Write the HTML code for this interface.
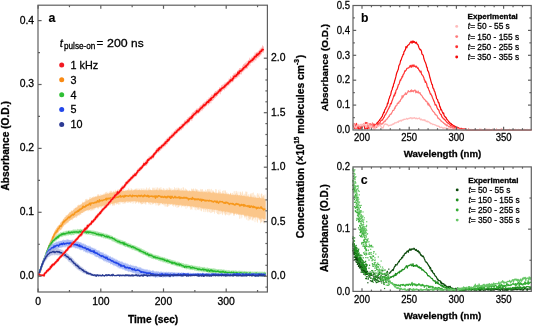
<!DOCTYPE html>
<html><head><meta charset="utf-8"><style>
html,body{margin:0;padding:0;background:#fff;}
svg{display:block;font-family:"Liberation Sans", sans-serif;will-change:transform;}
text{stroke:#000;stroke-width:0.28px;}
</style></head><body>
<svg width="533" height="326" viewBox="0 0 533 326">
<rect width="533" height="326" fill="#fff"/>
<path d="M38.5,273.64 L39,272.79 L39.5,271.47 L40,269.69 L40.5,267.95 L41,266.94 L41.5,265.46 L42,262.95 L42.5,261.96 L43,260.8 L43.5,259.39 L44,258.29 L44.5,256.72 L45,255.5 L45.5,254.14 L46,252.05 L46.5,251.23 L47,250.14 L47.5,248.72 L48,246.65 L48.5,245.26 L49,244.88 L49.5,243.49 L50,241.27 L50.5,241.26 L51,239.22 L51.5,238.67 L52,236.39 L52.5,236.01 L53,235.28 L53.5,234.01 L54,232.79 L54.5,231.45 L55,231.17 L55.5,229.35 L56,229.35 L56.5,228.23 L57,227.33 L57.5,226.46 L58,226.67 L58.5,225.73 L59,225.51 L59.5,224.68 L60,223.97 L60.5,222.79 L61,222.11 L61.5,222.31 L62,220.51 L62.5,220.95 L63,220.02 L63.5,218.44 L64,218.76 L64.5,218.23 L65,217.57 L65.5,217.11 L66,216.5 L66.5,215.35 L67,215.45 L67.5,215.25 L68,214.15 L68.5,214.21 L69,212.87 L69.5,213.53 L70,212.15 L70.5,212.52 L71,211.81 L71.5,211.22 L72,210.89 L72.5,210.94 L73,210.02 L73.5,209.43 L74,209.76 L74.5,209.47 L75,208.29 L75.5,207.86 L76,208.25 L76.5,207.8 L77,207.18 L77.5,207.13 L78,205.81 L78.5,206.11 L79,205.61 L79.5,205.54 L80,204.87 L80.5,204.95 L81,204.38 L81.5,204.21 L82,203.27 L82.5,202.8 L83,202.99 L83.5,202.74 L84,202.34 L84.5,202.43 L85,202.08 L85.5,201.42 L86,201.49 L86.5,199.88 L87,200.43 L87.5,200.48 L88,200.14 L88.5,199.64 L89,199.7 L89.5,199.44 L90,198.58 L90.5,198.94 L91,198.67 L91.5,197.94 L92,198.5 L92.5,197.36 L93,197.91 L93.5,197.82 L94,197.62 L94.5,196.98 L95,197.11 L95.5,196.56 L96,197.04 L96.5,196.99 L97,196.6 L97.5,196.32 L98,195.52 L98.5,196.19 L99,195.78 L99.5,195.76 L100,195.93 L100.5,195.82 L101,195.26 L101.5,195.31 L102,195.25 L102.5,194.75 L103,195.03 L103.5,194.7 L104,194.72 L104.5,194.5 L105,194.57 L105.5,193.92 L106,193.34 L106.5,194.26 L107,193.39 L107.5,192.91 L108,193.74 L108.5,193.42 L109,193.43 L109.5,193.29 L110,192.82 L110.5,192.64 L111,192.97 L111.5,193.01 L112,192.57 L112.5,192.78 L113,191.92 L113.5,192.74 L114,191.57 L114.5,192.44 L115,192.04 L115.5,191.7 L116,191.23 L116.5,191.24 L117,191.64 L117.5,191.28 L118,191.34 L118.5,191.29 L119,191.51 L119.5,190.58 L120,190.72 L120.5,191.27 L121,190.82 L121.5,191 L122,191.01 L122.5,190.66 L123,190.76 L123.5,190.7 L124,191.03 L124.5,191.05 L125,190.5 L125.5,190.46 L126,190.92 L126.5,190.4 L127,190.61 L127.5,190.13 L128,190.51 L128.5,190.61 L129,190.66 L129.5,190.7 L130,190.14 L130.5,190.79 L131,189.73 L131.5,190 L132,190.37 L132.5,190.63 L133,190.09 L133.5,190.6 L134,190.3 L134.5,190.09 L135,190.24 L135.5,189.49 L136,189.47 L136.5,189.55 L137,190.3 L137.5,190.11 L138,190.57 L138.5,189.64 L139,190.03 L139.5,189.77 L140,189.82 L140.5,190.4 L141,190.13 L141.5,190.41 L142,190.1 L142.5,190.31 L143,190.46 L143.5,189.88 L144,190.36 L144.5,190.19 L145,190.36 L145.5,190.25 L146,190.18 L146.5,190.17 L147,190.49 L147.5,190.39 L148,190.15 L148.5,190.4 L149,189.46 L149.5,190.36 L150,190.36 L150.5,189.86 L151,190.47 L151.5,190.07 L152,190.03 L152.5,190.45 L153,190.05 L153.5,190.4 L154,190.16 L154.5,189.89 L155,190.42 L155.5,190.24 L156,189.77 L156.5,189.79 L157,190.26 L157.5,190.16 L158,190.31 L158.5,190.4 L159,189.34 L159.5,189.72 L160,190.47 L160.5,190.05 L161,189.79 L161.5,189.72 L162,190.14 L162.5,190.43 L163,189.66 L163.5,190.41 L164,190.38 L164.5,190.41 L165,190.27 L165.5,190.5 L166,189.96 L166.5,190.27 L167,189.96 L167.5,190.55 L168,190.19 L168.5,189.83 L169,190.1 L169.5,189.54 L170,190.39 L170.5,189.75 L171,190.6 L171.5,190.33 L172,190.47 L172.5,190.36 L173,190.29 L173.5,190.68 L174,189.87 L174.5,190.42 L175,190.3 L175.5,190.39 L176,190.21 L176.5,190.44 L177,190.55 L177.5,189.43 L178,190.29 L178.5,190.5 L179,189.6 L179.5,189.84 L180,190.79 L180.5,190.49 L181,190.91 L181.5,190.71 L182,190.35 L182.5,190.23 L183,190.52 L183.5,190.79 L184,191.09 L184.5,190.37 L185,190.6 L185.5,190.94 L186,190.61 L186.5,190.15 L187,191.28 L187.5,190.3 L188,190.98 L188.5,191.17 L189,191.3 L189.5,190.48 L190,191.31 L190.5,190.94 L191,191.44 L191.5,191.52 L192,190.76 L192.5,190.88 L193,190.77 L193.5,191.31 L194,191.02 L194.5,190.96 L195,191.62 L195.5,191.32 L196,191.51 L196.5,190.2 L197,191.59 L197.5,191.53 L198,191.84 L198.5,191.68 L199,191.97 L199.5,191.59 L200,191.48 L200.5,191.86 L201,192.22 L201.5,191.31 L202,191.63 L202.5,191.91 L203,192.27 L203.5,192.29 L204,192.35 L204.5,192.12 L205,191.76 L205.5,192.42 L206,191.79 L206.5,192.46 L207,191.87 L207.5,192.72 L208,192.73 L208.5,191.79 L209,192.26 L209.5,192.09 L210,192.59 L210.5,192.35 L211,192.71 L211.5,192.85 L212,192.69 L212.5,192.19 L213,192.79 L213.5,191.69 L214,192.13 L214.5,193.24 L215,192.03 L215.5,193.39 L216,193.44 L216.5,192.15 L217,193.52 L217.5,193.49 L218,193.18 L218.5,193.32 L219,193.14 L219.5,193.49 L220,193.69 L220.5,193.48 L221,193.44 L221.5,193.91 L222,193.69 L222.5,193.71 L223,192.77 L223.5,193.8 L224,193.24 L224.5,194.17 L225,193.23 L225.5,194.33 L226,193.68 L226.5,193.57 L227,193.79 L227.5,194.54 L228,194.28 L228.5,194.1 L229,194.68 L229.5,194.58 L230,194.26 L230.5,193.03 L231,194.03 L231.5,194.96 L232,194.95 L232.5,194.87 L233,195.1 L233.5,195.14 L234,194.82 L234.5,194.82 L235,195.24 L235.5,194.5 L236,194.95 L236.5,195.57 L237,195.35 L237.5,194.78 L238,195.12 L238.5,195.79 L239,195.41 L239.5,195.08 L240,195.74 L240.5,195.98 L241,195.15 L241.5,195.37 L242,195.81 L242.5,195.88 L243,196.1 L243.5,195.82 L244,195.69 L244.5,196.04 L245,195.68 L245.5,196.58 L246,196.21 L246.5,196.55 L247,196.47 L247.5,196.61 L248,195.31 L248.5,196.63 L249,196.26 L249.5,196.97 L250,196.77 L250.5,196.61 L251,197.12 L251.5,196.52 L252,197.45 L252.5,197.12 L253,197.36 L253.5,197.22 L254,197.17 L254.5,197.71 L255,197.53 L255.5,197.62 L256,197.48 L256.5,197.69 L257,197.88 L257.5,197.97 L258,197.98 L258.5,198.03 L259,197.88 L259.5,197.1 L260,197.98 L260.5,198.22 L261,198.38 L261.5,198.19 L262,198.46 L262.5,198.15 L263,197.17 L263.5,198.56 L264,198.41 L264.5,199.01 L265,198.73 L265.5,198.78 L265.5,219.01 L265,219.73 L264.5,218.93 L264,219.01 L263.5,219.05 L263,218.98 L262.5,218.49 L262,218.75 L261.5,218.54 L261,218.33 L260.5,219.57 L260,218.67 L259.5,218.44 L259,218.47 L258.5,217.93 L258,217.6 L257.5,217.83 L257,217.78 L256.5,217.62 L256,217.35 L255.5,217.32 L255,217.97 L254.5,217.27 L254,217.45 L253.5,217.58 L253,216.96 L252.5,216.6 L252,216.6 L251.5,216.95 L251,216.48 L250.5,216.52 L250,216.13 L249.5,216.67 L249,216.03 L248.5,215.83 L248,216.1 L247.5,215.78 L247,215.78 L246.5,215.63 L246,215.16 L245.5,215.42 L245,216.18 L244.5,215.56 L244,215.63 L243.5,215.28 L243,214.69 L242.5,214.74 L242,214.6 L241.5,214.69 L241,215.45 L240.5,214.65 L240,214.11 L239.5,214.11 L239,214.97 L238.5,213.75 L238,213.89 L237.5,213.82 L237,214.34 L236.5,213.49 L236,213.57 L235.5,214.31 L235,213.47 L234.5,213.98 L234,214 L233.5,213.7 L233,212.67 L232.5,213.02 L232,212.87 L231.5,212.66 L231,212.62 L230.5,213.17 L230,212.12 L229.5,212.67 L229,212.52 L228.5,211.96 L228,212.15 L227.5,211.77 L227,211.59 L226.5,211.54 L226,211.82 L225.5,212.16 L225,211.79 L224.5,211.13 L224,211.56 L223.5,211.16 L223,211.11 L222.5,212.07 L222,211.16 L221.5,211.32 L221,210.66 L220.5,210.54 L220,210.87 L219.5,210.78 L219,210.68 L218.5,210.6 L218,210.21 L217.5,210.19 L217,210.19 L216.5,209.92 L216,209.83 L215.5,209.82 L215,209.74 L214.5,210.02 L214,209.7 L213.5,209.4 L213,209.43 L212.5,209.47 L212,210.04 L211.5,209.33 L211,209.03 L210.5,209.41 L210,209.07 L209.5,208.76 L209,209.05 L208.5,208.89 L208,208.71 L207.5,208.68 L207,208.54 L206.5,208.89 L206,208.22 L205.5,208.4 L205,208.36 L204.5,208.6 L204,207.9 L203.5,208.76 L203,208.18 L202.5,207.93 L202,208.3 L201.5,208.03 L201,207.48 L200.5,207.93 L200,207.44 L199.5,207.27 L199,207.29 L198.5,207.54 L198,207.89 L197.5,206.94 L197,206.92 L196.5,206.95 L196,206.83 L195.5,207.41 L195,207.12 L194.5,206.53 L194,207.39 L193.5,206.75 L193,206.81 L192.5,206.36 L192,206.3 L191.5,206.45 L191,206.36 L190.5,206.88 L190,206.17 L189.5,206.12 L189,205.89 L188.5,206.55 L188,206.2 L187.5,206.18 L187,205.62 L186.5,205.5 L186,206.61 L185.5,206.07 L185,205.43 L184.5,206.4 L184,205.33 L183.5,205.39 L183,206.31 L182.5,205.42 L182,205.37 L181.5,205.76 L181,204.88 L180.5,204.75 L180,205.07 L179.5,204.86 L179,204.88 L178.5,204.95 L178,205 L177.5,204.76 L177,204.73 L176.5,205.42 L176,204.95 L175.5,204.85 L175,204.11 L174.5,204.8 L174,204.2 L173.5,204.65 L173,204.38 L172.5,203.87 L172,204.91 L171.5,204.01 L171,204.78 L170.5,204.52 L170,203.71 L169.5,204.32 L169,203.76 L168.5,203.97 L168,203.77 L167.5,204.64 L167,204.03 L166.5,203.78 L166,203.57 L165.5,203.95 L165,203.24 L164.5,203.93 L164,203.22 L163.5,203.34 L163,203.56 L162.5,203.94 L162,203.57 L161.5,203.16 L161,202.94 L160.5,203.06 L160,202.95 L159.5,203.62 L159,202.81 L158.5,203.17 L158,202.64 L157.5,203.24 L157,203 L156.5,202.73 L156,202.81 L155.5,202.8 L155,203.03 L154.5,202.7 L154,202.31 L153.5,204.05 L153,202.59 L152.5,202.39 L152,202.74 L151.5,202.72 L151,202.48 L150.5,202.32 L150,202.04 L149.5,202.6 L149,201.98 L148.5,202.98 L148,201.97 L147.5,201.89 L147,202.01 L146.5,201.92 L146,202.42 L145.5,202.63 L145,202.12 L144.5,201.74 L144,201.86 L143.5,202.38 L143,201.74 L142.5,201.77 L142,202.5 L141.5,202.13 L141,202.16 L140.5,202.8 L140,202.6 L139.5,201.76 L139,201.79 L138.5,201.4 L138,202.29 L137.5,201.4 L137,201.62 L136.5,202.03 L136,201.23 L135.5,201.28 L135,201.54 L134.5,201.15 L134,201.33 L133.5,201.44 L133,201.35 L132.5,201.58 L132,201.65 L131.5,201.54 L131,201.13 L130.5,201.59 L130,201.08 L129.5,201.8 L129,201.31 L128.5,201.61 L128,201.35 L127.5,201.09 L127,201.75 L126.5,201.1 L126,201.22 L125.5,201.97 L125,201.94 L124.5,201.42 L124,201.68 L123.5,201.68 L123,201.66 L122.5,202.22 L122,201.92 L121.5,201.93 L121,201.61 L120.5,201.74 L120,202.08 L119.5,201.85 L119,202.12 L118.5,202.3 L118,202.57 L117.5,202.66 L117,202.31 L116.5,202.93 L116,202.48 L115.5,203.43 L115,202.71 L114.5,203.48 L114,203.4 L113.5,203.53 L113,203.2 L112.5,204.1 L112,204.26 L111.5,203.93 L111,203.37 L110.5,203.63 L110,204.72 L109.5,203.89 L109,204.15 L108.5,204.51 L108,204.47 L107.5,204.62 L107,204.5 L106.5,205.04 L106,204.54 L105.5,205 L105,205.76 L104.5,205.6 L104,205.36 L103.5,205.33 L103,206.04 L102.5,205.95 L102,206.68 L101.5,205.98 L101,205.88 L100.5,206.37 L100,206.17 L99.5,206.99 L99,206.76 L98.5,206.83 L98,207.09 L97.5,207.57 L97,206.98 L96.5,207.53 L96,207.43 L95.5,207.75 L95,208.09 L94.5,208.09 L94,208.35 L93.5,208.22 L93,209.57 L92.5,209.05 L92,208.45 L91.5,208.87 L91,209.26 L90.5,208.94 L90,209.59 L89.5,210.25 L89,209.6 L88.5,209.8 L88,210.3 L87.5,210.32 L87,210.05 L86.5,210.77 L86,210.94 L85.5,210.79 L85,211.19 L84.5,211.26 L84,211.51 L83.5,211.86 L83,213.03 L82.5,213.04 L82,213 L81.5,212.79 L81,213.28 L80.5,213.44 L80,214.16 L79.5,213.85 L79,214.94 L78.5,215.12 L78,214.82 L77.5,215.78 L77,215.89 L76.5,215.79 L76,216.27 L75.5,216.36 L75,216.74 L74.5,217.2 L74,218.02 L73.5,218.43 L73,218.07 L72.5,218.69 L72,219 L71.5,219.9 L71,220 L70.5,219.77 L70,220.56 L69.5,221.05 L69,221.25 L68.5,221.13 L68,222.31 L67.5,222.82 L67,222.86 L66.5,223.56 L66,223.42 L65.5,223.43 L65,224.58 L64.5,224.47 L64,225.62 L63.5,225.75 L63,226.65 L62.5,227.03 L62,227.81 L61.5,229.27 L61,229.63 L60.5,229.44 L60,230.58 L59.5,230.44 L59,231.56 L58.5,231.85 L58,232.84 L57.5,232.87 L57,233.8 L56.5,234.33 L56,234.96 L55.5,235.46 L55,236.39 L54.5,237.17 L54,238.35 L53.5,239.35 L53,240.23 L52.5,241.61 L52,242.21 L51.5,243.7 L51,244.91 L50.5,245.98 L50,246.77 L49.5,248.39 L49,249.58 L48.5,250.57 L48,252.03 L47.5,252.69 L47,254.21 L46.5,255.19 L46,256.74 L45.5,257.85 L45,259.06 L44.5,260.81 L44,261.67 L43.5,263.56 L43,264.67 L42.5,266.15 L42,267.76 L41.5,268.55 L41,269.75 L40.5,271.35 L40,272.79 L39.5,275.79 L39,276.75 L38.5,277.53 Z" fill="#fdb96b" fill-opacity="0.6"/>
<path d="M38.5,274.25V277.56M39,272.58V276.3M39.5,270.83V274.35M40,269.66V272.54M40.5,268.15V271.23M41,266.92V270.37M41.5,265.53V268.37M42,263.49V267.38M42.5,262.26V266.25M43,261.02V264.34M43.5,259.36V262.92M44,257.8V262.45M44.5,256.29V261.11M45,255.68V259.35M45.5,253.43V258.5M46,252.38V257.01M46.5,251.38V255.31M47,250.26V254.75M47.5,248.66V253.6M48,247.67V252.14M48.5,245.74V250.01M49,244.29V249.6M49.5,242.98V248.42M50,241.76V247.36M50.5,240.93V246.48M51,239.6V244.48M51.5,237.74V243.39M52,237.31V242.87M52.5,235.68V241.3M53,235.62V240.64M53.5,233.77V239.85M54,233.2V239.04M54.5,231.46V238.19M55,230.52V237.04M55.5,229.91V236.5M56,229.55V235.45M56.5,227.89V234.9M57,228.16V233.52M57.5,226.21V233.64M58,226.78V232.6M58.5,225.08V232.65M59,224.93V230.88M59.5,224.82V230.22M60,224.31V229.75M60.5,222.79V230.3M61,222.6V230.07M61.5,222.46V228.3M62,220.95V228.28M62.5,221.07V228.29M63,219.39V227.06M63.5,219.09V226.38M64,218.96V225.21M64.5,217.29V225.23M65,216.91V223.7M65.5,216.76V225.02M66,215.05V224.29M66.5,216.28V222.44M67,215.52V223.53M67.5,215.1V221.97M68,214.54V222.63M68.5,213.56V222.54M69,214.06V220.53M69.5,212.03V220.29M70,211.87V220.98M70.5,212.52V219.91M71,210.97V219.06M71.5,210.07V218.77M72,211.39V219.73M72.5,211.09V220.21M73,209.98V217.82M73.5,210.18V218.56M74,208.17V217.58M74.5,208.85V217.98M75,207.87V218.03M75.5,208.24V216.9M76,206.55V217.85M76.5,207.24V217.77M77,207.44V217.07M77.5,205.29V216.15M78,205.43V214.62M78.5,204.67V215.85M79,204.95V215.32M79.5,205.64V215.71M80,204.34V214.83M80.5,204.89V214.6M81,204.37V214.68M81.5,204.58V212.77M82,203.76V213.22M82.5,201.68V211.92M83,202.18V211.74M83.5,202.32V212.19M84,202.58V212.43M84.5,201.78V211.6M85,200.72V211.32M85.5,199.41V211.09M86,199.05V210.63M86.5,198.85V210.13M87,201.21V210.01M87.5,198.95V210.2M88,199.91V211.27M88.5,200.37V210.7M89,199.04V209.44M89.5,197.29V209.85M90,198.88V210.68M90.5,196.98V209.15M91,198.93V211.2M91.5,197.8V209.79M92,197.5V210.55M92.5,197.38V210.22M93,196.88V208M93.5,196.72V210.29M94,196.45V208.73M94.5,197.85V209.59M95,196.53V208.24M95.5,196.45V208.38M96,196.41V207.84M96.5,195.87V206.92M97,196.46V208M97.5,194.24V207.82M98,195.13V209.14M98.5,194.2V208.43M99,194.65V207.93M99.5,195.86V206.33M100,196.14V206.06M100.5,194.24V207.55M101,195.93V208.14M101.5,194.52V207.06M102,195.55V207.93M102.5,195.4V205.76M103,194.05V206.53M103.5,193.7V207.78M104,195.15V206.84M104.5,193.78V207.14M105,192.9V207.02M105.5,192.16V206.79M106,194.34V205.9M106.5,192.2V206.52M107,191.59V205.27M107.5,194.37V206.13M108,193.4V205.79M108.5,194V204.73M109,192.05V203.89M109.5,192.93V203.83M110,191V205.7M110.5,191.69V204.79M111,190.51V203.86M111.5,191.26V203.21M112,191.42V203.44M112.5,193.24V205.58M113,192.28V205.73M113.5,190.92V204.62M114,190.84V205.54M114.5,192.16V205.43M115,191.76V202.52M115.5,189.77V202.43M116,191.08V204.65M116.5,191.62V204.21M117,190.38V204.03M117.5,191.85V203.99M118,189.6V202.14M118.5,189.13V204.61M119,191.07V204.53M119.5,189.05V201.82M120,189.59V204.42M120.5,189.27V201.74M121,190.52V203.03M121.5,190.56V202.4M122,191.37V201.15M122.5,190.66V202.4M123,189.74V204.02M123.5,191.23V202.05M124,188.72V203.51M124.5,191.07V203M125,191.1V203.81M125.5,190.52V202.7M126,189.83V202.37M126.5,190.61V201.87M127,190.38V202.65M127.5,189.91V202.56M128,189.53V202.77M128.5,188.14V202.35M129,189.48V202.59M129.5,189.47V201.94M130,190.41V202.33M130.5,190.39V202.74M131,188.34V203.21M131.5,188.64V201.37M132,191.02V201.36M132.5,189.28V201.13M133,190.78V203.96M133.5,189.94V200.98M134,189.42V203.06M134.5,189.57V201.25M135,189.38V201.07M135.5,188.65V203.94M136,190.9V202.76M136.5,188.29V203.02M137,190.52V201.16M137.5,189.49V201.12M138,188.21V202.7M138.5,189.93V203.58M139,190.26V202.76M139.5,189.27V201.41M140,188.26V203.44M140.5,190.28V202.57M141,189.89V204.32M141.5,188.66V204.38M142,188.3V203.89M142.5,189.85V204.12M143,189.76V204.09M143.5,188.45V203.03M144,190.31V203.38M144.5,188.72V203.71M145,190.66V202.22M145.5,188.92V204.36M146,190.06V204.56M146.5,187.44V201.75M147,188.31V202.87M147.5,190.38V202.28M148,189.58V201.59M148.5,188.38V203.18M149,189.62V204.69M149.5,187.39V203.27M150,189.73V203.82M150.5,189.39V204.9M151,189.8V202.18M151.5,190.79V202.37M152,190.5V205.1M152.5,188.36V203.94M153,187.38V204.11M153.5,188.25V202.46M154,189.78V204.19M154.5,187.75V202.99M155,189.16V203.03M155.5,189.77V204.16M156,187.41V205.7M156.5,188.73V202.18M157,189.81V204.58M157.5,187.36V202.71M158,187.72V205.52M158.5,190.52V205.66M159,188.6V205.49M159.5,188.3V204.89M160,187.52V205.26M160.5,189.3V203.85M161,187.15V203.43M161.5,189.43V203.01M162,189.57V204.75M162.5,190.14V204.18M163,188.53V204.07M163.5,187.95V204.63M164,189.64V205.49M164.5,188.74V204.47M165,190.29V206.62M165.5,190.24V204.3M166,188.62V206.51M166.5,189.75V203.31M167,188.14V206.69M167.5,189.16V206.93M168,189.68V206.51M168.5,190.98V205.76M169,187.43V204.2M169.5,187.58V205.54M170,189.72V203.34M170.5,188.34V204.74M171,188.83V204.07M171.5,190.97V203.7M172,188.44V203.87M172.5,189.85V205.82M173,189.96V205.39M173.5,189.4V206.7M174,189.45V204.71M174.5,187.04V204.31M175,188.49V206.24M175.5,189.71V206.8M176,188.03V205.74M176.5,189.85V204.27M177,187.56V207.98M177.5,190.05V205.24M178,188.52V207.24M178.5,187.69V207.26M179,188.41V206.7M179.5,191.26V206.2M180,188.32V205.47M180.5,190.31V206M181,189.06V204.34M181.5,188.18V207.4M182,190.47V205.48M182.5,190.71V206.24M183,187.32V206.21M183.5,187.49V205.37M184,190.5V206.86M184.5,190.92V205.2M185,188.67V206.27M185.5,188.56V205.83M186,190.34V208.83M186.5,189.13V205.5M187,189.86V205.47M187.5,191.46V207.59M188,191.29V206.1M188.5,191.49V205.71M189,189.84V206.02M189.5,190.47V207.3M190,191.04V206.02M190.5,191.28V209.73M191,190.41V207.61M191.5,188.61V209.19M192,188.89V209.74M192.5,189.66V206.51M193,189.33V207.89M193.5,188.36V207M194,189.09V206.01M194.5,190.47V207.63M195,191.83V209.89M195.5,188.48V207.33M196,189.04V210.43M196.5,189.69V208.03M197,189.24V208.23M197.5,189.79V209.55M198,191.12V209.63M198.5,190.15V209.39M199,191.21V210.18M199.5,191.91V209.02M200,190.14V206.86M200.5,188.91V209.52M201,192.36V211M201.5,189.39V211.4M202,189.56V209.52M202.5,189.07V208.91M203,190.8V208.97M203.5,191.36V211.87M204,190.53V209.86M204.5,191.19V209.07M205,191.94V212.16M205.5,189.54V209.97M206,190.23V211.79M206.5,191.38V209.17M207,190.89V210.12M207.5,189.2V212.32M208,189.09V211.43M208.5,190.75V208.96M209,188.8V212.38M209.5,190.83V211.97M210,189.03V209.83M210.5,190.67V213.16M211,192.45V209.23M211.5,188.87V212.92M212,193.43V211.53M212.5,190.46V212.3M213,190.64V211.61M213.5,190.72V211.98M214,193.35V209.82M214.5,192.42V213.7M215,191.54V212.2M215.5,189.04V209.68M216,193.01V210.68M216.5,189.35V212.98M217,193.41V209.76M217.5,193.25V214.16M218,192.01V214.02M218.5,189.86V214.6M219,191.46V211.12M219.5,191.64V214.4M220,189.44V211.93M220.5,191.86V214.09M221,192.37V211.27M221.5,193.02V212.61M222,193.28V214.18M222.5,191.09V215.15M223,190.71V212.73M223.5,193.71V211.67M224,190.05V213.86M224.5,194.21V213.24M225,190.77V214.94M225.5,190.43V215.6M226,192.36V214.4M226.5,194.59V214.46M227,192.29V212.16M227.5,193.73V214.9M228,193.93V213.04M228.5,193.17V215.38M229,194.22V211.81M229.5,194.32V215.31M230,195.09V214.56M230.5,192.69V213.68M231,193.6V214.67M231.5,195.21V213.6M232,193.33V212.7M232.5,192.8V213.72M233,195.36V212.82M233.5,193.98V215.84M234,191.45V214.98M234.5,195.64V215.74M235,190.97V212.78M235.5,194.1V212.69M236,192.89V213.26M236.5,190.92V215.04M237,192.75V214.7M237.5,194.39V213.03M238,191.49V214.57M238.5,194.99V215.17M239,195.41V215M239.5,194.92V218.82M240,191.63V215.03M240.5,191.89V213.75M241,193.47V218.5M241.5,195.51V214.63M242,192.3V217.52M242.5,191.33V214.81M243,196.08V214.31M243.5,195.13V214.37M244,193.54V214.68M244.5,194.51V217.24M245,196.67V218.35M245.5,191.54V216.71M246,194.32V216.73M246.5,191.7V219.58M247,191.82V217M247.5,195.65V214.96M248,197.1V220.51M248.5,194.21V217.65M249,196.75V220.62M249.5,197.5V219.04M250,194.29V219.62M250.5,193.5V219.4M251,194.67V218.09M251.5,193.27V216.42M252,196.39V220.35M252.5,192.86V219.75M253,197.89V220.85M253.5,192.5V218.76M254,195.99V218.22M254.5,194.76V217.24M255,197.63V222.23M255.5,195.51V219.5M256,196.76V216.79M256.5,198.24V216.97M257,194.47V221.4M257.5,193.03V222.72M258,197.91V217M258.5,194.75V218.78M259,193.37V220.06M259.5,196.36V219.76M260,197.22V220.73M260.5,198.02V223.35M261,194.29V222.71M261.5,193.5V221.77M262,193.82V222.22M262.5,196.49V217.92M263,196.3V221.21M263.5,195V223.33M264,195.75V218.6M264.5,199.13V223.5M265,194.36V220.69M265.5,199.36V218.89" stroke="#fdb96b" stroke-width="0.6" stroke-opacity="0.45" fill="none"/>
<path d="M38.5,275.43 L39,273.16 L39.5,272.51 L40,271.62 L40.5,271.02 L41,268.85 L41.5,266.41 L42,265.37 L42.5,263.6 L43,262.6 L43.5,260.89 L44,259.18 L44.5,258.89 L45,257.43 L45.5,255.91 L46,254.84 L46.5,254.36 L47,252.09 L47.5,250.54 L48,249.88 L48.5,247.35 L49,247.3 L49.5,245.31 L50,244.09 L50.5,243.39 L51,243.02 L51.5,240.66 L52,240.39 L52.5,239.01 L53,237.06 L53.5,237.17 L54,235.31 L54.5,234.03 L55,233.45 L55.5,232.61 L56,232.46 L56.5,231.04 L57,231.45 L57.5,230.16 L58,229.06 L58.5,228.41 L59,228.36 L59.5,226.67 L60,226.03 L60.5,226.1 L61,226.27 L61.5,225.43 L62,224.7 L62.5,223.87 L63,222.15 L63.5,222.36 L64,220.99 L64.5,221.71 L65,220.75 L65.5,220.21 L66,219.99 L66.5,219.51 L67,219.04 L67.5,218.69 L68,217.81 L68.5,217.04 L69,217.49 L69.5,217.65 L70,217.05 L70.5,216.06 L71,216.09 L71.5,215.19 L72,215.23 L72.5,214.37 L73,214.38 L73.5,214.94 L74,213.96 L74.5,213.97 L75,212.48 L75.5,212.17 L76,212.14 L76.5,212.09 L77,211.37 L77.5,211.64 L78,210.52 L78.5,211.14 L79,210.62 L79.5,209.25 L80,209.78 L80.5,209.05 L81,209.36 L81.5,208.28 L82,208.4 L82.5,208.22 L83,206.28 L83.5,206.43 L84,207.14 L84.5,206.74 L85,207.03 L85.5,206.36 L86,205.36 L86.5,205.9 L87,205.11 L87.5,205.14 L88,204.76 L88.5,204.97 L89,203.88 L89.5,203.82 L90,203.07 L90.5,205.07 L91,203.31 L91.5,203.2 L92,202.89 L92.5,202.97 L93,202.91 L93.5,203.27 L94,202.9 L94.5,202.82 L95,202.2 L95.5,202.3 L96,202.8 L96.5,202.03 L97,202.05 L97.5,200.73 L98,201.86 L98.5,201.59 L99,201.97 L99.5,199.81 L100,201.06 L100.5,200.84 L101,200.81 L101.5,200.32 L102,200.6 L102.5,200.72 L103,200.26 L103.5,199.95 L104,199.87 L104.5,199.65 L105,199.74 L105.5,199.24 L106,198.48 L106.5,200.02 L107,198.35 L107.5,199.05 L108,198.34 L108.5,198.73 L109,198.27 L109.5,198.61 L110,198.1 L110.5,197.76 L111,198.46 L111.5,198.86 L112,198.26 L112.5,198.03 L113,197.34 L113.5,197.73 L114,197.89 L114.5,197.25 L115,197.93 L115.5,197.36 L116,197.46 L116.5,196.95 L117,196.87 L117.5,197.14 L118,197.14 L118.5,197.04 L119,196.27 L119.5,196.34 L120,196.63 L120.5,195.64 L121,197.02 L121.5,196.59 L122,196.4 L122.5,195.96 L123,196.68 L123.5,196.07 L124,197.11 L124.5,196.32 L125,195.34 L125.5,196.41 L126,195.75 L126.5,195.73 L127,195.84 L127.5,195.88 L128,196.05 L128.5,196.29 L129,196.13 L129.5,195.53 L130,195.21 L130.5,195.48 L131,196.07 L131.5,196.32 L132,196.79 L132.5,195.22 L133,195.94 L133.5,195.79 L134,195.71 L134.5,195.98 L135,195.8 L135.5,195.79 L136,195.61 L136.5,196.14 L137,196.47 L137.5,196.77 L138,195.7 L138.5,195.44 L139,195.84 L139.5,195.57 L140,196.51 L140.5,195.59 L141,196.05 L141.5,195.35 L142,195.85 L142.5,196.13 L143,196.81 L143.5,195.71 L144,196.25 L144.5,195.04 L145,195.49 L145.5,195.7 L146,195.86 L146.5,196.34 L147,196.45 L147.5,195.35 L148,196.43 L148.5,195.62 L149,197.11 L149.5,196.36 L150,196.3 L150.5,196.15 L151,196.23 L151.5,196.27 L152,195.93 L152.5,196.67 L153,196.45 L153.5,196.7 L154,196.32 L154.5,196.7 L155,196 L155.5,198.18 L156,196.06 L156.5,196.21 L157,196.93 L157.5,197.09 L158,196.09 L158.5,195.68 L159,195.83 L159.5,196.06 L160,196.18 L160.5,196.51 L161,197.13 L161.5,197.18 L162,196.35 L162.5,196.95 L163,197.14 L163.5,197.43 L164,196.67 L164.5,196.4 L165,197.17 L165.5,197.58 L166,196.58 L166.5,197.84 L167,197.75 L167.5,196.79 L168,196.16 L168.5,196.67 L169,196.83 L169.5,197.3 L170,196.22 L170.5,198.3 L171,198.29 L171.5,196.78 L172,196.24 L172.5,197.12 L173,197.44 L173.5,197.94 L174,197.65 L174.5,197.23 L175,196.38 L175.5,197.65 L176,197.85 L176.5,197.31 L177,197.63 L177.5,197.63 L178,197.44 L178.5,197.03 L179,197.82 L179.5,196.98 L180,198.43 L180.5,197.32 L181,198.05 L181.5,197.48 L182,198.08 L182.5,197.82 L183,198.23 L183.5,197.62 L184,197.24 L184.5,197.97 L185,197.98 L185.5,197.45 L186,197.9 L186.5,197.45 L187,198.39 L187.5,198.2 L188,198.44 L188.5,199.78 L189,198.61 L189.5,198.77 L190,198.94 L190.5,198.61 L191,198.44 L191.5,199.22 L192,199.35 L192.5,197.43 L193,198.85 L193.5,198.82 L194,198.76 L194.5,199.72 L195,198.88 L195.5,199.63 L196,198.99 L196.5,199.11 L197,199.73 L197.5,199.05 L198,199.39 L198.5,198.98 L199,199.14 L199.5,200 L200,199.99 L200.5,199.18 L201,199.22 L201.5,201.14 L202,199.6 L202.5,199.55 L203,200.3 L203.5,199.71 L204,199.97 L204.5,200.66 L205,200.77 L205.5,200.23 L206,201.06 L206.5,200.38 L207,200.39 L207.5,200.56 L208,200.47 L208.5,200.95 L209,200.88 L209.5,200.41 L210,200.95 L210.5,200.65 L211,200.69 L211.5,200.97 L212,201.61 L212.5,201.3 L213,201.85 L213.5,202.06 L214,201.32 L214.5,201.1 L215,201.07 L215.5,201.66 L216,202.01 L216.5,202.43 L217,201.05 L217.5,202.22 L218,202.36 L218.5,203.1 L219,202.04 L219.5,201.99 L220,201.31 L220.5,201.74 L221,201.64 L221.5,201.75 L222,201.87 L222.5,201.62 L223,202.4 L223.5,202.71 L224,202.96 L224.5,202.6 L225,203.25 L225.5,203.32 L226,202.1 L226.5,202.79 L227,202.37 L227.5,202.58 L228,203.23 L228.5,203.15 L229,204.02 L229.5,204.38 L230,203.64 L230.5,203.41 L231,203.51 L231.5,203.65 L232,204.02 L232.5,203.44 L233,204.18 L233.5,203.84 L234,204.57 L234.5,204.8 L235,205.07 L235.5,204.2 L236,203.68 L236.5,203.59 L237,204.36 L237.5,203.88 L238,203.84 L238.5,204.57 L239,204.33 L239.5,205.24 L240,205.94 L240.5,204.94 L241,205.28 L241.5,204.42 L242,205.37 L242.5,205.01 L243,204.89 L243.5,204.58 L244,206.39 L244.5,204.87 L245,205.15 L245.5,205.83 L246,206.05 L246.5,206.13 L247,206.12 L247.5,205.7 L248,206.61 L248.5,206.41 L249,205.66 L249.5,207.27 L250,206.38 L250.5,207.11 L251,205.99 L251.5,206.2 L252,206.59 L252.5,206.61 L253,207.54 L253.5,206.31 L254,207.28 L254.5,206.77 L255,207.62 L255.5,207.55 L256,207.25 L256.5,208.72 L257,207.67 L257.5,208.32 L258,207.19 L258.5,207.87 L259,208.06 L259.5,208.16 L260,208 L260.5,207.84 L261,206.79 L261.5,208.14 L262,208.04 L262.5,208.45 L263,209.09 L263.5,209.85 L264,209.09 L264.5,209.41 L265,209.3 L265.5,209.35" fill="none" stroke="#f7981c" stroke-width="1.5" stroke-opacity="1.0" stroke-linejoin="round"/>
<path d="M38.5,273.72 L39,272.18 L39.5,270.47 L40,268.86 L40.5,266.57 L41,265.6 L41.5,263.74 L42,262.47 L42.5,261.61 L43,260.17 L43.5,258.75 L44,256.97 L44.5,255.4 L45,253.94 L45.5,253.49 L46,251.23 L46.5,251 L47,249.21 L47.5,248.38 L48,247.14 L48.5,245.98 L49,244.52 L49.5,243.2 L50,242.89 L50.5,242.14 L51,241.7 L51.5,240.61 L52,240.07 L52.5,239.48 L53,239.39 L53.5,238.75 L54,237.66 L54.5,237.7 L55,237.11 L55.5,236.43 L56,235.97 L56.5,235.46 L57,234.8 L57.5,234.8 L58,234.5 L58.5,233.12 L59,234.02 L59.5,233.52 L60,233.07 L60.5,232.08 L61,232.53 L61.5,232.63 L62,232.19 L62.5,232.28 L63,231.75 L63.5,231.53 L64,231.43 L64.5,231.84 L65,231.71 L65.5,231.61 L66,231.2 L66.5,230.8 L67,230.84 L67.5,231.33 L68,231.11 L68.5,230.1 L69,230.67 L69.5,230.82 L70,230.76 L70.5,230.68 L71,230 L71.5,230.56 L72,230.55 L72.5,230.04 L73,230.24 L73.5,229.62 L74,229.81 L74.5,229.9 L75,229.86 L75.5,229.94 L76,229.82 L76.5,229.8 L77,229.88 L77.5,228.53 L78,229.85 L78.5,229.37 L79,229.72 L79.5,229.09 L80,229.54 L80.5,228.58 L81,229.01 L81.5,229.57 L82,229.54 L82.5,229.4 L83,229.36 L83.5,229.26 L84,229.36 L84.5,229.66 L85,229.66 L85.5,229.97 L86,229.62 L86.5,230.05 L87,229.19 L87.5,229.9 L88,230.12 L88.5,229.95 L89,230.42 L89.5,229.84 L90,230.52 L90.5,229.74 L91,230.7 L91.5,230.65 L92,230.87 L92.5,230.91 L93,230.46 L93.5,231.27 L94,230.88 L94.5,231.45 L95,230.95 L95.5,231.32 L96,231.75 L96.5,231.83 L97,231.73 L97.5,231.55 L98,231.87 L98.5,232.24 L99,232.19 L99.5,232.46 L100,231.91 L100.5,232.82 L101,232.72 L101.5,233.22 L102,232.56 L102.5,233.15 L103,233.59 L103.5,233.1 L104,233.06 L104.5,233.87 L105,234.12 L105.5,233.5 L106,233.78 L106.5,234.57 L107,233.63 L107.5,234.02 L108,235.01 L108.5,234.87 L109,235.15 L109.5,234.98 L110,234.85 L110.5,235.38 L111,235.93 L111.5,235.18 L112,235.66 L112.5,236.33 L113,236.73 L113.5,237.19 L114,236.66 L114.5,237.79 L115,236.96 L115.5,238.22 L116,238.09 L116.5,238.81 L117,238.22 L117.5,239.23 L118,239.39 L118.5,239.53 L119,239.57 L119.5,240.05 L120,239.63 L120.5,239.62 L121,240.44 L121.5,240.31 L122,240.73 L122.5,240.53 L123,241.08 L123.5,241.45 L124,241.32 L124.5,241.33 L125,240.93 L125.5,241.62 L126,242.19 L126.5,242.53 L127,242.75 L127.5,243.05 L128,243.06 L128.5,242.88 L129,243.38 L129.5,243.92 L130,243.42 L130.5,244.02 L131,244.53 L131.5,244.74 L132,244.65 L132.5,245.1 L133,245.11 L133.5,245.3 L134,245.24 L134.5,245.79 L135,245.58 L135.5,246.13 L136,246.5 L136.5,246.15 L137,246.58 L137.5,247 L138,247.4 L138.5,247.85 L139,247.53 L139.5,247.87 L140,248.49 L140.5,248.01 L141,248.85 L141.5,248.55 L142,249.35 L142.5,249.37 L143,249.73 L143.5,249.78 L144,250.61 L144.5,249.77 L145,250.68 L145.5,251.17 L146,251.27 L146.5,251.25 L147,251.91 L147.5,251.79 L148,251.96 L148.5,252.39 L149,252.81 L149.5,252.83 L150,252.45 L150.5,253.33 L151,253.05 L151.5,253.28 L152,254.05 L152.5,253.74 L153,254.05 L153.5,254.66 L154,254.94 L154.5,255 L155,255.16 L155.5,254.53 L156,255.2 L156.5,255.22 L157,255.47 L157.5,256.03 L158,255.34 L158.5,255.93 L159,256.17 L159.5,256.43 L160,256.66 L160.5,256.48 L161,257.12 L161.5,257.21 L162,257.15 L162.5,257.09 L163,257.09 L163.5,257.86 L164,257.77 L164.5,257.18 L165,257.91 L165.5,258.16 L166,257.91 L166.5,258.76 L167,258.38 L167.5,258.93 L168,259.23 L168.5,259.26 L169,259.25 L169.5,259.02 L170,259.32 L170.5,259.96 L171,260.15 L171.5,260.09 L172,259.95 L172.5,260.21 L173,260.69 L173.5,260.57 L174,260.32 L174.5,261.14 L175,261.12 L175.5,261.43 L176,261.75 L176.5,261.7 L177,262.03 L177.5,261.51 L178,261.58 L178.5,262.42 L179,262.16 L179.5,261.78 L180,262.96 L180.5,262.77 L181,262.74 L181.5,262.83 L182,263.43 L182.5,263.35 L183,263.12 L183.5,263.86 L184,263.61 L184.5,263.97 L185,264.32 L185.5,264.37 L186,264.47 L186.5,263.91 L187,264.31 L187.5,264.2 L188,264.44 L188.5,264.84 L189,264.88 L189.5,265.33 L190,265.22 L190.5,265.24 L191,265.57 L191.5,264.57 L192,265.57 L192.5,265.82 L193,265.76 L193.5,265.74 L194,266.13 L194.5,265.76 L195,266 L195.5,266.32 L196,266.08 L196.5,266.34 L197,266.71 L197.5,266.47 L198,266.68 L198.5,266.79 L199,266.29 L199.5,266.52 L200,266.48 L200.5,267.15 L201,267.22 L201.5,266.98 L202,267.02 L202.5,267.43 L203,267.06 L203.5,267.54 L204,267.65 L204.5,266.83 L205,267.3 L205.5,267.51 L206,268.02 L206.5,268.17 L207,267.5 L207.5,267.5 L208,267.85 L208.5,268.08 L209,268.03 L209.5,268.28 L210,268.07 L210.5,268.63 L211,268.74 L211.5,268.69 L212,268.61 L212.5,268.94 L213,268.97 L213.5,268.46 L214,268.42 L214.5,268.77 L215,268.51 L215.5,268.93 L216,268.71 L216.5,269.3 L217,269.57 L217.5,269.42 L218,269.67 L218.5,268.89 L219,269.2 L219.5,269.64 L220,269.81 L220.5,269.69 L221,269.6 L221.5,269.16 L222,269.57 L222.5,269.74 L223,270.09 L223.5,269.61 L224,269.19 L224.5,270.32 L225,270.1 L225.5,270.32 L226,270.31 L226.5,270.45 L227,270.39 L227.5,270.4 L228,270.58 L228.5,270.32 L229,270.43 L229.5,270.74 L230,270.72 L230.5,270.9 L231,270.99 L231.5,270.43 L232,271.01 L232.5,270.94 L233,270.21 L233.5,270.81 L234,270.51 L234.5,271.07 L235,270.38 L235.5,270.31 L236,271.13 L236.5,270.72 L237,271.07 L237.5,271.2 L238,271.15 L238.5,270.77 L239,270.8 L239.5,270.61 L240,270.79 L240.5,271.15 L241,271.21 L241.5,271.11 L242,270.63 L242.5,271.43 L243,271.54 L243.5,271.29 L244,271.25 L244.5,270.76 L245,271.07 L245.5,271.38 L246,271.34 L246.5,271.65 L247,271.43 L247.5,271.52 L248,271.65 L248.5,271.58 L249,271.78 L249.5,271.67 L250,270.51 L250.5,271.44 L251,271.75 L251.5,271.95 L252,271.91 L252.5,271.18 L253,271.57 L253.5,271.64 L254,271.88 L254.5,271.7 L255,271.87 L255.5,272.01 L256,271.89 L256.5,271.73 L257,271.6 L257.5,271.85 L258,271.71 L258.5,272.16 L259,271.8 L259.5,271.85 L260,271.8 L260.5,271.95 L261,271.5 L261.5,271.8 L262,271.98 L262.5,271.45 L263,272.06 L263.5,272.07 L264,271.49 L264.5,272.1 L265,271.68 L265.5,272.21 L265.5,276.35 L265,276.47 L264.5,276.43 L264,276.16 L263.5,276.03 L263,276.01 L262.5,276.59 L262,276.43 L261.5,276.27 L261,277.11 L260.5,276.58 L260,276.52 L259.5,276.22 L259,276.65 L258.5,276.15 L258,275.94 L257.5,275.91 L257,276.17 L256.5,275.87 L256,276.28 L255.5,276.36 L255,275.96 L254.5,275.76 L254,276.26 L253.5,275.87 L253,276.26 L252.5,275.86 L252,276.4 L251.5,275.76 L251,276.84 L250.5,275.91 L250,275.71 L249.5,276.54 L249,275.91 L248.5,275.78 L248,275.76 L247.5,275.62 L247,276.14 L246.5,275.78 L246,275.81 L245.5,275.77 L245,276.41 L244.5,275.38 L244,275.64 L243.5,275.96 L243,275.7 L242.5,275.55 L242,275.61 L241.5,275.47 L241,275.42 L240.5,275.29 L240,275.51 L239.5,276.13 L239,275.93 L238.5,275.48 L238,275.83 L237.5,275.09 L237,275.41 L236.5,275.44 L236,274.99 L235.5,275.4 L235,275.02 L234.5,275.36 L234,275.15 L233.5,275.93 L233,276.13 L232.5,275.2 L232,274.79 L231.5,275.54 L231,275.02 L230.5,274.83 L230,274.8 L229.5,274.71 L229,274.61 L228.5,274.91 L228,274.53 L227.5,274.6 L227,274.61 L226.5,275.17 L226,274.88 L225.5,274.35 L225,274.36 L224.5,275.02 L224,274.46 L223.5,274.83 L223,274.42 L222.5,273.94 L222,273.9 L221.5,274.18 L221,274.34 L220.5,273.74 L220,273.92 L219.5,274.17 L219,273.81 L218.5,274.9 L218,273.55 L217.5,273.7 L217,273.64 L216.5,274.27 L216,273.32 L215.5,273.17 L215,273.25 L214.5,273.22 L214,272.93 L213.5,274.11 L213,272.86 L212.5,273.24 L212,273.7 L211.5,273.2 L211,272.93 L210.5,272.91 L210,273.01 L209.5,272.3 L209,272.55 L208.5,272.88 L208,272.19 L207.5,272.08 L207,272.15 L206.5,272.05 L206,272.44 L205.5,271.85 L205,271.79 L204.5,272.11 L204,271.81 L203.5,271.89 L203,271.35 L202.5,271.41 L202,271.36 L201.5,271.69 L201,271.17 L200.5,270.99 L200,271.82 L199.5,270.83 L199,271.15 L198.5,271.17 L198,271.31 L197.5,270.53 L197,270.7 L196.5,270.93 L196,270.25 L195.5,270.42 L195,270.29 L194.5,270.5 L194,269.91 L193.5,269.8 L193,269.95 L192.5,270.26 L192,269.68 L191.5,269.42 L191,269.44 L190.5,269.42 L190,269.8 L189.5,269.33 L189,269.12 L188.5,269.35 L188,268.88 L187.5,268.69 L187,269.39 L186.5,269.68 L186,268.33 L185.5,268.48 L185,268.35 L184.5,268.55 L184,267.98 L183.5,267.66 L183,267.88 L182.5,268.34 L182,267.34 L181.5,267.6 L181,267.08 L180.5,267.1 L180,267.07 L179.5,266.91 L179,266.54 L178.5,266.37 L178,266.07 L177.5,266.55 L177,266.63 L176.5,266.03 L176,265.83 L175.5,265.61 L175,265.28 L174.5,265.59 L174,265.02 L173.5,264.85 L173,264.82 L172.5,265.16 L172,264.19 L171.5,264.87 L171,264.54 L170.5,263.84 L170,263.76 L169.5,263.46 L169,263.73 L168.5,263.57 L168,264.33 L167.5,263.42 L167,263.08 L166.5,262.62 L166,262.85 L165.5,262.45 L165,262.31 L164.5,262.08 L164,262.39 L163.5,261.97 L163,261.82 L162.5,261.73 L162,261.28 L161.5,261.32 L161,261.42 L160.5,261.08 L160,261.15 L159.5,261.05 L159,260.28 L158.5,260.66 L158,259.96 L157.5,259.88 L157,260.29 L156.5,259.68 L156,259.33 L155.5,259.8 L155,259.05 L154.5,258.91 L154,259.07 L153.5,258.71 L153,258.94 L152.5,258.47 L152,258.18 L151.5,258.86 L151,257.78 L150.5,257.82 L150,257.75 L149.5,257.22 L149,257.24 L148.5,256.93 L148,256.55 L147.5,256.2 L147,256 L146.5,255.93 L146,255.49 L145.5,255.46 L145,254.81 L144.5,255.04 L144,254.68 L143.5,255 L143,253.94 L142.5,254.65 L142,253.78 L141.5,253.34 L141,253.45 L140.5,252.89 L140,252.43 L139.5,252.38 L139,252.36 L138.5,252.49 L138,251.62 L137.5,251.19 L137,250.92 L136.5,251.02 L136,250.79 L135.5,250.54 L135,250.46 L134.5,250.43 L134,249.54 L133.5,249.63 L133,249.2 L132.5,249.58 L132,250.39 L131.5,248.62 L131,248.6 L130.5,248.35 L130,248.48 L129.5,247.92 L129,248.13 L128.5,247.56 L128,247.35 L127.5,247.2 L127,246.8 L126.5,246.95 L126,246.84 L125.5,247.15 L125,246.83 L124.5,246.12 L124,246.05 L123.5,246.27 L123,245.72 L122.5,245.08 L122,245.11 L121.5,244.81 L121,244.55 L120.5,244.83 L120,244.43 L119.5,244.04 L119,244.06 L118.5,244.09 L118,243.32 L117.5,243.53 L117,242.88 L116.5,243.16 L116,242.41 L115.5,242.25 L115,242.42 L114.5,241.67 L114,241.69 L113.5,241.14 L113,242.08 L112.5,240.82 L112,241.81 L111.5,240.2 L111,239.96 L110.5,239.71 L110,239.7 L109.5,239.42 L109,239.09 L108.5,239.35 L108,239.06 L107.5,238.86 L107,238.5 L106.5,238.32 L106,238.4 L105.5,238.7 L105,238.68 L104.5,237.71 L104,237.89 L103.5,238.45 L103,237.4 L102.5,237.23 L102,237.06 L101.5,237.97 L101,236.91 L100.5,236.95 L100,236.98 L99.5,236.6 L99,236.75 L98.5,236.48 L98,236.42 L97.5,236.02 L97,236.03 L96.5,235.96 L96,236.4 L95.5,235.54 L95,235.96 L94.5,235.67 L94,235.35 L93.5,235.87 L93,235.88 L92.5,235.22 L92,235.19 L91.5,234.65 L91,234.87 L90.5,234.77 L90,235.12 L89.5,234.3 L89,234.26 L88.5,234.22 L88,234.68 L87.5,234.32 L87,234.19 L86.5,234.07 L86,234.38 L85.5,234.25 L85,233.66 L84.5,233.79 L84,233.78 L83.5,233.78 L83,233.48 L82.5,233.53 L82,233.57 L81.5,233.67 L81,234.03 L80.5,233.74 L80,233.94 L79.5,234 L79,234.41 L78.5,234.13 L78,233.84 L77.5,233.87 L77,234.06 L76.5,233.78 L76,234.19 L75.5,234.02 L75,234.22 L74.5,234.19 L74,235.01 L73.5,235.27 L73,234.3 L72.5,234.73 L72,234.41 L71.5,235.42 L71,234.76 L70.5,235.07 L70,234.73 L69.5,235.01 L69,234.77 L68.5,235.43 L68,235.37 L67.5,235.52 L67,235.76 L66.5,235.39 L66,235.49 L65.5,235.46 L65,235.66 L64.5,235.98 L64,235.85 L63.5,235.87 L63,236.02 L62.5,236.24 L62,236.47 L61.5,236.86 L61,236.91 L60.5,236.85 L60,237.59 L59.5,238.04 L59,238.92 L58.5,238.56 L58,238.55 L57.5,238.78 L57,240.48 L56.5,239.6 L56,240.83 L55.5,240.92 L55,241.72 L54.5,241.6 L54,242.14 L53.5,242.55 L53,243.49 L52.5,244.38 L52,244.84 L51.5,245.44 L51,245.53 L50.5,246.27 L50,247.29 L49.5,247.64 L49,248.86 L48.5,249.83 L48,251.16 L47.5,252.54 L47,253.5 L46.5,254.96 L46,256.34 L45.5,257.93 L45,259.37 L44.5,260.25 L44,261.81 L43.5,263.02 L43,264.34 L42.5,265.61 L42,267.44 L41.5,269.04 L41,270.57 L40.5,271.6 L40,273.32 L39.5,274.88 L39,276.36 L38.5,278.33 Z" fill="#86dc86" fill-opacity="0.55"/>
<path d="M38.5,273.37V278.36M39,272.04V276.72M39.5,270.11V275.14M40,268.25V273.52M40.5,267.27V271.12M41,266.09V269.93M41.5,264.18V268.41M42,263.06V267.18M42.5,261.5V265.34M43,259.51V264.52M43.5,258.92V262.95M44,257.11V261.34M44.5,255.85V260.74M45,254.94V259.16M45.5,252.78V258.07M46,252V255.99M46.5,250.15V255.79M47,249.03V253.65M47.5,247.99V253.04M48,246.8V251.98M48.5,245.49V249.63M49,244.52V249.46M49.5,242.84V248.48M50,243.04V247.02M50.5,241.91V246.1M51,240.94V245.98M51.5,240.5V245.49M52,240.31V245.21M52.5,239.84V244.16M53,239.05V243.81M53.5,238.15V242.93M54,238.02V242.09M54.5,237.82V241.83M55,237.35V241.21M55.5,235.76V241.07M56,235.94V240.96M56.5,234.84V240.33M57,235.22V240.04M57.5,234.28V239.38M58,234.28V238.58M58.5,234.12V238.51M59,233.56V238.11M59.5,232.92V237.57M60,233.4V237.19M60.5,232.56V236.76M61,232.66V236.67M61.5,232.76V237.33M62,232.17V237.07M62.5,231.87V236.99M63,232.12V236.16M63.5,231.87V236.47M64,231.78V236.15M64.5,231.75V235.5M65,230.87V236.23M65.5,230.9V236.41M66,230.75V235.26M66.5,231.32V235.57M67,230.46V235.03M67.5,230.61V234.98M68,231.16V235.09M68.5,230.76V235.76M69,230.19V234.99M69.5,229.96V234.61M70,230.94V235.01M70.5,230.55V235.39M71,230.84V235.33M71.5,230.47V235.16M72,230.72V235.24M72.5,229.72V234.8M73,229.66V234.99M73.5,229.57V234.79M74,229.38V234.61M74.5,229.63V234.43M75,229.24V233.85M75.5,229.47V234.05M76,229.49V233.91M76.5,229.81V234.45M77,229.68V234.37M77.5,229.36V233.69M78,229.26V233.83M78.5,229.53V234.06M79,229.54V233.73M79.5,229.76V234.12M80,229.05V233.59M80.5,229.2V233.5M81,229.14V233.68M81.5,229.46V234.1M82,229.35V233.85M82.5,229.54V234.28M83,229.56V234.11M83.5,229.87V234.43M84,228.86V233.63M84.5,229.5V233.58M85,229.58V234.51M85.5,229.43V233.72M86,229.06V234.27M86.5,230.15V234.11M87,230.14V234.77M87.5,229.93V234.4M88,229.49V234.56M88.5,230.48V234.07M89,230.41V234.84M89.5,229.98V234.55M90,230.42V234.32M90.5,230.78V235.04M91,230.04V234.98M91.5,230.25V235M92,231.07V234.59M92.5,230.31V235.68M93,230.21V235.14M93.5,230.6V235.74M94,230.78V235.94M94.5,230.56V235.34M95,230.93V235.69M95.5,230.93V236.38M96,230.91V236.32M96.5,231.06V235.7M97,232.13V236.16M97.5,231.53V236.73M98,231.51V236.08M98.5,231.81V236.69M99,232.53V236.72M99.5,231.96V236.49M100,231.94V236.61M100.5,233.01V236.97M101,232.33V237.57M101.5,232.36V237.01M102,233.23V237.17M102.5,233.37V237.55M103,232.59V237.97M103.5,233.48V238.42M104,233.36V237.5M104.5,234.05V238.22M105,234.05V238.03M105.5,233.98V238.55M106,233.48V238.1M106.5,233.63V238.64M107,234.48V238.62M107.5,234.57V238.91M108,234.68V239.55M108.5,234.89V239.01M109,234.37V239.79M109.5,235.58V239.7M110,235.05V239.4M110.5,235.58V239.62M111,236.06V240.2M111.5,236.3V240.36M112,236.09V240.78M112.5,235.95V240.41M113,237.03V241.45M113.5,237.04V241.18M114,237.59V241.47M114.5,236.99V241.94M115,237.64V242.4M115.5,237.65V242.52M116,238.3V243.01M116.5,238.58V242.52M117,238.02V243.69M117.5,238.84V243.65M118,238.64V243.46M118.5,239.57V243.41M119,238.96V244.56M119.5,239.66V244.75M120,239.83V244.34M120.5,240.26V244.67M121,240.32V245.21M121.5,239.87V245.23M122,240.65V245.03M122.5,240.24V245.58M123,240.83V245M123.5,240.61V245.58M124,241.36V245.58M124.5,241.02V246.6M125,241.87V246.69M125.5,241.38V246.97M126,242.6V246.26M126.5,242.52V246.93M127,242.84V246.74M127.5,243.04V247.86M128,242.57V247.13M128.5,243.21V248.12M129,243.59V247.95M129.5,243.77V248.62M130,243.71V248.1M130.5,243.65V248.22M131,244.41V249.22M131.5,243.88V248.56M132,245V249.58M132.5,244.82V249.65M133,245.12V249.05M133.5,245.6V249.72M134,245.09V250.45M134.5,245.81V250.1M135,245.56V250.62M135.5,245.7V250.91M136,246.22V251.15M136.5,246.54V251.4M137,246.75V250.86M137.5,246.58V251.15M138,247.13V252.05M138.5,247.27V252.09M139,247.11V251.98M139.5,247.9V252.78M140,247.59V252.44M140.5,248.93V253.35M141,248.48V253.18M141.5,248.42V254.04M142,249.29V253.66M142.5,249.33V253.87M143,249.71V253.95M143.5,249.52V254.44M144,249.69V255.12M144.5,250.41V254.66M145,251.22V255M145.5,250.55V255.57M146,250.84V255.29M146.5,251.11V256.56M147,252.18V255.82M147.5,251.47V256.34M148,252.32V257.11M148.5,251.9V257.51M149,252.85V257.25M149.5,253.24V257.39M150,252.61V257.41M150.5,253.19V257.99M151,253.9V257.76M151.5,253.76V258.68M152,253.57V258.53M152.5,254.28V258.99M153,254.48V259.08M153.5,254.6V259.46M154,255.03V258.67M154.5,254.24V258.9M155,254.75V259.29M155.5,254.92V259.74M156,255.2V259.77M156.5,255.05V259.56M157,255.25V259.54M157.5,255.3V260.13M158,255.58V259.98M158.5,255.41V261.02M159,255.66V261.05M159.5,255.95V260.29M160,256.43V260.66M160.5,257.04V261.38M161,256.14V261.85M161.5,256.99V261.15M162,256.9V261.2M162.5,256.81V262.23M163,257.21V262.38M163.5,257.83V262.53M164,257.85V262.26M164.5,257.31V262.4M165,257.6V262.22M165.5,258.62V263.21M166,257.77V263.18M166.5,258.41V262.7M167,259.08V263.57M167.5,258.25V263.01M168,258.67V263.46M168.5,259.01V263.58M169,259.14V263.25M169.5,259.62V263.6M170,259.56V263.92M170.5,259.05V264.69M171,259.52V264.2M171.5,259.83V264.48M172,260.2V265.06M172.5,259.89V265.05M173,260.5V264.84M173.5,260.67V265.32M174,260.39V265.62M174.5,260.74V265.18M175,260.63V265.72M175.5,260.6V265.59M176,261.68V266.28M176.5,262.02V265.66M177,261.48V266.43M177.5,262.05V265.83M178,261.86V266.84M178.5,261.51V266.46M179,262.45V267.07M179.5,262.06V266.74M180,262.98V266.85M180.5,262.97V267.3M181,263.19V266.94M181.5,262.44V267.7M182,263.67V267.96M182.5,263.62V267.74M183,263.33V268.26M183.5,262.99V267.83M184,264.18V267.9M184.5,263.97V268.05M185,263.98V268.41M185.5,263.5V269.13M186,264.2V268.57M186.5,263.8V269.07M187,263.9V268.86M187.5,265.01V268.83M188,264.91V269.3M188.5,264.56V268.82M189,264.42V269.58M189.5,264.97V269.4M190,265V269.78M190.5,265.08V270.13M191,265.01V269.6M191.5,264.94V269.95M192,265.71V270.14M192.5,264.99V270M193,265.44V269.64M193.5,266.14V269.95M194,265.2V269.86M194.5,266.02V270.59M195,265.45V271.03M195.5,265.83V270.07M196,266.15V271.14M196.5,266.39V270.2M197,265.76V271.3M197.5,266.08V270.55M198,266.17V270.59M198.5,266.79V270.56M199,266.91V271.63M199.5,266.38V271.47M200,266.63V271.02M200.5,267.3V271.14M201,266.49V271.52M201.5,267.48V271.33M202,267.12V271.29M202.5,267.59V271.72M203,266.78V271.5M203.5,267.36V272.23M204,267.29V272.11M204.5,267.19V272.4M205,268.02V272.19M205.5,268.06V271.79M206,268.17V271.88M206.5,267.3V271.95M207,268.35V272.12M207.5,267.56V272.51M208,267.89V272.73M208.5,268.23V272.95M209,268.09V272.46M209.5,268.43V273.31M210,267.89V272.89M210.5,268.28V273.02M211,268.91V272.48M211.5,268.26V273.23M212,268.05V273.23M212.5,268.28V273.23M213,268.74V273.17M213.5,268.17V273.79M214,268.31V273.44M214.5,269.15V272.93M215,268.41V273.02M215.5,269.11V273.9M216,269.34V273.95M216.5,269.37V273.99M217,268.88V273.48M217.5,269.37V273.63M218,269.16V274.32M218.5,269.25V273.81M219,269.49V273.59M219.5,269.23V274.02M220,269.03V274.11M220.5,269.02V274.08M221,269.59V273.84M221.5,269.33V273.72M222,270.09V274.11M222.5,269.39V274.5M223,270.05V274.91M223.5,269.51V273.95M224,270.24V274.77M224.5,269.57V274.87M225,269.61V274.22M225.5,270.66V274.63M226,270.65V274.94M226.5,269.72V274.7M227,270.15V274.71M227.5,270.68V274.45M228,270.08V275.4M228.5,270.53V274.56M229,270.04V274.74M229.5,270.14V275.23M230,270.71V275.1M230.5,270.67V274.69M231,270.87V275.24M231.5,270.27V274.72M232,270.96V274.66M232.5,270.09V274.79M233,270.81V274.76M233.5,270.7V275.45M234,270.7V275.53M234.5,271.08V275.83M235,270.46V275.01M235.5,270.85V274.84M236,270.44V275.87M236.5,270.81V275.28M237,270.52V275.3M237.5,271.41V275.67M238,271.01V276.08M238.5,270.91V275.09M239,270.63V276.08M239.5,271.41V275.37M240,271.02V275.84M240.5,270.79V275.77M241,270.63V275.92M241.5,271.62V276.21M242,270.72V275.9M242.5,270.8V276.1M243,271.66V275.9M243.5,271.58V275.49M244,270.82V275.85M244.5,271.45V275.46M245,271.26V275.39M245.5,271.4V276.27M246,271.43V275.9M246.5,270.79V275.75M247,271.58V275.83M247.5,271.48V276.48M248,271.93V275.57M248.5,271.07V275.42M249,271.48V276.24M249.5,271.94V275.82M250,271.71V276.07M250.5,271.33V276.37M251,271.95V275.79M251.5,271.21V276.54M252,271.73V275.62M252.5,271.96V276.48M253,271.98V275.83M253.5,271.93V276.07M254,271.43V275.77M254.5,271.64V276.7M255,271.63V276.21M255.5,271.37V276.3M256,271.72V276.64M256.5,272.08V275.93M257,271.12V276.01M257.5,272.18V275.91M258,271.2V275.94M258.5,271.68V276.59M259,272.28V276.08M259.5,271.48V276.09M260,271.93V276.43M260.5,271.43V276.16M261,272.18V275.84M261.5,272.06V276.59M262,271.34V276.42M262.5,272.24V276.57M263,272.31V276.02M263.5,272.27V276.95M264,271.73V275.91M264.5,271.39V276.36M265,272.28V276.7M265.5,271.89V276.65" stroke="#86dc86" stroke-width="0.6" stroke-opacity="0.4" fill="none"/>
<path d="M38.5,275.32 L39,273.58 L39.5,272.36 L40,269.78 L40.5,269.04 L41,267.81 L41.5,267.34 L42,265.05 L42.5,263.73 L43,262.51 L43.5,260.94 L44,259.27 L44.5,258.71 L45,257.06 L45.5,256.16 L46,254.65 L46.5,252.58 L47,251.49 L47.5,250.24 L48,249 L48.5,248.09 L49,246.53 L49.5,245.39 L50,245.59 L50.5,244.89 L51,243.72 L51.5,242.66 L52,242.22 L52.5,241.56 L53,240.92 L53.5,240.32 L54,240.24 L54.5,239.73 L55,239.27 L55.5,238.25 L56,238.28 L56.5,238.51 L57,237.41 L57.5,236.78 L58,237.63 L58.5,236.33 L59,235.64 L59.5,235.92 L60,235.01 L60.5,234.87 L61,235.16 L61.5,234.3 L62,233.75 L62.5,234.45 L63,234.36 L63.5,233.37 L64,233.67 L64.5,234.14 L65,233.73 L65.5,233.88 L66,233.43 L66.5,233.15 L67,233.08 L67.5,233.09 L68,233.18 L68.5,231.96 L69,232.18 L69.5,232.84 L70,233.03 L70.5,232.43 L71,232.62 L71.5,232.13 L72,231.95 L72.5,232.49 L73,232.34 L73.5,232.11 L74,231.74 L74.5,232.22 L75,232.1 L75.5,231.97 L76,231.97 L76.5,231.82 L77,232.11 L77.5,232.01 L78,232.5 L78.5,232.32 L79,231.71 L79.5,231.21 L80,231.91 L80.5,231.41 L81,232.22 L81.5,231.04 L82,231.46 L82.5,232.23 L83,231.66 L83.5,231.96 L84,231.97 L84.5,231.56 L85,232.13 L85.5,231.52 L86,231.79 L86.5,232.8 L87,231.98 L87.5,232.26 L88,231.78 L88.5,232.79 L89,231.99 L89.5,232.14 L90,232.28 L90.5,232.23 L91,232.13 L91.5,232.66 L92,232.68 L92.5,232.93 L93,232.69 L93.5,232.82 L94,233.16 L94.5,233.39 L95,233.14 L95.5,233.6 L96,233.64 L96.5,234.26 L97,234.21 L97.5,234.28 L98,234.6 L98.5,234.08 L99,234.98 L99.5,234.65 L100,234.51 L100.5,234.99 L101,234.54 L101.5,235.77 L102,235.31 L102.5,234.76 L103,235.03 L103.5,235.4 L104,235.52 L104.5,236.04 L105,236.35 L105.5,236.53 L106,236.49 L106.5,236.06 L107,237 L107.5,237.18 L108,236.11 L108.5,236.79 L109,237.03 L109.5,237.04 L110,237.91 L110.5,237.87 L111,237.91 L111.5,237.64 L112,237.57 L112.5,238.3 L113,238.64 L113.5,238.9 L114,238.71 L114.5,239.18 L115,239.85 L115.5,240.37 L116,240.26 L116.5,240.59 L117,240.86 L117.5,241.06 L118,241.76 L118.5,241.19 L119,241.77 L119.5,241.38 L120,242.55 L120.5,242.57 L121,242.87 L121.5,242.73 L122,242.83 L122.5,242.58 L123,243.39 L123.5,243.99 L124,242.58 L124.5,244.54 L125,243.73 L125.5,244.43 L126,244.12 L126.5,244.58 L127,245.15 L127.5,244.96 L128,245.93 L128.5,245.44 L129,245.88 L129.5,245.59 L130,245.83 L130.5,246.07 L131,246.63 L131.5,247.28 L132,246.85 L132.5,246.54 L133,247.01 L133.5,246.93 L134,247.86 L134.5,247.9 L135,247.68 L135.5,248.19 L136,248.92 L136.5,248.96 L137,248.78 L137.5,249.53 L138,249.63 L138.5,249.5 L139,250.03 L139.5,250.93 L140,250.02 L140.5,251.09 L141,250.89 L141.5,251.44 L142,251.6 L142.5,251.81 L143,251.89 L143.5,252.2 L144,252.72 L144.5,252.89 L145,252.39 L145.5,253.38 L146,253.96 L146.5,254.05 L147,254.02 L147.5,253.46 L148,254.64 L148.5,254.9 L149,255.43 L149.5,254.71 L150,255.21 L150.5,255.29 L151,255.6 L151.5,255.23 L152,255.91 L152.5,256.11 L153,256.32 L153.5,257.26 L154,256.57 L154.5,256.81 L155,257.58 L155.5,257.09 L156,257.94 L156.5,257.8 L157,257.53 L157.5,257.65 L158,258.14 L158.5,258.16 L159,258.42 L159.5,258.31 L160,258.92 L160.5,258.58 L161,258.82 L161.5,259.09 L162,258.82 L162.5,259.35 L163,259.55 L163.5,259.22 L164,259.24 L164.5,260.58 L165,260.14 L165.5,260.34 L166,260.3 L166.5,261.31 L167,260.77 L167.5,260.3 L168,261.34 L168.5,260.91 L169,261.61 L169.5,261.54 L170,262.24 L170.5,262.08 L171,261.89 L171.5,262.75 L172,263.41 L172.5,262.29 L173,263.08 L173.5,262.95 L174,263.13 L174.5,262.63 L175,262.89 L175.5,263.99 L176,263.65 L176.5,263.54 L177,264.61 L177.5,264.54 L178,264.51 L178.5,263.99 L179,264.53 L179.5,265.26 L180,264.04 L180.5,264.36 L181,264.82 L181.5,265.66 L182,265.51 L182.5,265.74 L183,265.77 L183.5,265.86 L184,266.43 L184.5,267.49 L185,266.38 L185.5,266.83 L186,266.26 L186.5,267.17 L187,266.69 L187.5,266.83 L188,266.69 L188.5,266.67 L189,266.86 L189.5,266.79 L190,266.76 L190.5,268.1 L191,267.64 L191.5,267.95 L192,267.85 L192.5,267.18 L193,267.85 L193.5,267.58 L194,267.7 L194.5,268.07 L195,268.27 L195.5,268.33 L196,268.43 L196.5,268.36 L197,268.57 L197.5,269.14 L198,269.6 L198.5,269.25 L199,268.8 L199.5,269.13 L200,269.43 L200.5,269.53 L201,269.7 L201.5,269.78 L202,269.53 L202.5,269.33 L203,268.9 L203.5,270.02 L204,269.91 L204.5,269.4 L205,269.82 L205.5,269.73 L206,269.78 L206.5,270.73 L207,269.96 L207.5,271.14 L208,270.19 L208.5,270.03 L209,270.44 L209.5,271.42 L210,270.46 L210.5,270.8 L211,269.76 L211.5,270.96 L212,270.25 L212.5,270.81 L213,271.47 L213.5,270.89 L214,271.34 L214.5,271.03 L215,271.05 L215.5,271.35 L216,271.74 L216.5,271.41 L217,271.42 L217.5,271.11 L218,270.87 L218.5,271.66 L219,271.59 L219.5,271.83 L220,272.2 L220.5,272.17 L221,271.55 L221.5,272.06 L222,272.13 L222.5,271.98 L223,271.23 L223.5,271.87 L224,272.2 L224.5,272.59 L225,272.22 L225.5,271.84 L226,272.99 L226.5,272.48 L227,272.36 L227.5,272.8 L228,272.9 L228.5,272.64 L229,272.47 L229.5,272.52 L230,273.1 L230.5,272.76 L231,273.05 L231.5,272.12 L232,272.71 L232.5,272.78 L233,272.78 L233.5,272.21 L234,272.84 L234.5,273.67 L235,273.18 L235.5,272.87 L236,272.82 L236.5,272.59 L237,273.24 L237.5,272.86 L238,273.04 L238.5,273.57 L239,273.62 L239.5,273.51 L240,272.62 L240.5,273.09 L241,273.81 L241.5,272.89 L242,273.88 L242.5,273.4 L243,273.81 L243.5,273.29 L244,273.01 L244.5,273.1 L245,274.11 L245.5,273.42 L246,273.08 L246.5,273.92 L247,273 L247.5,273.57 L248,273.79 L248.5,273.79 L249,273.86 L249.5,273.68 L250,272.75 L250.5,273.85 L251,273.75 L251.5,273.71 L252,274 L252.5,274.13 L253,273.93 L253.5,274.46 L254,274.75 L254.5,274 L255,273.76 L255.5,273.4 L256,274.16 L256.5,273.24 L257,274.63 L257.5,274.37 L258,273.78 L258.5,274.27 L259,273.67 L259.5,273.59 L260,274.35 L260.5,273.65 L261,274.17 L261.5,274.03 L262,274.72 L262.5,274.24 L263,274.76 L263.5,274.49 L264,273.85 L264.5,273.7 L265,273.34 L265.5,274.19" fill="none" stroke="#25b82d" stroke-width="1.4" stroke-opacity="1.0" stroke-linejoin="round"/>
<path d="M38.5,273.15 L39,272.35 L39.5,269.77 L40,268.97 L40.5,267.41 L41,265.82 L41.5,264.61 L42,263.33 L42.5,262.17 L43,260.22 L43.5,259.69 L44,258.38 L44.5,256.65 L45,255.41 L45.5,254.13 L46,253.22 L46.5,252.3 L47,251.04 L47.5,250.31 L48,248.89 L48.5,247.8 L49,247.66 L49.5,246.9 L50,245.96 L50.5,245.51 L51,245.58 L51.5,245.08 L52,244.17 L52.5,243.68 L53,243.46 L53.5,244.01 L54,243.28 L54.5,243.26 L55,243.32 L55.5,242.63 L56,242.82 L56.5,242.29 L57,241.84 L57.5,242.3 L58,242.06 L58.5,241.94 L59,241.51 L59.5,241.64 L60,240.84 L60.5,240.81 L61,241.28 L61.5,240.99 L62,240.82 L62.5,240.69 L63,240.23 L63.5,240.75 L64,239.8 L64.5,240.4 L65,240.1 L65.5,240.42 L66,240.18 L66.5,240.25 L67,240.32 L67.5,239.77 L68,239.69 L68.5,239.44 L69,240.35 L69.5,240.33 L70,239.54 L70.5,240.14 L71,240.44 L71.5,240.66 L72,239.82 L72.5,240.22 L73,240.81 L73.5,241.08 L74,240.98 L74.5,241.35 L75,241.18 L75.5,241.22 L76,241.5 L76.5,241.37 L77,241.49 L77.5,241.14 L78,242.1 L78.5,242.18 L79,241.63 L79.5,242.58 L80,242.56 L80.5,242.74 L81,243.1 L81.5,243.57 L82,243.24 L82.5,243.8 L83,243.88 L83.5,243.75 L84,243.89 L84.5,244.8 L85,243.98 L85.5,244.98 L86,245.29 L86.5,245.09 L87,245.74 L87.5,246.05 L88,246.05 L88.5,245.85 L89,246.77 L89.5,246.93 L90,247.22 L90.5,246.6 L91,247.47 L91.5,247.41 L92,248.01 L92.5,247.87 L93,247.68 L93.5,248.8 L94,248.07 L94.5,248.96 L95,249.39 L95.5,249.16 L96,249.86 L96.5,250.19 L97,250.09 L97.5,250.63 L98,250.73 L98.5,251.19 L99,251.17 L99.5,251.72 L100,251.54 L100.5,252.2 L101,252.35 L101.5,252.28 L102,252.95 L102.5,253.05 L103,253.54 L103.5,253.39 L104,253.75 L104.5,254.21 L105,254.24 L105.5,254.7 L106,254.83 L106.5,254.96 L107,255.05 L107.5,255.72 L108,255.99 L108.5,255.46 L109,255.84 L109.5,256.85 L110,256.54 L110.5,256.56 L111,257.32 L111.5,257.64 L112,257.97 L112.5,257.64 L113,258.58 L113.5,258.27 L114,259.1 L114.5,258.72 L115,258.59 L115.5,259.8 L116,259.94 L116.5,259.43 L117,260.15 L117.5,260.04 L118,260.44 L118.5,260.82 L119,261.22 L119.5,260.84 L120,261.64 L120.5,261.88 L121,260.88 L121.5,261.95 L122,262.45 L122.5,262.59 L123,262.32 L123.5,263.03 L124,263.18 L124.5,263.38 L125,263.41 L125.5,263.4 L126,263.33 L126.5,264.18 L127,264.23 L127.5,264.4 L128,264.56 L128.5,264.58 L129,264.99 L129.5,265.07 L130,264.92 L130.5,265.51 L131,264.71 L131.5,265.74 L132,265.91 L132.5,266 L133,266.02 L133.5,266.19 L134,266.02 L134.5,266.48 L135,266.17 L135.5,266.37 L136,265.9 L136.5,266.75 L137,266.06 L137.5,267.43 L138,267.66 L138.5,267.83 L139,267.82 L139.5,268.15 L140,268.38 L140.5,267.58 L141,268.18 L141.5,268.81 L142,268.76 L142.5,268.96 L143,268.8 L143.5,269 L144,269.31 L144.5,269.44 L145,269.89 L145.5,269.64 L146,269.5 L146.5,270.03 L147,270.13 L147.5,270.32 L148,270.37 L148.5,270.48 L149,270.6 L149.5,270.82 L150,270.8 L150.5,270.87 L151,270.92 L151.5,271.25 L152,270.94 L152.5,270.52 L153,271.12 L153.5,271.1 L154,271.36 L154.5,271.38 L155,272 L155.5,271.55 L156,271.63 L156.5,271.19 L157,272.18 L157.5,271.94 L158,271.71 L158.5,271.54 L159,272.01 L159.5,271.76 L160,272.26 L160.5,272.09 L161,272.37 L161.5,271.28 L162,272.29 L162.5,272 L163,272.17 L163.5,272.45 L164,272.41 L164.5,272.38 L165,272.11 L165.5,272.17 L166,272.37 L166.5,272.57 L167,272.33 L167.5,272.18 L168,272.69 L168.5,271.7 L169,272.4 L169.5,272.68 L170,272.07 L170.5,272.23 L171,272.36 L171.5,272.59 L172,272.32 L172.5,272.29 L173,272.58 L173.5,272.52 L174,272.78 L174.5,272.31 L175,272.22 L175.5,272.91 L176,272.48 L176.5,272.6 L177,273 L177.5,272.91 L178,272.65 L178.5,273.03 L179,272.57 L179.5,272.54 L180,272.97 L180.5,273.07 L181,272.39 L181.5,271.94 L182,272.99 L182.5,272.4 L183,272.13 L183.5,273.03 L184,273.01 L184.5,273.21 L185,273.29 L185.5,273.35 L186,272.9 L186.5,272.83 L187,272.91 L187.5,273.23 L188,272.3 L188.5,272.61 L189,273.46 L189.5,273.22 L190,272.54 L190.5,272.86 L191,273.51 L191.5,273.01 L192,273.27 L192.5,273.31 L193,273.54 L193.5,272.76 L194,272.87 L194.5,273.56 L195,272.96 L195.5,273.2 L196,273.07 L196.5,273.6 L197,272.77 L197.5,273.52 L198,272.19 L198.5,273.44 L199,273.58 L199.5,273.54 L200,272.78 L200.5,273.49 L201,273.54 L201.5,273.42 L202,273.53 L202.5,272.33 L203,272.39 L203.5,273.36 L204,273.05 L204.5,273.23 L205,273.15 L205.5,273.45 L206,273.6 L206.5,272.9 L207,273.63 L207.5,273.57 L208,273.17 L208.5,273.49 L209,273.34 L209.5,273.62 L210,273.32 L210.5,273.16 L211,273.57 L211.5,273.47 L212,273.52 L212.5,273.06 L213,273.35 L213.5,273.37 L214,273.21 L214.5,273.67 L215,273.31 L215.5,273.48 L216,273.11 L216.5,273.28 L217,273.58 L217.5,273.52 L218,273.26 L218.5,272.52 L219,273.65 L219.5,273.55 L220,273.32 L220.5,273.41 L221,273.4 L221.5,273.01 L222,272.73 L222.5,273.14 L223,273.05 L223.5,272.94 L224,273.26 L224.5,273.1 L225,273.22 L225.5,272.98 L226,273.36 L226.5,273.49 L227,273.63 L227.5,272.76 L228,273.36 L228.5,273.21 L229,273.34 L229.5,273.05 L230,273.36 L230.5,272.95 L231,272.73 L231.5,273.26 L232,273.59 L232.5,272.41 L233,273.01 L233.5,273.03 L234,273.21 L234.5,273.01 L235,272.99 L235.5,273.22 L236,273.29 L236.5,272.97 L237,273.39 L237.5,273.13 L238,273.48 L238.5,273.02 L239,273.1 L239.5,273.26 L240,273.07 L240.5,273.55 L241,273.24 L241.5,273.65 L242,273.41 L242.5,273.14 L243,273.5 L243.5,273.64 L244,272.81 L244.5,273.38 L245,273.39 L245.5,273.55 L246,273.64 L246.5,273.59 L247,273.17 L247.5,273.46 L248,273.04 L248.5,273.2 L249,273.46 L249.5,273.5 L250,273.43 L250.5,273.52 L251,273.61 L251.5,273.08 L252,272.99 L252.5,272.97 L253,272.99 L253.5,273.01 L254,273.28 L254.5,273.43 L255,273.21 L255.5,273.55 L256,273.41 L256.5,273.01 L257,273.15 L257.5,273.63 L258,273.44 L258.5,273.54 L259,273.39 L259.5,273.31 L260,273.5 L260.5,273.07 L261,273.55 L261.5,272.93 L262,273.26 L262.5,273.62 L263,273.52 L263.5,272.08 L264,273.2 L264.5,273.56 L265,273.32 L265.5,273.52 L265.5,275.62 L265,275.7 L264.5,275.82 L264,275.75 L263.5,276.32 L263,276.5 L262.5,275.83 L262,275.74 L261.5,275.83 L261,275.7 L260.5,276.12 L260,275.62 L259.5,276.32 L259,276.12 L258.5,275.84 L258,276.14 L257.5,275.82 L257,275.69 L256.5,275.65 L256,276.49 L255.5,275.68 L255,276.67 L254.5,275.65 L254,275.8 L253.5,276.58 L253,276.05 L252.5,275.66 L252,276.31 L251.5,276.17 L251,275.89 L250.5,275.58 L250,276.61 L249.5,275.86 L249,275.57 L248.5,275.81 L248,275.83 L247.5,275.58 L247,275.57 L246.5,275.98 L246,276.01 L245.5,275.79 L245,276.32 L244.5,275.6 L244,275.79 L243.5,275.64 L243,276.01 L242.5,276.07 L242,275.7 L241.5,275.82 L241,276.51 L240.5,275.61 L240,275.71 L239.5,276.13 L239,275.97 L238.5,276.11 L238,275.73 L237.5,276.06 L237,275.86 L236.5,275.58 L236,275.6 L235.5,275.6 L235,275.75 L234.5,276.28 L234,275.76 L233.5,276.57 L233,275.99 L232.5,275.62 L232,275.77 L231.5,275.78 L231,275.8 L230.5,275.71 L230,275.91 L229.5,275.72 L229,275.95 L228.5,275.69 L228,276.19 L227.5,275.92 L227,276.04 L226.5,276.16 L226,275.85 L225.5,275.8 L225,276.46 L224.5,276.44 L224,275.74 L223.5,275.61 L223,275.71 L222.5,276.17 L222,275.75 L221.5,275.87 L221,275.87 L220.5,276.52 L220,276.52 L219.5,275.92 L219,275.61 L218.5,275.9 L218,276.01 L217.5,276.33 L217,276.35 L216.5,275.73 L216,275.91 L215.5,276 L215,276.12 L214.5,275.6 L214,276.17 L213.5,276.19 L213,276.98 L212.5,275.64 L212,276.09 L211.5,275.87 L211,275.73 L210.5,275.74 L210,276.25 L209.5,275.92 L209,275.89 L208.5,276.28 L208,275.91 L207.5,276.09 L207,275.84 L206.5,275.67 L206,276.29 L205.5,276.15 L205,275.67 L204.5,276.16 L204,275.67 L203.5,275.62 L203,275.74 L202.5,276.26 L202,276.34 L201.5,275.78 L201,275.74 L200.5,276.71 L200,276.19 L199.5,275.98 L199,276.04 L198.5,276.66 L198,276.39 L197.5,276.39 L197,275.78 L196.5,276.94 L196,276.2 L195.5,275.96 L195,275.62 L194.5,276.06 L194,276.8 L193.5,276.14 L193,275.73 L192.5,276.58 L192,276.27 L191.5,276.18 L191,275.96 L190.5,275.84 L190,275.82 L189.5,276.02 L189,275.9 L188.5,276.71 L188,276.66 L187.5,276.06 L187,276.38 L186.5,276.48 L186,276.1 L185.5,275.94 L185,275.96 L184.5,276.29 L184,276.37 L183.5,276.02 L183,276.42 L182.5,276.23 L182,277.03 L181.5,277.13 L181,276.48 L180.5,276.13 L180,276.32 L179.5,276.39 L179,276.65 L178.5,276.55 L178,276.35 L177.5,276.56 L177,277.55 L176.5,276.68 L176,276.63 L175.5,276.8 L175,276.72 L174.5,276.42 L174,276.9 L173.5,276.53 L173,276.44 L172.5,276.52 L172,276.86 L171.5,277.09 L171,276.87 L170.5,276.7 L170,276.56 L169.5,276.53 L169,276.82 L168.5,276.9 L168,277 L167.5,276.59 L167,276.58 L166.5,276.62 L166,276.7 L165.5,276.91 L165,277.16 L164.5,276.65 L164,276.79 L163.5,277.12 L163,277.34 L162.5,277.05 L162,277.09 L161.5,277.01 L161,277.24 L160.5,277.07 L160,277.08 L159.5,277.06 L159,277.06 L158.5,276.84 L158,276.98 L157.5,277 L157,277.51 L156.5,277.01 L156,277.08 L155.5,277.81 L155,277.38 L154.5,276.52 L154,276.5 L153.5,276.63 L153,276.67 L152.5,276.42 L152,276.37 L151.5,276.41 L151,277.15 L150.5,276.77 L150,276.09 L149.5,276.58 L149,276.32 L148.5,276.66 L148,277 L147.5,275.81 L147,276.95 L146.5,275.69 L146,275.88 L145.5,276.63 L145,275.43 L144.5,275.53 L144,275.36 L143.5,275.06 L143,275.08 L142.5,275.07 L142,275.27 L141.5,274.71 L141,275.39 L140.5,274.48 L140,274.51 L139.5,275.48 L139,275.02 L138.5,273.78 L138,273.57 L137.5,273.89 L137,274.05 L136.5,273.78 L136,273.28 L135.5,273.13 L135,273.08 L134.5,272.62 L134,272.81 L133.5,273.32 L133,272.84 L132.5,272.06 L132,272.25 L131.5,271.94 L131,272.37 L130.5,271.32 L130,272.46 L129.5,271.06 L129,271.53 L128.5,271.13 L128,271.33 L127.5,270.63 L127,270.69 L126.5,270.16 L126,270.61 L125.5,270.36 L125,269.96 L124.5,269.45 L124,269.77 L123.5,268.99 L123,269.44 L122.5,268.67 L122,268.6 L121.5,268.57 L121,268.43 L120.5,268.73 L120,267.58 L119.5,268.71 L119,267.21 L118.5,267.07 L118,267.21 L117.5,266.95 L117,266.58 L116.5,266.33 L116,265.96 L115.5,265.67 L115,265.74 L114.5,265.23 L114,265.6 L113.5,264.76 L113,265.14 L112.5,264.34 L112,264.12 L111.5,263.71 L111,264.6 L110.5,263.79 L110,263.08 L109.5,263.07 L109,263.02 L108.5,262.23 L108,262.08 L107.5,261.86 L107,261.5 L106.5,261.34 L106,261.35 L105.5,261.46 L105,260.87 L104.5,260.36 L104,260.86 L103.5,260.54 L103,259.65 L102.5,260.09 L102,259.03 L101.5,258.88 L101,258.52 L100.5,258.6 L100,257.95 L99.5,258.03 L99,257.46 L98.5,257.98 L98,257.04 L97.5,256.85 L97,256.89 L96.5,256.65 L96,256.96 L95.5,255.68 L95,255.58 L94.5,255.72 L94,254.88 L93.5,254.74 L93,254.49 L92.5,254.35 L92,254.26 L91.5,253.82 L91,253.77 L90.5,253.5 L90,253.51 L89.5,253.14 L89,252.78 L88.5,252.56 L88,252.16 L87.5,252.15 L87,251.89 L86.5,252.01 L86,252.39 L85.5,252.24 L85,251.87 L84.5,250.89 L84,250.63 L83.5,250.26 L83,250.29 L82.5,250.19 L82,249.82 L81.5,249.98 L81,250.39 L80.5,250.34 L80,249.79 L79.5,248.71 L79,248.74 L78.5,248.47 L78,248.22 L77.5,248.45 L77,248.14 L76.5,248.12 L76,247.73 L75.5,247.98 L75,247.65 L74.5,247.4 L74,247.44 L73.5,247.05 L73,246.97 L72.5,246.83 L72,246.93 L71.5,247.25 L71,246.94 L70.5,247.57 L70,246.41 L69.5,246.51 L69,246.83 L68.5,246.55 L68,246.69 L67.5,246.51 L67,246.28 L66.5,246.37 L66,246.48 L65.5,246.34 L65,246.74 L64.5,246.58 L64,246.56 L63.5,246.64 L63,246.75 L62.5,247.49 L62,247.47 L61.5,247.09 L61,247.53 L60.5,247.45 L60,247.75 L59.5,247.6 L59,248.06 L58.5,248.27 L58,248.49 L57.5,248.36 L57,248.43 L56.5,249.06 L56,249.09 L55.5,250.02 L55,249.46 L54.5,249.5 L54,249.83 L53.5,250.59 L53,250.54 L52.5,250.48 L52,251.34 L51.5,251.24 L51,251.91 L50.5,251.95 L50,253.04 L49.5,253.61 L49,253.84 L48.5,254.82 L48,255.45 L47.5,255.89 L47,257.26 L46.5,257.66 L46,258.37 L45.5,259.42 L45,260.61 L44.5,261.43 L44,262.64 L43.5,264.57 L43,264.93 L42.5,266.33 L42,267.72 L41.5,269.25 L41,269.66 L40.5,271.02 L40,272.48 L39.5,274.3 L39,275.48 L38.5,277.4 Z" fill="#8ea4f4" fill-opacity="0.55"/>
<path d="M38.5,274.5V277.05M39,272.68V275.94M39.5,270.77V273.75M40,269.09V272.49M40.5,267.58V271.46M41,266.25V269.98M41.5,264.99V268.68M42,262.84V267.36M42.5,262.27V266.46M43,259.95V265.53M43.5,259.27V264.26M44,258.14V262.92M44.5,256.24V262.44M45,255.34V261.18M45.5,253.68V259.92M46,252.36V258.9M46.5,251.83V258.21M47,250.69V257.63M47.5,249.42V256.26M48,248.6V256.06M48.5,248.17V254.44M49,246.66V253.39M49.5,246.49V252.76M50,245.52V253.86M50.5,244.6V252.4M51,244.37V252.48M51.5,245.12V251.03M52,244.1V251.2M52.5,243.27V251.93M53,243.52V251.04M53.5,244.03V250.27M54,242.54V250.29M54.5,243.18V250.1M55,242.6V249.74M55.5,242.44V249.68M56,241.37V250.05M56.5,241.91V248.36M57,241.14V249.26M57.5,242.32V249.52M58,241.44V248.2M58.5,240.79V248.12M59,240.6V248.6M59.5,241.37V247.92M60,241.34V247.5M60.5,241.26V247.73M61,241.07V247.73M61.5,240.86V248.35M62,240.36V247.05M62.5,240.23V247.08M63,239.81V247.33M63.5,239.32V246.57M64,240.63V247.62M64.5,240.44V246.34M65,239.79V247.81M65.5,239.89V247.03M66,240.66V247.49M66.5,238.84V246.1M67,240.27V246.33M67.5,239.1V247.75M68,238.9V246.38M68.5,240V247.24M69,240.18V247.67M69.5,239.96V246.51M70,240.4V247.86M70.5,240.53V247.94M71,240.67V247.71M71.5,240.36V247.99M72,239.34V248.08M72.5,240.61V246.61M73,239.44V247.67M73.5,240.91V247.57M74,239.78V246.97M74.5,240.46V246.97M75,240.96V248.27M75.5,241.06V248.53M76,241.17V248.33M76.5,241.39V248.35M77,241.48V248.07M77.5,242.12V249.01M78,242.19V247.99M78.5,240.96V248.39M79,242.69V249.33M79.5,242.31V249.76M80,242.22V249.66M80.5,242.22V249.11M81,242.24V249.74M81.5,242.52V250.18M82,243.84V249.85M82.5,243.52V249.64M83,243.48V250M83.5,243.73V251.84M84,243.24V251.44M84.5,244.97V251.25M85,244.71V251.06M85.5,243.97V251.55M86,245.24V252.5M86.5,245.6V252.56M87,245.58V252.6M87.5,245.61V253.34M88,246.17V253.57M88.5,246.62V252.25M89,245.19V253.09M89.5,246.24V252.82M90,245.72V253.68M90.5,246.21V254.18M91,247.49V254.39M91.5,247.63V254.65M92,247.36V253.82M92.5,247.95V254.19M93,248.22V255.61M93.5,249V254.8M94,247.74V254.9M94.5,249V255.54M95,248.56V256.93M95.5,249.14V256.44M96,248.56V256.96M96.5,249.93V257.38M97,250.17V256.45M97.5,250.54V257.13M98,250.4V257.23M98.5,250.14V257.69M99,250.1V258.88M99.5,250.58V259.25M100,251.88V257.95M100.5,251.92V259.04M101,252.4V259.56M101.5,251.99V258.78M102,253.07V259.69M102.5,252.01V259.15M103,252.45V260.21M103.5,252.38V260.85M104,254.18V261.53M104.5,253.6V261.66M105,254.1V260.33M105.5,253.39V260.96M106,254.84V262.4M106.5,253.88V262.39M107,254.33V262.44M107.5,255.15V261.89M108,255.87V263.37M108.5,255.28V262.71M109,256.59V262.52M109.5,256.61V262.7M110,256.76V262.84M110.5,255.9V264.72M111,257.15V263.98M111.5,257.59V263.72M112,256.9V264.18M112.5,256.91V264.84M113,258.2V265.17M113.5,257.7V265.55M114,258.94V266.37M114.5,258.55V265.25M115,258.46V265.25M115.5,259.4V266.17M116,260.24V266.22M116.5,258.85V266.97M117,260.28V266.28M117.5,259.63V267.06M118,260.9V268.26M118.5,261.07V268.25M119,260.4V267.05M119.5,261.18V268.64M120,260.88V267.61M120.5,261.82V268.45M121,262.3V268.35M121.5,261.49V268.08M122,261.46V269.17M122.5,261.54V269.72M123,262.35V268.65M123.5,263V269.21M124,262.45V269.97M124.5,263.4V269.27M125,262.67V270.93M125.5,262.62V270.83M126,263.98V269.92M126.5,263.15V270.93M127,264.19V270.95M127.5,263.12V270.41M128,263.89V272.02M128.5,264.51V272.3M129,264.83V271.13M129.5,265.34V271.28M130,264.68V271.8M130.5,264.06V271.62M131,265.64V272.09M131.5,265.07V271.43M132,264.89V273.18M132.5,265.65V272.69M133,264.79V273.21M133.5,265.53V272.16M134,266.33V272.78M134.5,265.75V272.64M135,266.86V274.15M135.5,265.69V273.74M136,266V274.24M136.5,265.87V273.13M137,267.18V274.77M137.5,267.01V273.43M138,266.71V274.19M138.5,267.61V274.13M139,266.98V274.17M139.5,266.8V274.12M140,267.14V274.4M140.5,267.02V274.15M141,268.58V274.31M141.5,267.63V274.97M142,268.5V274.95M142.5,268.83V276.24M143,268.32V275.39M143.5,269.65V275.04M144,269.2V275.45M144.5,268.86V276.1M145,269.82V276.01M145.5,268.91V275.35M146,269.76V275.8M146.5,269.09V276.22M147,269.35V276.71M147.5,269.31V276.03M148,269.55V276.88M148.5,270.85V276.5M149,269.92V276.78M149.5,269.63V276.24M150,270.1V276.9M150.5,270.46V277.12M151,270.81V277.07M151.5,270.69V276.61M152,271.14V276.98M152.5,270.21V276.45M153,270.31V276.32M153.5,270.22V276.93M154,271.17V277.55M154.5,271.72V276.44M155,271.04V277.01M155.5,271.77V277.91M156,271.42V277.77M156.5,270.94V277M157,271.72V276.7M157.5,271.14V277.93M158,271.37V276.95M158.5,271.49V277.36M159,271.82V277.24M159.5,272.48V276.85M160,272.45V277.6M160.5,271.31V276.79M161,271.47V276.85M161.5,272.42V276.98M162,271.54V276.67M162.5,272.39V277.63M163,272.53V277.64M163.5,271.51V277.3M164,272.28V277.3M164.5,271.79V276.67M165,272.62V276.99M165.5,272.03V277.65M166,271.71V277.29M166.5,271.73V276.89M167,271.7V277.36M167.5,272.42V277.14M168,272.36V276.8M168.5,271.73V277.26M169,272.21V277.43M169.5,271.82V276.47M170,272.78V277.44M170.5,272.71V276.7M171,272.33V276.6M171.5,271.86V276.83M172,272.29V277.25M172.5,272.54V277.13M173,271.94V277.08M173.5,272.41V277.05M174,273.01V277.21M174.5,272.38V276.27M175,272.62V276.8M175.5,272.84V276.31M176,272.42V277.13M176.5,272.65V276.85M177,272.9V276.95M177.5,272.19V276.75M178,272.74V276.22M178.5,272.32V276.41M179,272.4V276.09M179.5,272.86V276.79M180,273.11V276.09M180.5,272.99V276.67M181,272.91V276.55M181.5,272.67V276.05M182,273.17V276.31M182.5,273.15V276.56M183,273.09V276.48M183.5,272.76V276.57M184,272.69V276.46M184.5,273.11V275.91M185,273.16V276.45M185.5,272.64V275.88M186,273.29V275.94M186.5,273.36V275.97M187,273.1V276.1M187.5,272.76V275.8M188,272.88V276.2M188.5,273.35V276.35M189,272.85V275.74M189.5,272.87V275.77M190,273.49V275.98M190.5,273.51V275.88M191,273.19V276.26M191.5,273.47V276.24M192,273.02V275.86M192.5,273.2V275.73M193,273.5V276.13M193.5,273.66V276.08M194,273.1V276.04M194.5,273.24V275.58M195,273.69V275.83M195.5,273.41V275.99M196,273.58V275.56M196.5,273.49V276.06M197,273.47V275.6M197.5,273.36V275.91M198,273.45V276.1M198.5,273.18V275.56M199,273.24V275.92M199.5,273.32V275.7M200,273.25V276.13M200.5,273.36V275.6M201,273.35V276.08M201.5,273.24V275.86M202,273.63V275.63M202.5,273.39V275.6M203,273.47V276.1M203.5,273.41V275.72M204,273.62V275.98M204.5,273.69V275.62M205,273.38V275.55M205.5,273.66V276.08M206,273.35V275.6M206.5,273.25V276.08M207,273.66V275.86M207.5,273.45V275.8M208,273.35V275.94M208.5,273.65V275.77M209,273.37V275.98M209.5,273.36V275.89M210,273.38V276.12M210.5,273.39V275.58M211,273.3V275.71M211.5,273.2V275.58M212,273.27V275.81M212.5,273.21V275.67M213,273.27V275.69M213.5,273.29V275.74M214,273.55V275.87M214.5,273.4V275.65M215,273.32V275.83M215.5,273.49V275.59M216,273.13V276M216.5,273.64V276.08M217,273.14V275.84M217.5,273.44V275.98M218,273.37V275.77M218.5,273.59V275.88M219,273.14V276.07M219.5,273.54V275.59M220,273.18V275.87M220.5,273.68V275.71M221,273.23V275.57M221.5,273.47V275.59M222,273.19V275.58M222.5,273.15V275.88M223,273.46V275.75M223.5,273.29V275.87M224,273.49V275.85M224.5,273.39V275.72M225,273.18V276M225.5,273.47V275.9M226,273.4V276.03M226.5,273.52V275.8M227,273.33V275.75M227.5,273.17V275.85M228,273.49V276.09M228.5,273.33V276.05M229,273.67V275.68M229.5,273.32V275.58M230,273.2V275.79M230.5,273.13V275.93M231,273.65V275.74M231.5,273.38V275.71M232,273.62V276.05M232.5,273.42V275.89M233,273.39V275.75M233.5,273.24V275.65M234,273.19V275.93M234.5,273.68V275.94M235,273.47V276.03M235.5,273.51V275.99M236,273.67V275.87M236.5,273.64V276.05M237,273.54V275.99M237.5,273.26V275.68M238,273.48V276.1M238.5,273.43V275.58M239,273.19V275.95M239.5,273.27V275.61M240,273.41V275.69M240.5,273.28V275.64M241,273.14V275.65M241.5,273.33V275.8M242,273.15V275.94M242.5,273.44V275.76M243,273.53V275.98M243.5,273.52V275.98M244,273.6V275.95M244.5,273.19V275.95M245,273.55V275.97M245.5,273.34V275.64M246,273.15V275.89M246.5,273.31V275.65M247,273.63V275.77M247.5,273.2V275.7M248,273.23V275.52M248.5,273.21V276.03M249,273.69V275.86M249.5,273.4V276.02M250,273.48V275.73M250.5,273.56V275.58M251,273.45V275.82M251.5,273.25V275.91M252,273.22V275.73M252.5,273.2V275.56M253,273.18V275.6M253.5,273.48V275.51M254,273.47V275.55M254.5,273.26V275.76M255,273.29V275.92M255.5,273.38V275.59M256,273.54V276.07M256.5,273.37V275.59M257,273.24V275.87M257.5,273.15V275.65M258,273.63V275.77M258.5,273.56V276.08M259,273.33V276.09M259.5,273.37V275.94M260,273.14V276.04M260.5,273.12V275.58M261,273.68V275.58M261.5,273.33V275.93M262,273.48V275.63M262.5,273.23V275.94M263,273.4V276.07M263.5,273.55V275.93M264,273.61V275.76M264.5,273.66V275.6M265,273.32V276.01M265.5,273.49V276.04" stroke="#8ea4f4" stroke-width="0.6" stroke-opacity="0.45" fill="none"/>
<path d="M38.5,274.83 L39,273.81 L39.5,272.48 L40,270.81 L40.5,269.66 L41,268.35 L41.5,266.38 L42,265.65 L42.5,263.42 L43,263.16 L43.5,260.85 L44,260.7 L44.5,258.4 L45,258.31 L45.5,257.6 L46,255.8 L46.5,255.16 L47,254.39 L47.5,251.96 L48,251.4 L48.5,251.39 L49,250.23 L49.5,249.88 L50,250.59 L50.5,249.78 L51,248.87 L51.5,247.96 L52,248.1 L52.5,247.7 L53,247.18 L53.5,247.63 L54,245.93 L54.5,247.09 L55,246.04 L55.5,246.52 L56,245.73 L56.5,245.36 L57,245.15 L57.5,245.36 L58,245.24 L58.5,246.17 L59,245.45 L59.5,244.65 L60,244.04 L60.5,244.45 L61,244.52 L61.5,243.48 L62,244.05 L62.5,244.46 L63,243.64 L63.5,243.08 L64,243.95 L64.5,244.22 L65,243.4 L65.5,243.5 L66,243.86 L66.5,243.56 L67,243.04 L67.5,243.17 L68,243.28 L68.5,243.32 L69,243.83 L69.5,242.97 L70,243.6 L70.5,243.44 L71,242.72 L71.5,243.94 L72,243.79 L72.5,243.29 L73,243.19 L73.5,244.41 L74,244.82 L74.5,244.29 L75,244.29 L75.5,244.81 L76,244.39 L76.5,244.58 L77,245.33 L77.5,244.63 L78,245.73 L78.5,245.54 L79,246.12 L79.5,245 L80,246.48 L80.5,246.1 L81,246.6 L81.5,246.21 L82,246.33 L82.5,247.43 L83,247.37 L83.5,247.61 L84,247.88 L84.5,248.06 L85,247.37 L85.5,248.1 L86,248.3 L86.5,249.47 L87,249.4 L87.5,248.7 L88,248.66 L88.5,249.78 L89,249.93 L89.5,250.48 L90,249.66 L90.5,251.03 L91,250.65 L91.5,251.33 L92,251.14 L92.5,251.09 L93,251.17 L93.5,252.3 L94,250.67 L94.5,252.69 L95,252.78 L95.5,252.46 L96,253.32 L96.5,253.21 L97,252.98 L97.5,253.65 L98,254.26 L98.5,254.29 L99,254.21 L99.5,255.06 L100,255.34 L100.5,255.79 L101,255.63 L101.5,256.41 L102,255.75 L102.5,256.12 L103,255.96 L103.5,256.77 L104,257.08 L104.5,257.3 L105,257.03 L105.5,258.23 L106,257.36 L106.5,257.92 L107,257.34 L107.5,259.23 L108,259.38 L108.5,259.22 L109,259.69 L109.5,259.3 L110,259.61 L110.5,259.91 L111,260.69 L111.5,260.65 L112,261.13 L112.5,260.86 L113,260.99 L113.5,261.97 L114,262.15 L114.5,262.45 L115,262.24 L115.5,262.85 L116,262.32 L116.5,262.74 L117,263.54 L117.5,263.24 L118,263.34 L118.5,263.68 L119,264.96 L119.5,264.31 L120,264.83 L120.5,264.84 L121,266.12 L121.5,265.27 L122,265.95 L122.5,266.11 L123,266.09 L123.5,266.11 L124,265.66 L124.5,266.71 L125,267.56 L125.5,267.07 L126,267.86 L126.5,267.49 L127,267.74 L127.5,267.33 L128,267.63 L128.5,268.03 L129,268.45 L129.5,267.71 L130,267.69 L130.5,268.38 L131,268.52 L131.5,268.91 L132,269.56 L132.5,268.76 L133,269.91 L133.5,269.52 L134,269.44 L134.5,268.88 L135,270.34 L135.5,270.61 L136,270.23 L136.5,270.4 L137,270.17 L137.5,269.7 L138,270.33 L138.5,270.22 L139,270.41 L139.5,270.79 L140,271.05 L140.5,271.65 L141,272.13 L141.5,271.65 L142,272.22 L142.5,271.88 L143,272.03 L143.5,272.43 L144,272.15 L144.5,272.63 L145,272.44 L145.5,272.39 L146,272.57 L146.5,273.57 L147,273.15 L147.5,272.95 L148,273.3 L148.5,272.99 L149,273.2 L149.5,273.32 L150,272.85 L150.5,273.54 L151,273.85 L151.5,273.85 L152,273.74 L152.5,274.29 L153,273.57 L153.5,274.42 L154,274.43 L154.5,274.2 L155,275.1 L155.5,274.17 L156,274.61 L156.5,274.46 L157,274.21 L157.5,274.4 L158,274.7 L158.5,274.71 L159,274.81 L159.5,274.29 L160,274.52 L160.5,274.52 L161,274.3 L161.5,274.57 L162,273.71 L162.5,274.11 L163,274.38 L163.5,274.43 L164,274.85 L164.5,274.37 L165,275.27 L165.5,274 L166,275.34 L166.5,274.22 L167,274.14 L167.5,274.3 L168,274.35 L168.5,274.49 L169,274.42 L169.5,274.79 L170,274.92 L170.5,274.18 L171,275.11 L171.5,274.71 L172,274.62 L172.5,274.96 L173,274.58 L173.5,275.2 L174,274.13 L174.5,275.11 L175,274.43 L175.5,274.92 L176,274.44 L176.5,275.29 L177,274.78 L177.5,274.93 L178,274.2 L178.5,274.03 L179,274.73 L179.5,275.24 L180,274.7 L180.5,274.04 L181,275.32 L181.5,274.43 L182,274.94 L182.5,274.31 L183,274.35 L183.5,274.75 L184,273.58 L184.5,274.24 L185,274.46 L185.5,274.47 L186,273.98 L186.5,275.07 L187,274.54 L187.5,274.56 L188,273.87 L188.5,274.59 L189,274.88 L189.5,274.96 L190,274.86 L190.5,274.59 L191,274.52 L191.5,274.68 L192,274.88 L192.5,274.52 L193,274.52 L193.5,274.77 L194,274.51 L194.5,274.71 L195,274.66 L195.5,274.24 L196,275.21 L196.5,274.88 L197,274.25 L197.5,274.23 L198,274.41 L198.5,274.37 L199,274.21 L199.5,274.69 L200,274.47 L200.5,274.23 L201,275.21 L201.5,274.46 L202,274.73 L202.5,274.07 L203,274.16 L203.5,274.2 L204,274.97 L204.5,274.88 L205,274.5 L205.5,274.48 L206,274.72 L206.5,274.25 L207,274.5 L207.5,274.97 L208,274.24 L208.5,274.85 L209,274.55 L209.5,274.66 L210,274.53 L210.5,274.92 L211,274.93 L211.5,274.8 L212,273.94 L212.5,274.64 L213,275.05 L213.5,274.19 L214,273.98 L214.5,274.5 L215,274.9 L215.5,274.08 L216,274.72 L216.5,274.47 L217,274.57 L217.5,274.74 L218,274.51 L218.5,274.36 L219,274.65 L219.5,275.19 L220,274.82 L220.5,274.85 L221,274.21 L221.5,274.38 L222,274.06 L222.5,274.95 L223,274.98 L223.5,274.75 L224,274.89 L224.5,274.42 L225,274.44 L225.5,275.06 L226,274.42 L226.5,274.99 L227,275.24 L227.5,274.13 L228,274.24 L228.5,275.25 L229,274.97 L229.5,275.2 L230,275.25 L230.5,274.47 L231,275.38 L231.5,275.13 L232,274.99 L232.5,274.72 L233,274.45 L233.5,274.29 L234,274.02 L234.5,274.26 L235,274.28 L235.5,274.66 L236,274.31 L236.5,273.89 L237,274.65 L237.5,273.78 L238,274.45 L238.5,274.85 L239,273.98 L239.5,274.1 L240,274.56 L240.5,275.11 L241,274.53 L241.5,274.4 L242,274.68 L242.5,273.89 L243,273.98 L243.5,274.85 L244,274.89 L244.5,274.81 L245,274.63 L245.5,274.76 L246,273.88 L246.5,274.14 L247,274.42 L247.5,274.96 L248,274.65 L248.5,274.59 L249,274.13 L249.5,274.63 L250,274.73 L250.5,274.81 L251,274.53 L251.5,275.39 L252,274.12 L252.5,274.94 L253,274.07 L253.5,274.07 L254,274.87 L254.5,274.42 L255,274.28 L255.5,274.6 L256,275.6 L256.5,274.34 L257,274.45 L257.5,275.08 L258,274.36 L258.5,275.55 L259,274.08 L259.5,274.5 L260,274.98 L260.5,274.5 L261,274.39 L261.5,274.03 L262,274.54 L262.5,274.93 L263,274.48 L263.5,274.19 L264,275.12 L264.5,274.93 L265,274.82 L265.5,274.5" fill="none" stroke="#2346e8" stroke-width="1.5" stroke-opacity="1.0" stroke-linejoin="round"/>
<path d="M38.5,274.48 L39,272.55 L39.5,271.27 L40,269.34 L40.5,267.83 L41,266.24 L41.5,264.52 L42,263.44 L42.5,261.87 L43,260.17 L43.5,259.36 L44,258.25 L44.5,257.18 L45,256.26 L45.5,255.04 L46,254.33 L46.5,253.36 L47,252.88 L47.5,252.21 L48,251.61 L48.5,251.08 L49,250.73 L49.5,250.28 L50,250.15 L50.5,250 L51,249.78 L51.5,249.46 L52,249.02 L52.5,248.87 L53,249.01 L53.5,249.02 L54,248.9 L54.5,248.69 L55,248.22 L55.5,248.85 L56,248.66 L56.5,247.94 L57,249.16 L57.5,248.09 L58,248.87 L58.5,248.75 L59,248.69 L59.5,249.54 L60,249.18 L60.5,249.35 L61,249.75 L61.5,250.12 L62,250.42 L62.5,250.67 L63,250.71 L63.5,250.61 L64,251.53 L64.5,251.99 L65,252.15 L65.5,252.41 L66,252.57 L66.5,253.26 L67,252.81 L67.5,254.11 L68,254.36 L68.5,254.41 L69,255.49 L69.5,256.05 L70,256.27 L70.5,256.85 L71,257.09 L71.5,257.85 L72,257.86 L72.5,257.71 L73,259.03 L73.5,259.37 L74,260.43 L74.5,260.63 L75,261.19 L75.5,261.63 L76,262.17 L76.5,262.24 L77,263.25 L77.5,263.43 L78,263.74 L78.5,264.01 L79,265.24 L79.5,265.01 L80,265.5 L80.5,266.6 L81,266.94 L81.5,267.46 L82,266.51 L82.5,267.58 L83,267.81 L83.5,268.92 L84,269.26 L84.5,269.49 L85,269.43 L85.5,268.65 L86,270.39 L86.5,270.68 L87,270.9 L87.5,271.55 L88,271.42 L88.5,271.82 L89,272.09 L89.5,272.51 L90,272.62 L90.5,272.1 L91,272.88 L91.5,273.02 L92,273.18 L92.5,273.37 L93,273.93 L93.5,273.54 L94,274.01 L94.5,274.22 L95,274.63 L95.5,274.76 L96,274.31 L96.5,274.1 L97,274.11 L97.5,274.89 L98,274.65 L98.5,275 L99,274.92 L99.5,274.2 L100,275.39 L100.5,275.27 L101,275.27 L101.5,274.73 L102,275.27 L102.5,274.98 L103,274.72 L103.5,275.07 L104,275.33 L104.5,275.31 L105,275.29 L105.5,274.57 L106,274.69 L106.5,275.23 L107,275.24 L107.5,275.18 L108,274.48 L108.5,275.38 L109,275.26 L109.5,275.32 L110,274.95 L110.5,274.83 L111,275.04 L111.5,275.34 L112,274.64 L112.5,275.29 L113,274.51 L113.5,275.33 L114,275.34 L114.5,275.12 L115,274.97 L115.5,275.18 L116,275.22 L116.5,275.35 L117,275.05 L117.5,274.32 L118,274.87 L118.5,275.31 L119,275 L119.5,275.25 L120,275.21 L120.5,274.51 L121,275 L121.5,275.11 L122,275.16 L122.5,275.08 L123,275.04 L123.5,275.29 L124,275.31 L124.5,275.35 L125,274.69 L125.5,275.35 L126,274.8 L126.5,274.65 L127,275.31 L127.5,275.05 L128,274.91 L128.5,275.04 L129,274.93 L129.5,274.75 L130,274.43 L130.5,274.48 L131,275.39 L131.5,274.02 L132,275.03 L132.5,274.59 L133,275 L133.5,275.11 L134,275.06 L134.5,275.11 L135,274.63 L135.5,275.04 L136,275.4 L136.5,274.94 L137,274.98 L137.5,275.31 L138,275.38 L138.5,275.02 L139,274.7 L139.5,275.27 L140,274.85 L140.5,274.83 L141,274.85 L141.5,275.32 L142,275.31 L142.5,274.88 L143,275.37 L143.5,275.28 L144,274.6 L144.5,275.27 L145,275.28 L145.5,275.19 L146,275.13 L146.5,274.72 L147,275.43 L147.5,275.34 L148,275.37 L148.5,274.76 L149,275.42 L149.5,275.21 L150,274.58 L150.5,275.09 L151,274.89 L151.5,274.79 L152,275.17 L152.5,274.94 L153,274.61 L153.5,274.48 L154,275.16 L154.5,274.64 L155,275.1 L155.5,275.06 L156,275.03 L156.5,274.25 L157,275.39 L157.5,275.02 L158,274.77 L158.5,275.06 L159,275.08 L159.5,275.2 L160,275.09 L160.5,275.32 L161,275.23 L161.5,275.18 L162,275.2 L162.5,274.82 L163,275.21 L163.5,275.33 L164,275.08 L164.5,274.61 L165,275.41 L165.5,275.36 L166,275.07 L166.5,274.96 L167,275.35 L167.5,275.02 L168,275.31 L168.5,275.13 L169,275.37 L169.5,274.84 L170,274.91 L170.5,274.33 L171,275.11 L171.5,275.41 L172,275.31 L172.5,275.31 L173,275.38 L173.5,275.26 L174,274.97 L174.5,274.82 L175,275.39 L175.5,275.1 L176,274.92 L176.5,275.42 L177,275.26 L177.5,275.39 L178,275.17 L178.5,275.35 L179,275.06 L179.5,274.74 L180,274.38 L180.5,275.27 L181,274.99 L181.5,275.27 L182,275.2 L182.5,275.22 L183,275.35 L183.5,275.13 L184,275.39 L184.5,275.24 L185,274.8 L185.5,275.34 L186,275.32 L186.5,275.39 L187,275.33 L187.5,275.07 L188,275.15 L188.5,275.32 L189,274.82 L189.5,274.91 L190,275.26 L190.5,274.72 L191,275.39 L191.5,275.08 L192,275.32 L192.5,274.84 L193,275.22 L193.5,274.61 L194,274.74 L194.5,275.37 L195,275.13 L195.5,274.67 L196,275.05 L196.5,275.34 L197,274.78 L197.5,274.69 L198,275.4 L198.5,274.66 L199,275.31 L199.5,275.17 L200,274.36 L200.5,274.88 L201,275.03 L201.5,275.07 L202,275.18 L202.5,275.24 L203,275.25 L203.5,275.29 L204,274.93 L204.5,275.27 L205,275.17 L205.5,275.37 L206,275.24 L206.5,275.06 L207,274.46 L207.5,275.27 L208,275.08 L208.5,274.08 L209,275.39 L209.5,275.07 L210,274.57 L210.5,274.71 L211,275.1 L211.5,274.73 L212,274.4 L212.5,275.39 L213,275.37 L213.5,274.58 L214,274.7 L214.5,274.91 L215,274.26 L215.5,274.78 L216,275.27 L216.5,274.94 L217,274.8 L217.5,275.33 L218,275.11 L218.5,275.39 L219,274.84 L219.5,275.08 L220,274.94 L220.5,274.98 L221,275 L221.5,275.02 L222,275.1 L222.5,275.27 L223,275.3 L223.5,275.13 L224,275.23 L224.5,274.99 L225,275.02 L225.5,274.6 L226,274.55 L226.5,275.23 L227,274.15 L227.5,274.66 L228,275.25 L228.5,275.22 L229,275.13 L229.5,275.16 L230,275.08 L230.5,275.37 L231,275.23 L231.5,274.01 L232,275.09 L232.5,274.47 L233,275.23 L233.5,275.24 L234,275.1 L234.5,275.02 L235,275.01 L235.5,274.93 L236,275.25 L236.5,275.29 L237,275.06 L237.5,275.03 L238,275.05 L238.5,275.24 L239,275.18 L239.5,275 L240,275.35 L240.5,274.96 L241,275.05 L241.5,274.1 L242,274.6 L242.5,274.9 L243,275.02 L243.5,275.35 L244,275.36 L244.5,275.28 L245,275 L245.5,274.66 L246,275.18 L246.5,274.91 L247,275.14 L247.5,275.22 L248,275.35 L248.5,275.19 L249,275.33 L249.5,275.2 L250,275.27 L250.5,275.22 L251,274.67 L251.5,275.12 L252,275.13 L252.5,275.11 L253,274.94 L253.5,275.13 L254,275.14 L254.5,274.3 L255,274.65 L255.5,275.32 L256,274.72 L256.5,274.66 L257,274.25 L257.5,275.24 L258,275 L258.5,275.31 L259,275.03 L259.5,274.98 L260,275.25 L260.5,275.33 L261,275.15 L261.5,275.19 L262,275.22 L262.5,274.77 L263,275.37 L263.5,275.27 L264,275.14 L264.5,275.33 L265,275.13 L265.5,274.44 L265.5,275.74 L265,275.74 L264.5,275.52 L264,275.86 L263.5,275.74 L263,275.75 L262.5,275.44 L262,275.96 L261.5,275.61 L261,275.49 L260.5,275.62 L260,275.41 L259.5,276.03 L259,275.83 L258.5,275.42 L258,276.52 L257.5,275.46 L257,275.54 L256.5,275.42 L256,275.83 L255.5,275.4 L255,275.51 L254.5,275.8 L254,275.82 L253.5,276.37 L253,275.65 L252.5,276.48 L252,275.79 L251.5,275.43 L251,275.57 L250.5,275.48 L250,275.6 L249.5,275.55 L249,275.55 L248.5,275.57 L248,275.7 L247.5,276.22 L247,275.82 L246.5,275.94 L246,276.17 L245.5,275.95 L245,275.98 L244.5,276 L244,276.24 L243.5,275.63 L243,275.71 L242.5,275.93 L242,275.94 L241.5,275.42 L241,275.58 L240.5,275.62 L240,275.46 L239.5,275.54 L239,275.69 L238.5,275.78 L238,275.79 L237.5,275.89 L237,276.44 L236.5,275.7 L236,276.35 L235.5,275.54 L235,275.67 L234.5,275.83 L234,275.98 L233.5,276.11 L233,275.72 L232.5,276.16 L232,275.6 L231.5,275.87 L231,276.28 L230.5,275.52 L230,275.83 L229.5,275.68 L229,276.13 L228.5,276.36 L228,275.5 L227.5,276.05 L227,275.61 L226.5,275.71 L226,275.8 L225.5,275.77 L225,276.28 L224.5,275.63 L224,276.25 L223.5,276.22 L223,275.96 L222.5,276.05 L222,276.15 L221.5,275.45 L221,275.91 L220.5,276.05 L220,275.74 L219.5,275.71 L219,276.26 L218.5,275.63 L218,275.53 L217.5,276.22 L217,275.53 L216.5,275.69 L216,276.18 L215.5,275.83 L215,275.43 L214.5,275.51 L214,276.13 L213.5,276.11 L213,276.3 L212.5,275.64 L212,275.73 L211.5,275.86 L211,275.84 L210.5,276.06 L210,275.54 L209.5,276.2 L209,275.63 L208.5,275.5 L208,275.93 L207.5,275.81 L207,275.92 L206.5,275.88 L206,275.77 L205.5,275.71 L205,276.09 L204.5,275.69 L204,275.63 L203.5,275.54 L203,275.71 L202.5,276.04 L202,276.47 L201.5,275.84 L201,275.45 L200.5,275.82 L200,276.5 L199.5,275.77 L199,275.59 L198.5,276.2 L198,275.64 L197.5,275.83 L197,275.9 L196.5,275.6 L196,275.95 L195.5,275.52 L195,275.44 L194.5,275.6 L194,276.51 L193.5,275.64 L193,275.94 L192.5,276.09 L192,275.89 L191.5,275.74 L191,275.61 L190.5,275.82 L190,275.55 L189.5,276.33 L189,275.47 L188.5,275.51 L188,275.62 L187.5,275.81 L187,275.64 L186.5,276.32 L186,276.22 L185.5,275.48 L185,275.6 L184.5,275.54 L184,275.78 L183.5,276.05 L183,275.63 L182.5,275.53 L182,275.73 L181.5,275.98 L181,275.43 L180.5,275.5 L180,275.61 L179.5,276.04 L179,275.45 L178.5,275.52 L178,276.26 L177.5,275.44 L177,275.78 L176.5,275.65 L176,275.54 L175.5,275.63 L175,276.19 L174.5,276.01 L174,275.46 L173.5,275.74 L173,275.89 L172.5,275.98 L172,275.88 L171.5,275.86 L171,275.92 L170.5,275.43 L170,275.75 L169.5,275.64 L169,276.19 L168.5,276.01 L168,275.73 L167.5,275.44 L167,275.67 L166.5,275.7 L166,275.76 L165.5,275.73 L165,275.7 L164.5,275.62 L164,275.64 L163.5,276 L163,275.7 L162.5,275.65 L162,277.12 L161.5,275.72 L161,275.82 L160.5,276.06 L160,275.61 L159.5,275.57 L159,275.51 L158.5,276.24 L158,275.55 L157.5,275.58 L157,275.44 L156.5,275.65 L156,275.84 L155.5,276.08 L155,275.62 L154.5,275.55 L154,275.9 L153.5,276.43 L153,275.51 L152.5,276.18 L152,275.67 L151.5,275.62 L151,275.92 L150.5,275.82 L150,276.07 L149.5,275.76 L149,275.61 L148.5,275.55 L148,276.25 L147.5,275.82 L147,276.06 L146.5,275.55 L146,275.63 L145.5,275.72 L145,275.58 L144.5,275.48 L144,275.44 L143.5,275.53 L143,275.57 L142.5,275.51 L142,275.62 L141.5,275.69 L141,275.87 L140.5,275.77 L140,276.04 L139.5,276.2 L139,275.47 L138.5,275.82 L138,275.65 L137.5,275.72 L137,275.77 L136.5,275.55 L136,275.9 L135.5,275.92 L135,275.59 L134.5,276.02 L134,275.44 L133.5,275.64 L133,275.89 L132.5,275.89 L132,275.65 L131.5,275.81 L131,276.07 L130.5,275.79 L130,276.82 L129.5,275.76 L129,276.36 L128.5,275.84 L128,275.7 L127.5,275.49 L127,275.61 L126.5,276.22 L126,276.79 L125.5,275.64 L125,275.64 L124.5,276.1 L124,275.5 L123.5,275.73 L123,275.82 L122.5,276.06 L122,275.79 L121.5,276.26 L121,275.85 L120.5,275.95 L120,276.09 L119.5,275.64 L119,275.64 L118.5,275.58 L118,275.92 L117.5,275.51 L117,275.93 L116.5,275.91 L116,275.93 L115.5,275.87 L115,275.43 L114.5,275.51 L114,275.45 L113.5,275.69 L113,275.7 L112.5,276.04 L112,275.77 L111.5,275.88 L111,275.71 L110.5,276.03 L110,276 L109.5,275.68 L109,275.42 L108.5,275.66 L108,275.9 L107.5,275.81 L107,275.88 L106.5,275.76 L106,275.74 L105.5,276.02 L105,276.09 L104.5,276.03 L104,275.41 L103.5,275.68 L103,275.9 L102.5,275.43 L102,275.72 L101.5,275.47 L101,275.55 L100.5,275.7 L100,275.67 L99.5,275.69 L99,275.58 L98.5,275.79 L98,276.18 L97.5,275.92 L97,275.94 L96.5,276.28 L96,276.21 L95.5,276.11 L95,276.44 L94.5,276.51 L94,276.74 L93.5,276.15 L93,275.72 L92.5,275.9 L92,275.81 L91.5,276.03 L91,275.68 L90.5,275.74 L90,275.55 L89.5,275.36 L89,275.05 L88.5,274.83 L88,274.81 L87.5,274.55 L87,274.19 L86.5,274.31 L86,273.94 L85.5,273.77 L85,273.24 L84.5,273.54 L84,273.57 L83.5,272.65 L83,273.21 L82.5,272.79 L82,271.86 L81.5,271.55 L81,271.32 L80.5,270.92 L80,270.75 L79.5,270.56 L79,270.31 L78.5,269.56 L78,269.77 L77.5,268.86 L77,269.05 L76.5,267.96 L76,267.55 L75.5,267.24 L75,266.97 L74.5,266.08 L74,265.8 L73.5,265.37 L73,264.86 L72.5,264.23 L72,263.57 L71.5,263.35 L71,263 L70.5,262.46 L70,261.81 L69.5,261.55 L69,261.66 L68.5,261.58 L68,260.04 L67.5,259.62 L67,259.05 L66.5,258.88 L66,258.28 L65.5,258.53 L65,258.06 L64.5,257.24 L64,257.11 L63.5,257.15 L63,256.37 L62.5,256.44 L62,256.21 L61.5,255.76 L61,255.57 L60.5,256.09 L60,254.88 L59.5,255.47 L59,255.26 L58.5,254.6 L58,254.45 L57.5,254.94 L57,254.9 L56.5,254.91 L56,254.45 L55.5,254.73 L55,254.3 L54.5,255.16 L54,254.71 L53.5,254.51 L53,254.79 L52.5,255.19 L52,254.96 L51.5,255.15 L51,255.72 L50.5,255.69 L50,255.68 L49.5,256.64 L49,256.91 L48.5,257.17 L48,256.98 L47.5,257.87 L47,259.39 L46.5,259.2 L46,259.64 L45.5,260.78 L45,261.1 L44.5,262.06 L44,262.96 L43.5,264.63 L43,264.79 L42.5,265.76 L42,267.29 L41.5,268.56 L41,270.66 L40.5,271.79 L40,272.44 L39.5,274.61 L39,275.82 L38.5,277.3 Z" fill="#aab4de" fill-opacity="0.6"/>
<path d="M38.5,274.61V276.88M39,273V275.64M39.5,271.27V273.91M40,269.46V272.35M40.5,267.24V270.77M41,265.7V269.53M41.5,264.47V268.04M42,262.73V267.58M42.5,261.33V266.1M43,259.75V264.73M43.5,258.7V264.42M44,257.79V262.57M44.5,256.52V262.27M45,255.16V262.22M45.5,255.29V261.12M46,253.36V260.48M46.5,253.76V259.8M47,252.9V259.32M47.5,251.46V257.37M48,251.11V257.7M48.5,250.55V257.04M49,250.82V256.64M49.5,249.83V255.69M50,250.11V256.47M50.5,249.4V255.61M51,250V255.42M51.5,248.78V255.26M52,248.33V255.03M52.5,249.43V255.24M53,248.05V255.9M53.5,248.89V254.5M54,248.7V254.52M54.5,247.73V255.67M55,248.17V255.27M55.5,248.12V255.24M56,247.78V255.19M56.5,248.38V254.6M57,248.28V255.61M57.5,249.08V255.75M58,249.2V255.13M58.5,248.13V255.84M59,249.19V255.07M59.5,249.28V254.67M60,248.64V255.24M60.5,249.07V255.09M61,250.06V256.51M61.5,249.35V256.75M62,249.52V256.27M62.5,249.57V256.51M63,250.89V256.57M63.5,250.61V257.26M64,251.42V257.26M64.5,251.79V257.28M65,251.17V258.23M65.5,251.43V258.33M66,253.23V258.93M66.5,252.36V258.77M67,252.75V259.74M67.5,254.05V260.78M68,254.39V260.07M68.5,254.05V261.51M69,255.12V261.75M69.5,255.5V262.57M70,256.01V262.11M70.5,256.95V263.26M71,256.35V262.96M71.5,256.63V263.28M72,258.08V264.75M72.5,258.74V264.99M73,258.49V264.86M73.5,259.9V266.37M74,259.56V266.6M74.5,260.58V266.08M75,261.2V266.84M75.5,262.09V267.91M76,262.19V268.29M76.5,262.95V268.32M77,263.66V269.56M77.5,263.34V269.19M78,263.9V270.05M78.5,264.03V270.43M79,265V270.37M79.5,265.31V270.5M80,265.75V270.91M80.5,266.01V271.78M81,266.13V271.82M81.5,266.76V271.76M82,267.06V272.65M82.5,268.22V272.25M83,267.63V272.09M83.5,268.51V273.13M84,268.53V273.22M84.5,269.63V272.94M85,269.61V273.76M85.5,270.36V273.55M86,270.59V274.08M86.5,270.4V274.28M87,271.19V274.87M87.5,271.52V274.49M88,271.26V275.26M88.5,271.99V274.96M89,272.32V274.87M89.5,272.8V275.1M90,272.73V275.3M90.5,273.29V275.74M91,273.28V275.74M91.5,273.16V275.85M92,273.66V276M92.5,273.79V276.06M93,273.92V275.83M93.5,274V275.79M94,274.27V276.48M94.5,274.61V276.27M95,274.56V276.14M95.5,274.63V276.09M96,274.84V276.05M96.5,274.76V276.01M97,274.92V275.82M97.5,275.08V275.87M98,275.1V275.73M98.5,275.2V275.59M99,275.21V275.59M99.5,275.32V275.48" stroke="#aab4de" stroke-width="0.6" stroke-opacity="0.35" fill="none"/>
<path d="M38.5,275.72 L39,273.98 L39.5,271.92 L40,270.66 L40.5,269.32 L41,267.86 L41.5,266.34 L42,264.82 L42.5,264.3 L43,262.52 L43.5,261.27 L44,260.57 L44.5,259.59 L45,258.63 L45.5,258.18 L46,256.61 L46.5,256.29 L47,255.86 L47.5,254.72 L48,254.36 L48.5,254.05 L49,253.62 L49.5,253.13 L50,252.45 L50.5,252.37 L51,252.52 L51.5,252.26 L52,252.13 L52.5,251.92 L53,251.37 L53.5,252.05 L54,251.38 L54.5,252.23 L55,252.63 L55.5,251.95 L56,251.86 L56.5,251.5 L57,251.4 L57.5,251.62 L58,252.16 L58.5,251.9 L59,251.43 L59.5,252.4 L60,252.13 L60.5,252.79 L61,252.73 L61.5,252.69 L62,253.05 L62.5,253.73 L63,253.56 L63.5,254.5 L64,254.08 L64.5,255.16 L65,254.53 L65.5,254.96 L66,255.9 L66.5,256.59 L67,256.36 L67.5,257.15 L68,256.99 L68.5,257.4 L69,258.2 L69.5,259.38 L70,259.01 L70.5,259.01 L71,259.17 L71.5,260.46 L72,261.17 L72.5,261.33 L73,262.02 L73.5,262.21 L74,263.42 L74.5,263.67 L75,263.53 L75.5,264.3 L76,265.42 L76.5,265.47 L77,265.14 L77.5,266.26 L78,266.66 L78.5,266.3 L79,267.79 L79.5,268.48 L80,268.18 L80.5,268.41 L81,268.99 L81.5,269.23 L82,269.7 L82.5,270.23 L83,269.82 L83.5,270.56 L84,271.63 L84.5,271.23 L85,271.61 L85.5,271.98 L86,271.86 L86.5,271.94 L87,273.48 L87.5,272.97 L88,272.87 L88.5,273.76 L89,273.55 L89.5,273.58 L90,273.92 L90.5,273.8 L91,274.06 L91.5,274.85 L92,274.69 L92.5,274.65 L93,275.28 L93.5,275.16 L94,275.21 L94.5,274.84 L95,275.17 L95.5,275.8 L96,275.03 L96.5,276.1 L97,275.28 L97.5,274.89 L98,275.2 L98.5,275.86 L99,275.15 L99.5,275.52 L100,275.62 L100.5,275.17 L101,275.73 L101.5,275.86 L102,275.65 L102.5,274.76 L103,275.48 L103.5,275.63 L104,275.68 L104.5,276.01 L105,275.48 L105.5,275.4 L106,274.67 L106.5,274.98 L107,275.77 L107.5,274.98 L108,275.3 L108.5,274.8 L109,275.28 L109.5,274.96 L110,275.55 L110.5,275.36 L111,275.51 L111.5,274.85 L112,275.32 L112.5,275.68 L113,274.29 L113.5,275.17 L114,275.35 L114.5,275.67 L115,275.59 L115.5,275.6 L116,275.5 L116.5,275.66 L117,275.33 L117.5,275.35 L118,274.98 L118.5,275.32 L119,275.3 L119.5,275.93 L120,275 L120.5,275.48 L121,275.29 L121.5,275.41 L122,275.77 L122.5,275.37 L123,275.08 L123.5,275.43 L124,275.74 L124.5,275.51 L125,275.65 L125.5,274.93 L126,275.73 L126.5,275.24 L127,274.99 L127.5,275.52 L128,274.91 L128.5,275.5 L129,275.96 L129.5,275.22 L130,275.1 L130.5,275.8 L131,275.64 L131.5,275.71 L132,274.75 L132.5,275.12 L133,276.06 L133.5,275.12 L134,275.25 L134.5,275.45 L135,275.49 L135.5,275.35 L136,274.5 L136.5,275.6 L137,275.01 L137.5,275.74 L138,275.85 L138.5,275.03 L139,275.46 L139.5,275.98 L140,276.01 L140.5,275.75 L141,275.24 L141.5,275.56 L142,275.09 L142.5,275.94 L143,275.54 L143.5,275.91 L144,274.54 L144.5,275.22 L145,275.23 L145.5,275.28 L146,274.98 L146.5,275.58 L147,275.11 L147.5,276.07 L148,275.29 L148.5,275.25 L149,275.17 L149.5,275.62 L150,275.53 L150.5,275.08 L151,274.36 L151.5,275.29 L152,275.12 L152.5,275.42 L153,275.11 L153.5,275.52 L154,275.01 L154.5,275.51 L155,275.33 L155.5,275.75 L156,275.37 L156.5,275.64 L157,275.31 L157.5,275.34 L158,275.17 L158.5,274.96 L159,275.48 L159.5,275.41 L160,275.96 L160.5,275.58 L161,276.06 L161.5,276.09 L162,275.51 L162.5,275.06 L163,275.34 L163.5,275.78 L164,275.4 L164.5,275.8 L165,275.29 L165.5,275.46 L166,275.75 L166.5,275.65 L167,275.54 L167.5,275.51 L168,275.63 L168.5,275.4 L169,275.77 L169.5,275.22 L170,276.48 L170.5,275.51 L171,275.13 L171.5,274.86 L172,275.11 L172.5,275.56 L173,275.25 L173.5,275.83 L174,275.3 L174.5,275.06 L175,275.31 L175.5,275.23 L176,275.35 L176.5,275.02 L177,275.37 L177.5,274.76 L178,275.47 L178.5,275.37 L179,275.36 L179.5,275.13 L180,275.4 L180.5,275.49 L181,274.81 L181.5,275.76 L182,275.37 L182.5,275.59 L183,275.95 L183.5,274.99 L184,275.07 L184.5,275.08 L185,275.43 L185.5,275.07 L186,275.12 L186.5,276.03 L187,275.33 L187.5,275.56 L188,275.77 L188.5,275.93 L189,274.92 L189.5,275.56 L190,275.69 L190.5,275.81 L191,275.19 L191.5,275.27 L192,275.49 L192.5,275.44 L193,275.31 L193.5,275.21 L194,275.38 L194.5,275.32 L195,275.51 L195.5,275.2 L196,275.06 L196.5,275.26 L197,275.35 L197.5,275.79 L198,275.28 L198.5,274.68 L199,276.19 L199.5,275.84 L200,275.63 L200.5,275.59 L201,275.43 L201.5,276.04 L202,274.99 L202.5,275.68 L203,275.69 L203.5,276.26 L204,275.39 L204.5,275.96 L205,275.58 L205.5,275.07 L206,275.03 L206.5,275.85 L207,275.01 L207.5,275.32 L208,276.01 L208.5,275.09 L209,275.62 L209.5,276.11 L210,275.97 L210.5,275.7 L211,275.17 L211.5,276.07 L212,275.6 L212.5,275.44 L213,275.04 L213.5,274.66 L214,275.56 L214.5,275.26 L215,274.82 L215.5,275.74 L216,275.51 L216.5,275.21 L217,275.28 L217.5,275.62 L218,275.61 L218.5,275.1 L219,275.75 L219.5,275.35 L220,275.07 L220.5,275.38 L221,275.43 L221.5,275.83 L222,275.66 L222.5,274.63 L223,274.99 L223.5,275.7 L224,275.52 L224.5,275.08 L225,275.24 L225.5,275.99 L226,274.59 L226.5,275.86 L227,275.8 L227.5,275.21 L228,275.32 L228.5,275.55 L229,275.45 L229.5,275.57 L230,275.84 L230.5,275.2 L231,275.42 L231.5,275.58 L232,275.27 L232.5,275.41 L233,275.93 L233.5,274.7 L234,275.52 L234.5,275.23 L235,275.02 L235.5,275.34 L236,275.55 L236.5,275.71 L237,275.15 L237.5,275.65 L238,275.93 L238.5,275.48 L239,275.67 L239.5,275.58 L240,275.65 L240.5,275.09 L241,275.85 L241.5,275.58 L242,276.06 L242.5,275.71 L243,275.11 L243.5,275.83 L244,275.9 L244.5,275.79 L245,275.32 L245.5,275.28 L246,275.9 L246.5,275.15 L247,275.73 L247.5,275.47 L248,275.19 L248.5,275.29 L249,275.23 L249.5,275.6 L250,275.19 L250.5,275.39 L251,275.34 L251.5,275.56 L252,275.78 L252.5,274.9 L253,275.57 L253.5,275.18 L254,275.35 L254.5,275.37 L255,275.97 L255.5,275.95 L256,275.34 L256.5,275.34 L257,275.93 L257.5,275.6 L258,276.08 L258.5,275.18 L259,275.82 L259.5,275.25 L260,274.4 L260.5,275.69 L261,275.09 L261.5,275.67 L262,275.31 L262.5,275.86 L263,274.94 L263.5,274.87 L264,275.94 L264.5,275.8 L265,275.46 L265.5,274.85" fill="none" stroke="#283a92" stroke-width="1.4" stroke-opacity="1.0" stroke-linejoin="round"/>
<path d="M38.3,273.03V274.47M40.1,273.99V275.7M42.3,274.22V276.32M43.5,274.21V276.08M44,274.79V276.79M44.5,273.11V274.82M45,272.54V273.88M45.5,271.69V273.43M46,271.35V273.54M46.5,271V272.86M47,269.98V271.4M47.5,269.19V271.72M48,269.38V271.39M48.5,267.92V270.56M49,268.26V270.78M49.5,267.78V270.56M50,267.87V269.65M50.5,265.43V267.8M51,266.1V268.59M51.5,264.92V267.28M52,264.34V265.9M52.5,264.78V267.09M53,263.5V265.04M53.5,263.34V265.68M54,263.54V265.87M54.5,262.22V264.75M55,261.35V263.88M55.5,261.59V264.37M56,260.38V263.32M56.5,259.93V262.78M57,260.38V262.62M57.5,258.58V261.36M58,258.67V261.67M58.5,257.29V260.28M59,256.98V260.22M59.5,256.5V259.46M60,255.54V258.82M60.5,255.7V257.73M61,255.38V257.92M61.5,253.99V257.24M62,254.29V256.99M62.5,253.97V256.1M63,252.53V255.44M63.5,252.03V254.39M64,251.54V254.97M64.5,250.76V254.42M65,251.27V253.79M65.5,250.41V252.95M66,248.95V252.23M66.5,249.28V251.85M67,248.11V251.71M67.5,247.94V250.77M68,246.14V249.24M68.5,246.84V249.24M69,246.45V248.62M69.5,245.21V247.6M70,245.22V247.36M70.5,244.84V248.22M71,244.38V247.69M71.5,243.54V246.43M72,241.87V244.69M72.5,242.62V245.16M73,242.15V245.2M73.5,240.95V243.34M74,241.03V243.73M74.5,240.17V243.52M75,239.46V243.16M75.5,238.76V241.4M76,238.4V241.18M76.5,238.05V241.02M77,237.36V240.18M77.5,237.19V240.23M78,235.91V239.82M78.5,235.25V238.39M79,234.65V237.43M79.5,234.48V237.32M80,234.06V236.79M80.5,233.54V235.74M81,233.41V236.11M81.5,232.69V236.71M82,231.38V234.77M82.5,230.47V233.46M83,230.5V233.14M83.5,229.57V232.6M84,229.89V231.85M84.5,227.24V230.6M85,226.87V230.29M85.5,228.19V231.51M86,226.84V229.59M86.5,226.94V230.48M87,226.36V229.88M87.5,224.48V227.01M88,225.18V227.66M88.5,223.93V227.94M89,223.19V226.94M89.5,223.48V226.24M90,223.03V225.28M90.5,222.6V225.5M91,222.49V225.42M91.5,221.56V224.56M92,220.33V223.21M92.5,220.77V223.25M93,220.1V222.65M93.5,218.79V222.7M94,218.44V221.92M94.5,218.3V220.88M95,217.92V220.56M95.5,216.74V219.2M96,215.08V218.31M96.5,215.32V219.25M97,214.69V217.3M97.5,214V218.3M98,213.11V217.15M98.5,213.01V215.86M99,212.88V216.05M99.5,212.5V215.88M100,211.34V214.41M100.5,211.53V214.98M101,210.43V212.92M101.5,210.48V213.02M102,208.48V212.23M102.5,207.96V211.78M103,207.93V211.5M103.5,207.39V210.95M104,207.21V210.29M104.5,206.82V209.14M105,205.02V209.04M105.5,205.03V208.36M106,204.79V207.8M106.5,204.19V206.82M107,203.02V207.2M107.5,203.54V207M108,202.81V205.95M108.5,202.33V205.59M109,201.39V205.1M109.5,200.87V203.69M110,200.57V202.93M110.5,199.49V203.28M111,198.21V201.91M111.5,198.46V201.69M112,197.39V201.26M112.5,197.75V200.45M113,196.24V200.17M113.5,195.89V199.39M114,194.68V199.38M114.5,195.5V198.39M115,192.87V196.58M115.5,194.46V197.6M116,192.76V196.59M116.5,192.71V196.05M117,192.61V196.06M117.5,189.82V193.4M118,191.81V194.99M118.5,191.18V194.78M119,191.08V194.52M119.5,189.61V193.04M120,189.58V193.16M120.5,188.43V191.75M121,188.74V191.94M121.5,186.49V189.85M122,186.56V190.3M122.5,185.26V190.02M123,185.75V189.92M123.5,185.67V188.68M124,185.59V188.28M124.5,184.39V187.93M125,182.63V187.66M125.5,182.77V186.74M126,181.65V186.11M126.5,181.11V184.05M127,181.09V184.38M127.5,179.8V183.77M128,179.89V184.37M128.5,179.03V182.18M129,178.74V183.22M129.5,178.45V182.17M130,177.56V181.39M130.5,177.73V180.81M131,176.61V181.02M131.5,176.25V179.5M132,176.46V179.94M132.5,174.82V178.8M133,173.94V178.67M133.5,174.2V177.81M134,173.36V177.27M134.5,172.74V177.4M135,172.46V175.55M135.5,173.75V176.4M136,171.98V176.52M136.5,171.74V175.61M137,170.15V174.11M137.5,169.52V174.37M138,168.39V173.17M138.5,168.31V172.41M139,168.8V172.91M139.5,167.27V171.25M140,167.5V171.37M140.5,166.52V170.47M141,166.4V170.15M141.5,165.19V169.06M142,166.04V168.97M142.5,164.83V168.46M143,163.85V167.19M143.5,162.65V167.36M144,161.41V165.28M144.5,163.12V166.24M145,162.02V165.97M145.5,161.58V165.52M146,159.88V165.48M146.5,160.83V165.78M147,160.14V164.66M147.5,158.64V163.08M148,158.33V162.13M148.5,158.74V163.11M149,156.34V160.9M149.5,157.65V160.99M150,155.72V160.3M150.5,156.51V159.39M151,156.61V159.59M151.5,155.37V159.61M152,155.35V158.6M152.5,154.21V157.53M153,154.12V159.17M153.5,153.54V157.52M154,152.43V156.31M154.5,152.6V156.57M155,151.45V155.16M155.5,150.54V154.96M156,149.7V154.38M156.5,148.36V153.23M157,148.11V152.14M157.5,148.21V152.49M158,148.4V152.66M158.5,146.92V151.11M159,147.93V152.47M159.5,145.91V149.63M160,145.88V150.27M160.5,145.88V150.58M161,144.86V150.11M161.5,144.76V148.71M162,144.33V148.79M162.5,143.81V147.38M163,143.17V148.31M163.5,142.75V146.79M164,142.37V147.15M164.5,141.08V145.52M165,140.69V145.58M165.5,141.45V146.38M166,139.22V144.72M166.5,138.52V144.21M167,139.27V144.43M167.5,138.66V144.02M168,136.96V141.31M168.5,137.84V141.82M169,136.72V141.73M169.5,137.33V140.62M170,135.54V139.08M170.5,135.62V139.19M171,134.71V139.04M171.5,134.21V138.51M172,132.55V137.92M172.5,133.79V138.16M173,132.61V137.34M173.5,132.65V136.36M174,131.24V136.62M174.5,130.65V136.35M175,131.12V135.53M175.5,129.41V134.42M176,129.49V134.61M176.5,130.38V133.86M177,127.87V133.34M177.5,127.86V132.66M178,128.31V131.74M178.5,127.55V131.82M179,127.1V131.89M179.5,126.94V131.04M180,125.84V129.82M180.5,126.56V130.53M181,124.52V129.94M181.5,124.52V130.23M182,123.64V129.02M182.5,124.27V128.46M183,123.15V127.22M183.5,123.32V128.31M184,121.77V126.37M184.5,120.86V125.85M185,120.2V125.72M185.5,121.22V125.25M186,119.95V124.5M186.5,119.22V124.15M187,119.57V125.23M187.5,118.96V124.05M188,116.97V122.28M188.5,118.03V123.2M189,117.06V122.88M189.5,116.3V121.91M190,116.1V120.37M190.5,116.14V120.01M191,115.61V121.07M191.5,113.64V119.68M192,114.85V120.75M192.5,112.68V117.66M193,112.25V118.18M193.5,112.29V117.67M194,111.72V116.15M194.5,111.18V116.38M195,110.56V115.37M195.5,110.26V115.69M196,109.68V115.82M196.5,109.29V115.2M197,107.98V113.38M197.5,109.17V113.8M198,108.56V113.95M198.5,108.24V113.44M199,107.8V112.4M199.5,106.54V112.54M200,106.28V112.23M200.5,105.24V111.14M201,106.15V109.76M201.5,104.79V110.52M202,105.68V111.18M202.5,103.9V109.84M203,103.16V109.03M203.5,102.95V109.1M204,102.38V106.65M204.5,102.37V108.19M205,101.43V107.15M205.5,102.18V106.67M206,101.42V106.25M206.5,100.57V106.12M207,99.42V105.3M207.5,99.99V103.93M208,99.06V103.92M208.5,98.87V105.33M209,97.31V103.22M209.5,98.41V103.73M210,97.6V103.14M210.5,96.09V100.71M211,97.36V103.34M211.5,94.61V100.02M212,94.53V101.12M212.5,95.01V100.94M213,94.39V100.09M213.5,94.29V100.19M214,93.11V97.86M214.5,92.61V98.84M215,91.72V96.36M215.5,91.16V98.02M216,91.04V96.54M216.5,91.37V96.84M217,90.48V95.35M217.5,89.76V96.02M218,90.29V94.59M218.5,89.07V93.94M219,89.2V93.29M219.5,87.2V93.31M220,87.59V93.26M220.5,88.81V94.31M221,86.9V91.65M221.5,85.19V92.02M222,85.47V91.04M222.5,85.27V90.61M223,84.19V89.77M223.5,85.57V89.85M224,83.74V88.79M224.5,83.85V90.31M225,82.3V88.47M225.5,82.86V87.79M226,83.28V88.73M226.5,82.5V86.48M227,82.28V87.47M227.5,81.08V85.34M228,81.35V86.05M228.5,80.23V84.91M229,78.56V85.5M229.5,78.77V84.29M230,79.12V83.91M230.5,76.32V83.37M231,76.9V83.03M231.5,78.21V82.04M232,77.2V82.23M232.5,75.23V82.24M233,75.39V81.59M233.5,74.62V81.37M234,73.06V80.25M234.5,73.74V79.01M235,73.61V78.77M235.5,72.52V78.42M236,73.83V78.96M236.5,72.66V77.35M237,72.84V77.6M237.5,70.92V77.47M238,70.4V76.3M238.5,69.62V75.96M239,71.07V77.1M239.5,68.15V74.62M240,68.11V73.81M240.5,68.28V74.45M241,67.79V74.22M241.5,68.43V74.45M242,67.89V72.45M242.5,66.01V71.45M243,65.21V72.22M243.5,64.02V70.87M244,64.63V70.86M244.5,63.52V69.95M245,63.42V70.09M245.5,62.43V68.75M246,64.12V68.65M246.5,62.72V68.52M247,60.91V68.38M247.5,62.54V68.42M248,60.69V65.78M248.5,60.39V66.66M249,59.81V64.99M249.5,57.72V64.52M250,59.16V65.98M250.5,59.38V63.78M251,58.09V63.05M251.5,57.5V62.98M252,56.5V62.91M252.5,57.63V62.61M253,56.7V61.84M253.5,55.3V61.21M254,55.97V62.35M254.5,54.76V59.7M255,52.42V60.44M255.5,53.74V60.21M256,53.5V60.39M256.5,52.36V58.66M257,52.13V56.36M257.5,52.28V58.19M258,51.3V58.37M258.5,51.59V57.16M259,50.17V56.67M259.5,50.44V56.74M260,48.65V55.48M260.5,49.44V55.31M261,47.71V55.22M261.5,48.51V53.98M262,46.96V53.05M262.5,45.29V51.47M263,46.03V52.77M263.5,46.67V52.42" stroke="#ff7070" stroke-width="0.7" stroke-opacity="0.5" fill="none"/>
<path d="M38.3,273.9 L40.1,275 L42.3,275.3 L43.5,275.37 L44,275.58 L44.5,273.79 L45,273.26 L45.5,272.54 L46,272.61 L46.5,271.85 L47,270.67 L47.5,270.51 L48,270.74 L48.5,269.28 L49,269.37 L49.5,269.19 L50,268.54 L50.5,266.87 L51,267.41 L51.5,266.11 L52,265.18 L52.5,265.69 L53,264.28 L53.5,264.38 L54,264.51 L54.5,263.66 L55,262.82 L55.5,262.76 L56,261.83 L56.5,261.62 L57,261.23 L57.5,259.74 L58,260.39 L58.5,259.04 L59,258.59 L59.5,258.1 L60,257.35 L60.5,256.73 L61,256.63 L61.5,255.57 L62,255.51 L62.5,255.08 L63,253.95 L63.5,253.51 L64,253.35 L64.5,252.55 L65,252.3 L65.5,251.44 L66,250.77 L66.5,250.26 L67,249.95 L67.5,249.79 L68,247.95 L68.5,247.94 L69,247.43 L69.5,246.69 L70,246.29 L70.5,246.47 L71,245.85 L71.5,244.57 L72,243.63 L72.5,243.91 L73,243.39 L73.5,242.08 L74,242.15 L74.5,241.69 L75,241.24 L75.5,240.16 L76,240.06 L76.5,239.2 L77,239.1 L77.5,238.27 L78,237.88 L78.5,237.04 L79,236.37 L79.5,236.02 L80,235.75 L80.5,234.63 L81,234.4 L81.5,234.77 L82,232.83 L82.5,231.97 L83,231.57 L83.5,231.31 L84,230.88 L84.5,229.32 L85,228.87 L85.5,229.54 L86,228.01 L86.5,228.38 L87,228.06 L87.5,225.58 L88,226.63 L88.5,225.84 L89,225.11 L89.5,224.87 L90,224.12 L90.5,223.82 L91,223.84 L91.5,222.59 L92,221.35 L92.5,221.96 L93,221.27 L93.5,220.86 L94,219.82 L94.5,219.49 L95,219.41 L95.5,217.94 L96,217.13 L96.5,217.49 L97,216.13 L97.5,216.24 L98,214.93 L98.5,214.39 L99,214.18 L99.5,213.63 L100,212.58 L100.5,213.09 L101,211.62 L101.5,211.56 L102,210.28 L102.5,209.86 L103,209.32 L103.5,209.08 L104,208.52 L104.5,207.99 L105,207.34 L105.5,207.19 L106,206.62 L106.5,205.47 L107,205.17 L107.5,204.75 L108,204.31 L108.5,203.66 L109,202.73 L109.5,202.18 L110,201.8 L110.5,201.43 L111,200.18 L111.5,199.66 L112,199.37 L112.5,199.03 L113,198.14 L113.5,197.69 L114,196.97 L114.5,197 L115,195.34 L115.5,195.66 L116,194.82 L116.5,194.57 L117,194.09 L117.5,192.13 L118,193.4 L118.5,192.68 L119,192.5 L119.5,191.6 L120,191.11 L120.5,190.4 L121,190.31 L121.5,188.47 L122,188.47 L122.5,187.56 L123,187.81 L123.5,186.99 L124,187.05 L124.5,185.85 L125,185.16 L125.5,184.62 L126,183.82 L126.5,182.7 L127,183.05 L127.5,182.33 L128,181.78 L128.5,180.93 L129,180.93 L129.5,179.89 L130,179.93 L130.5,179.16 L131,178.58 L131.5,177.49 L132,177.8 L132.5,177.5 L133,176.51 L133.5,175.78 L134,175.77 L134.5,175.31 L135,174.23 L135.5,175.1 L136,173.9 L136.5,173.49 L137,172.47 L137.5,171.93 L138,170.78 L138.5,170.57 L139,170.18 L139.5,169.93 L140,168.87 L140.5,168.19 L141,168.55 L141.5,167.55 L142,167.4 L142.5,166.5 L143,165.65 L143.5,165.39 L144,163.78 L144.5,164.78 L145,164.06 L145.5,163.81 L146,162.67 L146.5,163.12 L147,162.26 L147.5,160.42 L148,159.89 L148.5,160.27 L149,159.01 L149.5,159.04 L150,158.51 L150.5,157.93 L151,158.22 L151.5,157.29 L152,156.8 L152.5,156.1 L153,156.8 L153.5,155.55 L154,154.14 L154.5,154.18 L155,153.09 L155.5,152.83 L156,152.35 L156.5,151.26 L157,150.54 L157.5,150.31 L158,150.59 L158.5,148.59 L159,149.59 L159.5,147.87 L160,147.95 L160.5,147.56 L161,147.62 L161.5,146.78 L162,145.78 L162.5,145.5 L163,145.37 L163.5,145.24 L164,144.37 L164.5,143.7 L165,143.13 L165.5,143.44 L166,141.87 L166.5,141.53 L167,141.39 L167.5,141.3 L168,139.46 L168.5,140.17 L169,139.75 L169.5,138.85 L170,137.39 L170.5,137.42 L171,137.18 L171.5,136.87 L172,135.69 L172.5,135.64 L173,135.58 L173.5,134.52 L174,134.13 L174.5,133.57 L175,132.64 L175.5,132.63 L176,132.2 L176.5,132.14 L177,130.96 L177.5,130.24 L178,130.11 L178.5,129.45 L179,129.6 L179.5,128.61 L180,127.68 L180.5,128.16 L181,127.37 L181.5,126.99 L182,126.61 L182.5,126.42 L183,125.04 L183.5,125.25 L184,124.52 L184.5,124.03 L185,123.47 L185.5,122.83 L186,122.65 L186.5,122.08 L187,121.89 L187.5,121.77 L188,120.18 L188.5,121.02 L189,120.15 L189.5,118.67 L190,118.65 L190.5,118.22 L191,118.27 L191.5,116.83 L192,117.56 L192.5,115.83 L193,115.67 L193.5,115.08 L194,114.33 L194.5,113.9 L195,113.67 L195.5,113.33 L196,112.7 L196.5,112.09 L197,110.87 L197.5,111.43 L198,111.92 L198.5,111.35 L199,110.65 L199.5,109.48 L200,109.42 L200.5,108.48 L201,108.03 L201.5,107.84 L202,107.76 L202.5,106.61 L203,106.06 L203.5,105.87 L204,104.75 L204.5,105.33 L205,104.93 L205.5,104.53 L206,103.88 L206.5,102.8 L207,102.49 L207.5,101.71 L208,101.8 L208.5,102.16 L209,100.28 L209.5,100.54 L210,100.4 L210.5,98.85 L211,99.8 L211.5,98.08 L212,97.86 L212.5,97.63 L213,97.39 L213.5,96.86 L214,95.93 L214.5,95.28 L215,94.06 L215.5,94.41 L216,94.74 L216.5,93.35 L217,93.51 L217.5,93.09 L218,92.38 L218.5,91.59 L219,91.12 L219.5,90.88 L220,89.65 L220.5,90.59 L221,89.03 L221.5,88.75 L222,88.29 L222.5,87.97 L223,87.8 L223.5,87.71 L224,86.8 L224.5,86.94 L225,85.6 L225.5,85.61 L226,85.18 L226.5,84.43 L227,84.19 L227.5,82.97 L228,83.55 L228.5,82.85 L229,82.09 L229.5,81.39 L230,81.46 L230.5,80.12 L231,80.47 L231.5,80.09 L232,80.33 L232.5,78.69 L233,78.87 L233.5,78.07 L234,76.6 L234.5,76.27 L235,76.14 L235.5,76.43 L236,76.09 L236.5,74.85 L237,74.68 L237.5,74.12 L238,72.42 L238.5,73.56 L239,73.23 L239.5,71.11 L240,71.22 L240.5,71.13 L241,70.65 L241.5,70.69 L242,70.26 L242.5,69.01 L243,69.09 L243.5,68.01 L244,67.68 L244.5,67.45 L245,67.11 L245.5,66.1 L246,66.76 L246.5,65.51 L247,64.94 L247.5,64.8 L248,63.69 L248.5,63.63 L249,61.9 L249.5,61.75 L250,61.87 L250.5,61.33 L251,60.9 L251.5,60.28 L252,60.34 L252.5,60.14 L253,58.87 L253.5,59.08 L254,58.29 L254.5,57.08 L255,56.53 L255.5,56.66 L256,56.63 L256.5,55.23 L257,54.21 L257.5,55.09 L258,54.68 L258.5,53.56 L259,53.65 L259.5,53.57 L260,51.77 L260.5,51.48 L261,50.98 L261.5,51.13 L262,49.76 L262.5,49.49 L263,49.7 L263.5,49.07" fill="none" stroke="#ff9a9a" stroke-width="2.6" stroke-opacity="0.5" stroke-linejoin="round"/>
<path d="M38.3,273.9 L40.1,275 L42.3,275.3 L43.5,275.37 L44,275.58 L44.5,273.79 L45,273.26 L45.5,272.54 L46,272.61 L46.5,271.85 L47,270.67 L47.5,270.51 L48,270.74 L48.5,269.28 L49,269.37 L49.5,269.19 L50,268.54 L50.5,266.87 L51,267.41 L51.5,266.11 L52,265.18 L52.5,265.69 L53,264.28 L53.5,264.38 L54,264.51 L54.5,263.66 L55,262.82 L55.5,262.76 L56,261.83 L56.5,261.62 L57,261.23 L57.5,259.74 L58,260.39 L58.5,259.04 L59,258.59 L59.5,258.1 L60,257.35 L60.5,256.73 L61,256.63 L61.5,255.57 L62,255.51 L62.5,255.08 L63,253.95 L63.5,253.51 L64,253.35 L64.5,252.55 L65,252.3 L65.5,251.44 L66,250.77 L66.5,250.26 L67,249.95 L67.5,249.79 L68,247.95 L68.5,247.94 L69,247.43 L69.5,246.69 L70,246.29 L70.5,246.47 L71,245.85 L71.5,244.57 L72,243.63 L72.5,243.91 L73,243.39 L73.5,242.08 L74,242.15 L74.5,241.69 L75,241.24 L75.5,240.16 L76,240.06 L76.5,239.2 L77,239.1 L77.5,238.27 L78,237.88 L78.5,237.04 L79,236.37 L79.5,236.02 L80,235.75 L80.5,234.63 L81,234.4 L81.5,234.77 L82,232.83 L82.5,231.97 L83,231.57 L83.5,231.31 L84,230.88 L84.5,229.32 L85,228.87 L85.5,229.54 L86,228.01 L86.5,228.38 L87,228.06 L87.5,225.58 L88,226.63 L88.5,225.84 L89,225.11 L89.5,224.87 L90,224.12 L90.5,223.82 L91,223.84 L91.5,222.59 L92,221.35 L92.5,221.96 L93,221.27 L93.5,220.86 L94,219.82 L94.5,219.49 L95,219.41 L95.5,217.94 L96,217.13 L96.5,217.49 L97,216.13 L97.5,216.24 L98,214.93 L98.5,214.39 L99,214.18 L99.5,213.63 L100,212.58 L100.5,213.09 L101,211.62 L101.5,211.56 L102,210.28 L102.5,209.86 L103,209.32 L103.5,209.08 L104,208.52 L104.5,207.99 L105,207.34 L105.5,207.19 L106,206.62 L106.5,205.47 L107,205.17 L107.5,204.75 L108,204.31 L108.5,203.66 L109,202.73 L109.5,202.18 L110,201.8 L110.5,201.43 L111,200.18 L111.5,199.66 L112,199.37 L112.5,199.03 L113,198.14 L113.5,197.69 L114,196.97 L114.5,197 L115,195.34 L115.5,195.66 L116,194.82 L116.5,194.57 L117,194.09 L117.5,192.13 L118,193.4 L118.5,192.68 L119,192.5 L119.5,191.6 L120,191.11 L120.5,190.4 L121,190.31 L121.5,188.47 L122,188.47 L122.5,187.56 L123,187.81 L123.5,186.99 L124,187.05 L124.5,185.85 L125,185.16 L125.5,184.62 L126,183.82 L126.5,182.7 L127,183.05 L127.5,182.33 L128,181.78 L128.5,180.93 L129,180.93 L129.5,179.89 L130,179.93 L130.5,179.16 L131,178.58 L131.5,177.49 L132,177.8 L132.5,177.5 L133,176.51 L133.5,175.78 L134,175.77 L134.5,175.31 L135,174.23 L135.5,175.1 L136,173.9 L136.5,173.49 L137,172.47 L137.5,171.93 L138,170.78 L138.5,170.57 L139,170.18 L139.5,169.93 L140,168.87 L140.5,168.19 L141,168.55 L141.5,167.55 L142,167.4 L142.5,166.5 L143,165.65 L143.5,165.39 L144,163.78 L144.5,164.78 L145,164.06 L145.5,163.81 L146,162.67 L146.5,163.12 L147,162.26 L147.5,160.42 L148,159.89 L148.5,160.27 L149,159.01 L149.5,159.04 L150,158.51 L150.5,157.93 L151,158.22 L151.5,157.29 L152,156.8 L152.5,156.1 L153,156.8 L153.5,155.55 L154,154.14 L154.5,154.18 L155,153.09 L155.5,152.83 L156,152.35 L156.5,151.26 L157,150.54 L157.5,150.31 L158,150.59 L158.5,148.59 L159,149.59 L159.5,147.87 L160,147.95 L160.5,147.56 L161,147.62 L161.5,146.78 L162,145.78 L162.5,145.5 L163,145.37 L163.5,145.24 L164,144.37 L164.5,143.7 L165,143.13 L165.5,143.44 L166,141.87 L166.5,141.53 L167,141.39 L167.5,141.3 L168,139.46 L168.5,140.17 L169,139.75 L169.5,138.85 L170,137.39 L170.5,137.42 L171,137.18 L171.5,136.87 L172,135.69 L172.5,135.64 L173,135.58 L173.5,134.52 L174,134.13 L174.5,133.57 L175,132.64 L175.5,132.63 L176,132.2 L176.5,132.14 L177,130.96 L177.5,130.24 L178,130.11 L178.5,129.45 L179,129.6 L179.5,128.61 L180,127.68 L180.5,128.16 L181,127.37 L181.5,126.99 L182,126.61 L182.5,126.42 L183,125.04 L183.5,125.25 L184,124.52 L184.5,124.03 L185,123.47 L185.5,122.83 L186,122.65 L186.5,122.08 L187,121.89 L187.5,121.77 L188,120.18 L188.5,121.02 L189,120.15 L189.5,118.67 L190,118.65 L190.5,118.22 L191,118.27 L191.5,116.83 L192,117.56 L192.5,115.83 L193,115.67 L193.5,115.08 L194,114.33 L194.5,113.9 L195,113.67 L195.5,113.33 L196,112.7 L196.5,112.09 L197,110.87 L197.5,111.43 L198,111.92 L198.5,111.35 L199,110.65 L199.5,109.48 L200,109.42 L200.5,108.48 L201,108.03 L201.5,107.84 L202,107.76 L202.5,106.61 L203,106.06 L203.5,105.87 L204,104.75 L204.5,105.33 L205,104.93 L205.5,104.53 L206,103.88 L206.5,102.8 L207,102.49 L207.5,101.71 L208,101.8 L208.5,102.16 L209,100.28 L209.5,100.54 L210,100.4 L210.5,98.85 L211,99.8 L211.5,98.08 L212,97.86 L212.5,97.63 L213,97.39 L213.5,96.86 L214,95.93 L214.5,95.28 L215,94.06 L215.5,94.41 L216,94.74 L216.5,93.35 L217,93.51 L217.5,93.09 L218,92.38 L218.5,91.59 L219,91.12 L219.5,90.88 L220,89.65 L220.5,90.59 L221,89.03 L221.5,88.75 L222,88.29 L222.5,87.97 L223,87.8 L223.5,87.71 L224,86.8 L224.5,86.94 L225,85.6 L225.5,85.61 L226,85.18 L226.5,84.43 L227,84.19 L227.5,82.97 L228,83.55 L228.5,82.85 L229,82.09 L229.5,81.39 L230,81.46 L230.5,80.12 L231,80.47 L231.5,80.09 L232,80.33 L232.5,78.69 L233,78.87 L233.5,78.07 L234,76.6 L234.5,76.27 L235,76.14 L235.5,76.43 L236,76.09 L236.5,74.85 L237,74.68 L237.5,74.12 L238,72.42 L238.5,73.56 L239,73.23 L239.5,71.11 L240,71.22 L240.5,71.13 L241,70.65 L241.5,70.69 L242,70.26 L242.5,69.01 L243,69.09 L243.5,68.01 L244,67.68 L244.5,67.45 L245,67.11 L245.5,66.1 L246,66.76 L246.5,65.51 L247,64.94 L247.5,64.8 L248,63.69 L248.5,63.63 L249,61.9 L249.5,61.75 L250,61.87 L250.5,61.33 L251,60.9 L251.5,60.28 L252,60.34 L252.5,60.14 L253,58.87 L253.5,59.08 L254,58.29 L254.5,57.08 L255,56.53 L255.5,56.66 L256,56.63 L256.5,55.23 L257,54.21 L257.5,55.09 L258,54.68 L258.5,53.56 L259,53.65 L259.5,53.57 L260,51.77 L260.5,51.48 L261,50.98 L261.5,51.13 L262,49.76 L262.5,49.49 L263,49.7 L263.5,49.07" fill="none" stroke="#fa0c0c" stroke-width="1.6" stroke-linejoin="round"/>
<rect x="38.0" y="5.2" width="229.4" height="286.8" fill="none" stroke="#5f5f5f" stroke-width="1.2"/>
<line x1="38" y1="276.2" x2="41.6" y2="276.2" stroke="#5f5f5f" stroke-width="1.2"/>
<line x1="38" y1="244.25" x2="40" y2="244.25" stroke="#5f5f5f" stroke-width="1.2"/>
<line x1="38" y1="212.3" x2="41.6" y2="212.3" stroke="#5f5f5f" stroke-width="1.2"/>
<line x1="38" y1="180.35" x2="40" y2="180.35" stroke="#5f5f5f" stroke-width="1.2"/>
<line x1="38" y1="148.4" x2="41.6" y2="148.4" stroke="#5f5f5f" stroke-width="1.2"/>
<line x1="38" y1="116.45" x2="40" y2="116.45" stroke="#5f5f5f" stroke-width="1.2"/>
<line x1="38" y1="84.5" x2="41.6" y2="84.5" stroke="#5f5f5f" stroke-width="1.2"/>
<line x1="38" y1="52.55" x2="40" y2="52.55" stroke="#5f5f5f" stroke-width="1.2"/>
<line x1="38" y1="20.6" x2="41.6" y2="20.6" stroke="#5f5f5f" stroke-width="1.2"/>
<line x1="267.4" y1="287.1" x2="265.4" y2="287.1" stroke="#5f5f5f" stroke-width="1.2"/>
<line x1="267.4" y1="276.2" x2="263.8" y2="276.2" stroke="#5f5f5f" stroke-width="1.2"/>
<line x1="267.4" y1="265.3" x2="265.4" y2="265.3" stroke="#5f5f5f" stroke-width="1.2"/>
<line x1="267.4" y1="254.4" x2="265.4" y2="254.4" stroke="#5f5f5f" stroke-width="1.2"/>
<line x1="267.4" y1="243.5" x2="265.4" y2="243.5" stroke="#5f5f5f" stroke-width="1.2"/>
<line x1="267.4" y1="232.6" x2="265.4" y2="232.6" stroke="#5f5f5f" stroke-width="1.2"/>
<line x1="267.4" y1="221.7" x2="263.8" y2="221.7" stroke="#5f5f5f" stroke-width="1.2"/>
<line x1="267.4" y1="210.8" x2="265.4" y2="210.8" stroke="#5f5f5f" stroke-width="1.2"/>
<line x1="267.4" y1="199.9" x2="265.4" y2="199.9" stroke="#5f5f5f" stroke-width="1.2"/>
<line x1="267.4" y1="189" x2="265.4" y2="189" stroke="#5f5f5f" stroke-width="1.2"/>
<line x1="267.4" y1="178.1" x2="265.4" y2="178.1" stroke="#5f5f5f" stroke-width="1.2"/>
<line x1="267.4" y1="167.2" x2="263.8" y2="167.2" stroke="#5f5f5f" stroke-width="1.2"/>
<line x1="267.4" y1="156.3" x2="265.4" y2="156.3" stroke="#5f5f5f" stroke-width="1.2"/>
<line x1="267.4" y1="145.4" x2="265.4" y2="145.4" stroke="#5f5f5f" stroke-width="1.2"/>
<line x1="267.4" y1="134.5" x2="265.4" y2="134.5" stroke="#5f5f5f" stroke-width="1.2"/>
<line x1="267.4" y1="123.6" x2="265.4" y2="123.6" stroke="#5f5f5f" stroke-width="1.2"/>
<line x1="267.4" y1="112.7" x2="263.8" y2="112.7" stroke="#5f5f5f" stroke-width="1.2"/>
<line x1="267.4" y1="101.8" x2="265.4" y2="101.8" stroke="#5f5f5f" stroke-width="1.2"/>
<line x1="267.4" y1="90.9" x2="265.4" y2="90.9" stroke="#5f5f5f" stroke-width="1.2"/>
<line x1="267.4" y1="80" x2="265.4" y2="80" stroke="#5f5f5f" stroke-width="1.2"/>
<line x1="267.4" y1="69.1" x2="265.4" y2="69.1" stroke="#5f5f5f" stroke-width="1.2"/>
<line x1="267.4" y1="58.2" x2="263.8" y2="58.2" stroke="#5f5f5f" stroke-width="1.2"/>
<line x1="38.1" y1="292" x2="38.1" y2="288.4" stroke="#5f5f5f" stroke-width="1.2"/>
<line x1="38.1" y1="5.2" x2="38.1" y2="8.8" stroke="#5f5f5f" stroke-width="1.2"/>
<line x1="69.45" y1="292" x2="69.45" y2="290" stroke="#5f5f5f" stroke-width="1.2"/>
<line x1="69.45" y1="5.2" x2="69.45" y2="7.2" stroke="#5f5f5f" stroke-width="1.2"/>
<line x1="100.8" y1="292" x2="100.8" y2="288.4" stroke="#5f5f5f" stroke-width="1.2"/>
<line x1="100.8" y1="5.2" x2="100.8" y2="8.8" stroke="#5f5f5f" stroke-width="1.2"/>
<line x1="132.15" y1="292" x2="132.15" y2="290" stroke="#5f5f5f" stroke-width="1.2"/>
<line x1="132.15" y1="5.2" x2="132.15" y2="7.2" stroke="#5f5f5f" stroke-width="1.2"/>
<line x1="163.5" y1="292" x2="163.5" y2="288.4" stroke="#5f5f5f" stroke-width="1.2"/>
<line x1="163.5" y1="5.2" x2="163.5" y2="8.8" stroke="#5f5f5f" stroke-width="1.2"/>
<line x1="194.85" y1="292" x2="194.85" y2="290" stroke="#5f5f5f" stroke-width="1.2"/>
<line x1="194.85" y1="5.2" x2="194.85" y2="7.2" stroke="#5f5f5f" stroke-width="1.2"/>
<line x1="226.2" y1="292" x2="226.2" y2="288.4" stroke="#5f5f5f" stroke-width="1.2"/>
<line x1="226.2" y1="5.2" x2="226.2" y2="8.8" stroke="#5f5f5f" stroke-width="1.2"/>
<line x1="257.55" y1="292" x2="257.55" y2="290" stroke="#5f5f5f" stroke-width="1.2"/>
<line x1="257.55" y1="5.2" x2="257.55" y2="7.2" stroke="#5f5f5f" stroke-width="1.2"/>
<text x="34.1" y="279.1" font-size="10.4" text-anchor="end" font-weight="normal" font-style="normal" fill="#000" >0.0</text>
<text x="34.1" y="215.2" font-size="10.4" text-anchor="end" font-weight="normal" font-style="normal" fill="#000" >0.1</text>
<text x="34.1" y="151.3" font-size="10.4" text-anchor="end" font-weight="normal" font-style="normal" fill="#000" >0.2</text>
<text x="34.1" y="87.4" font-size="10.4" text-anchor="end" font-weight="normal" font-style="normal" fill="#000" >0.3</text>
<text x="34.1" y="23.5" font-size="10.4" text-anchor="end" font-weight="normal" font-style="normal" fill="#000" >0.4</text>
<text x="271.1" y="279.1" font-size="10.4" text-anchor="start" font-weight="normal" font-style="normal" fill="#000" >0.0</text>
<text x="271.1" y="224.6" font-size="10.4" text-anchor="start" font-weight="normal" font-style="normal" fill="#000" >0.5</text>
<text x="271.1" y="170.1" font-size="10.4" text-anchor="start" font-weight="normal" font-style="normal" fill="#000" >1.0</text>
<text x="271.1" y="115.6" font-size="10.4" text-anchor="start" font-weight="normal" font-style="normal" fill="#000" >1.5</text>
<text x="271.1" y="61.1" font-size="10.4" text-anchor="start" font-weight="normal" font-style="normal" fill="#000" >2.0</text>
<text x="38.1" y="304.6" font-size="10.4" text-anchor="middle" font-weight="normal" font-style="normal" fill="#000" >0</text>
<text x="100.8" y="304.6" font-size="10.4" text-anchor="middle" font-weight="normal" font-style="normal" fill="#000" >100</text>
<text x="163.5" y="304.6" font-size="10.4" text-anchor="middle" font-weight="normal" font-style="normal" fill="#000" >200</text>
<text x="226.2" y="304.6" font-size="10.4" text-anchor="middle" font-weight="normal" font-style="normal" fill="#000" >300</text>
<text x="153.1" y="322.6" font-size="10.2" text-anchor="middle" font-weight="bold" font-style="normal" fill="#000" >Time (sec)</text>
<text transform="translate(9.4,145.8) rotate(-90)" font-size="10.2" font-weight="bold" text-anchor="middle">Absorbance (O.D.)</text>
<text transform="translate(303.8,146.5) rotate(-90)" font-size="10.4" font-weight="bold" text-anchor="middle">Concentration (×10<tspan font-size="6.6" dy="-4.6">15</tspan><tspan dy="4.6"> molecules cm</tspan><tspan font-size="6.6" dy="-5">-3</tspan><tspan dy="5" dx="0.8">)</tspan></text>
<text x="48.4" y="21.5" font-size="12.4" text-anchor="start" font-weight="bold" font-style="normal" fill="#000" style="stroke-width:0.1px">a</text>
<text x="59.8" y="46.8" font-size="11.4" text-anchor="start" font-weight="normal" font-style="italic" fill="#000" >t</text>
<text x="64" y="49.4" font-size="8.2" text-anchor="start" font-weight="normal" font-style="normal" fill="#000" >pulse-on</text>
<text x="96.4" y="46.8" font-size="11.5" text-anchor="start" font-weight="normal" font-style="normal" fill="#000" >=</text>
<text x="107.1" y="46.8" font-size="11" text-anchor="start" font-weight="normal" font-style="normal" fill="#000" textLength="20.6" lengthAdjust="spacingAndGlyphs">200</text>
<text x="131" y="46.8" font-size="11" text-anchor="start" font-weight="normal" font-style="normal" fill="#000" textLength="12.6" lengthAdjust="spacingAndGlyphs">ns</text>
<circle cx="61.7" cy="65" r="2.5" fill="#f21a22"/>
<text x="70.6" y="68.9" font-size="10.8" text-anchor="start" font-weight="normal" font-style="normal" fill="#000" >1 kHz</text>
<circle cx="61.7" cy="79.85" r="2.5" fill="#f98a14"/>
<text x="70.6" y="83.75" font-size="10.8" text-anchor="start" font-weight="normal" font-style="normal" fill="#000" >3</text>
<circle cx="61.7" cy="94.7" r="2.5" fill="#2fbf35"/>
<text x="70.6" y="98.6" font-size="10.8" text-anchor="start" font-weight="normal" font-style="normal" fill="#000" >4</text>
<circle cx="61.7" cy="109.55" r="2.5" fill="#2347ea"/>
<text x="70.6" y="113.45" font-size="10.8" text-anchor="start" font-weight="normal" font-style="normal" fill="#000" >5</text>
<circle cx="61.7" cy="124.4" r="2.5" fill="#2c3a94"/>
<text x="70.6" y="128.3" font-size="10.8" text-anchor="start" font-weight="normal" font-style="normal" fill="#000" >10</text>
<path d="M353.03,124.57 L353.5,125.15 L353.98,124.51 L354.45,125.21 L354.92,125.03 L355.39,126.22 L355.86,126.87 L356.34,128.09 L356.81,128.03 L357.28,126.39 L357.75,126.9 L358.22,129.04 L358.7,128.58 L359.17,128.54 L359.64,128.92 L360.11,128.72 L360.58,128 L361.06,126.92 L361.53,126.85 L362,126.65 L362.47,125.76 L362.94,125.48 L363.42,124.76 L363.89,124.04 L364.36,126.21 L364.83,128.94 L365.3,128.67 L365.78,128.78 L366.25,127.97 L366.72,127.76 L367.19,128.2 L367.66,128.81 L368.14,127.55 L368.61,126.78 L369.08,125.81 L369.55,125.19 L370.02,124.91 L370.5,124.75 L370.97,124.45 L371.44,126.1 L371.91,127.55 L372.38,126.87 L372.86,126.76 L373.33,126.89 L373.8,126.22 L374.27,125.53 L374.74,124.95 L375.22,124.97 L375.69,125.01 L376.16,124.1 L376.63,123.89 L377.1,122.67 L377.58,123.09 L378.05,121.74 L378.52,121.58 L378.99,120.72 L379.46,120.52 L379.94,119.34 L380.41,118.84 L380.88,118.17 L381.35,117.77 L381.82,116.74 L382.3,116.48 L382.77,114.51 L383.24,113.95 L383.71,112.14 L384.18,112.56 L384.66,110.01 L385.13,109.47 L385.6,108.82 L386.07,107.16 L386.54,106.91 L387.02,105.75 L387.49,103.04 L387.96,103.58 L388.43,101.08 L388.9,98.9 L389.38,98.25 L389.85,96.05 L390.32,95.58 L390.79,94.4 L391.26,91.68 L391.74,90.33 L392.21,89.43 L392.68,86.89 L393.15,86.97 L393.62,83.94 L394.1,83.28 L394.57,81.26 L395.04,79.72 L395.51,78.05 L395.98,76.2 L396.46,74 L396.93,72.39 L397.4,71.67 L397.87,70.1 L398.34,69.23 L398.82,65.93 L399.29,64.89 L399.76,64.42 L400.23,62.41 L400.7,60.1 L401.18,60.15 L401.65,58.14 L402.12,57 L402.59,55.91 L403.06,54.43 L403.54,54.61 L404.01,51.5 L404.48,51.37 L404.95,49.95 L405.42,49.99 L405.9,46.61 L406.37,46.9 L406.84,47.76 L407.31,46.14 L407.78,45.28 L408.26,45.09 L408.73,44.79 L409.2,44.28 L409.67,43.55 L410.14,42.51 L410.62,42.15 L411.09,41.21 L411.56,41.97 L412.03,43.21 L412.5,41.74 L412.98,40.88 L413.45,42.38 L413.92,41.55 L414.39,41.59 L414.86,42.7 L415.34,42.45 L415.81,43.34 L416.28,42.14 L416.75,43.16 L417.22,44.12 L417.7,44.34 L418.17,45.05 L418.64,46.82 L419.11,47.95 L419.58,48.92 L420.06,49.75 L420.53,49.37 L421,50.24 L421.47,51.07 L421.94,54.11 L422.42,54.43 L422.89,54.86 L423.36,55.77 L423.83,58.49 L424.3,59.87 L424.78,61.27 L425.25,62.14 L425.72,63.34 L426.19,64.68 L426.66,67.12 L427.14,67.36 L427.61,70.5 L428.08,70.95 L428.55,72.01 L429.02,73.71 L429.5,75.7 L429.97,77.79 L430.44,79.13 L430.91,81.1 L431.38,82.6 L431.86,84.33 L432.33,84.46 L432.8,87.47 L433.27,88.64 L433.74,88.76 L434.22,90.83 L434.69,91.37 L435.16,92.89 L435.63,95.02 L436.1,95.95 L436.58,98.68 L437.05,99.14 L437.52,99.51 L437.99,101.53 L438.46,102.84 L438.94,102.68 L439.41,104.9 L439.88,107.24 L440.35,106.95 L440.82,109.9 L441.3,109.38 L441.77,110.43 L442.24,111.8 L442.71,112.87 L443.18,113.59 L443.66,113 L444.13,115.57 L444.6,116.23 L445.07,116.72 L445.54,117.54 L446.02,117.35 L446.49,118.61 L446.96,119.45 L447.43,119.71 L447.9,120.47 L448.38,121.22 L448.85,121.8 L449.32,122.25 L449.79,122.73 L450.26,123.29 L450.74,123.59 L451.21,123.52 L451.68,124.82 L452.15,124.6 L452.62,124.83 L453.1,125.45 L453.57,125.74 L454.04,125.64 L454.51,126.44 L454.98,126.36 L455.46,126.62 L455.93,126.97 L456.4,127.17 L456.87,127.18 L457.34,127.16 L457.82,128.15 L458.29,127.64 L458.76,128.34 L459.23,128.55 L459.7,128.35 L460.18,128.47 L460.65,129.19 L461.12,128.24 L461.59,128.99 L462.06,128.73 L462.54,128.91 L463.01,128.92 L463.48,129.15 L463.95,129.15 L464.42,129.29 L464.9,129.47 L465.37,129.08 L465.84,129.42 L466.31,129.41 L466.78,129.73 L467.26,129.75 L467.73,129.57 L468.2,129.75 L468.67,129.26 L469.14,129.75 L469.62,129.75 L470.09,129.75 L470.56,129.74 L471.03,129.65 L471.5,129.61 L471.98,129.75 L472.45,129.75 L472.92,129.75 L473.39,129.75 L473.86,129.75 L474.34,129.53 L474.81,129.75 L475.28,129.75 L475.75,129.64 L476.22,129.75 L476.7,129.75 L477.17,129.75 L477.64,129.75 L478.11,129.75 L478.58,129.75 L479.06,129.74 L479.53,129.75 L480,129.4 L480.47,129.75 L480.94,129.75 L481.42,129.67 L481.89,129.75 L482.36,129.68 L482.83,129.75 L483.3,129.75 L483.78,129.75 L484.25,129.75 L484.72,129.75 L485.19,129.75 L485.66,129.75 L486.14,129.75 L486.61,129.75 L487.08,129.75 L487.55,129.75 L488.02,129.75 L488.5,129.75 L488.97,129.75 L489.44,129.75 L489.91,129.75 L490.38,129.75 L490.86,129.75 L491.33,129.68 L491.8,129.75 L492.27,129.39 L492.74,129.54 L493.22,129.75 L493.69,129.75 L494.16,129.75 L494.63,129.75 L495.1,129.75 L495.58,129.75 L496.05,129.75 L496.52,129.27 L496.99,129.75 L497.46,129.75 L497.94,129.7 L498.41,129.75 L498.88,129.75 L499.35,129.75 L499.82,129.75 L500.3,129.75 L500.77,129.75 L501.24,129.75 L501.71,129.75 L502.18,129.46 L502.66,129.75 L503.13,129.75 L503.6,129.75 L504.07,129.64 L504.54,129.75 L505.02,129.75 L505.49,129.75 L505.96,129.75 L506.43,129.75 L506.9,129.75 L507.38,129.75 L507.85,129.74 L508.32,129.75 L508.79,129.75 L509.26,129.75 L509.74,129.75 L510.21,129.75 L510.68,129.75 L511.15,129.75 L511.62,129.75 L512.1,129.75 L512.57,129.75 L513.04,129.75 L513.51,129.75 L513.98,129.75 L514.46,129.75 L514.93,129.75 L515.4,129.75 L515.87,129.38 L516.34,129.75 L516.82,129.75 L517.29,129.75 L517.76,129.56 L518.23,129.47 L518.7,129.75 L519.18,129.75 L519.65,129.75 L520.12,129.75 L520.59,129.75 L521.06,129.75 L521.54,129.75 L522.01,129.75 L522.48,129.75 L522.95,129.75 L523.42,129.75 L523.9,129.75 L524.37,129.75 L524.84,129.75 L525.31,129.57 L525.78,129.75 L526.26,129.75 L526.73,129.75 L527.2,129.75 L527.67,129.75 L528.14,129.75 L528.62,129.75 L529.09,129.6 L529.56,129.75 L530.03,129.75 L530.5,129.75 L530.98,129.73 L531.45,129.75" fill="none" stroke="#f50808" stroke-width="1.2" stroke-linejoin="round"/>
<path d="M353.03,125.54 L353.5,125.97 L353.98,126.83 L354.45,128.63 L354.92,128.5 L355.39,126.97 L355.86,125.03 L356.34,123.33 L356.81,124.23 L357.28,125.41 L357.75,126.17 L358.22,127.22 L358.7,127.62 L359.17,127.75 L359.64,128.5 L360.11,128.89 L360.58,128.39 L361.06,128.73 L361.53,128.03 L362,127.68 L362.47,126.21 L362.94,125.91 L363.42,125.12 L363.89,124.62 L364.36,124.31 L364.83,123.45 L365.3,123.33 L365.78,122.5 L366.25,123.16 L366.72,122.58 L367.19,122.95 L367.66,124.43 L368.14,126.21 L368.61,127.55 L369.08,128.46 L369.55,124.79 L370.02,123.73 L370.5,124.16 L370.97,125.8 L371.44,126.79 L371.91,127.37 L372.38,127.55 L372.86,127.31 L373.33,125.97 L373.8,123.75 L374.27,124.77 L374.74,126.06 L375.22,126.13 L375.69,125.79 L376.16,125.69 L376.63,125.93 L377.1,125.3 L377.58,124.31 L378.05,124.66 L378.52,124.23 L378.99,122.84 L379.46,123.64 L379.94,122.43 L380.41,121.75 L380.88,120.61 L381.35,120.37 L381.82,120.01 L382.3,120.24 L382.77,119.01 L383.24,118.92 L383.71,117.41 L384.18,117.37 L384.66,115.61 L385.13,114.97 L385.6,114.67 L386.07,113.4 L386.54,112.62 L387.02,111.77 L387.49,110.9 L387.96,109.6 L388.43,108.95 L388.9,108.18 L389.38,106.78 L389.85,106.3 L390.32,104.22 L390.79,103.35 L391.26,103.84 L391.74,101.76 L392.21,100.54 L392.68,99.37 L393.15,97.89 L393.62,96.21 L394.1,94.94 L394.57,95.91 L395.04,92.94 L395.51,93.52 L395.98,90.49 L396.46,89.7 L396.93,89.32 L397.4,87.96 L397.87,86.81 L398.34,84.59 L398.82,84.6 L399.29,83.39 L399.76,81.78 L400.23,79.92 L400.7,80.3 L401.18,78.73 L401.65,78.38 L402.12,76.3 L402.59,76.76 L403.06,74.88 L403.54,74 L404.01,73.67 L404.48,71.91 L404.95,70.7 L405.42,71.17 L405.9,70.3 L406.37,69.76 L406.84,68.55 L407.31,68.25 L407.78,68.22 L408.26,67.87 L408.73,67.91 L409.2,67.24 L409.67,66.74 L410.14,65.42 L410.62,65.71 L411.09,67.44 L411.56,66.27 L412.03,65.06 L412.5,65.06 L412.98,66.88 L413.45,65.82 L413.92,64.79 L414.39,66.35 L414.86,66.32 L415.34,66.2 L415.81,67.18 L416.28,66.16 L416.75,67.08 L417.22,67.48 L417.7,68.5 L418.17,67.91 L418.64,69.36 L419.11,70.24 L419.58,70.49 L420.06,71.91 L420.53,72.16 L421,71.09 L421.47,73.87 L421.94,74.78 L422.42,75.07 L422.89,75.77 L423.36,76.64 L423.83,77.71 L424.3,79.92 L424.78,80.16 L425.25,82.31 L425.72,81.49 L426.19,82.74 L426.66,83.55 L427.14,86.17 L427.61,87.58 L428.08,87.35 L428.55,89.15 L429.02,90.39 L429.5,91.29 L429.97,92.87 L430.44,94.19 L430.91,93.9 L431.38,95.05 L431.86,95.88 L432.33,97.27 L432.8,98.49 L433.27,99.36 L433.74,100.87 L434.22,101.68 L434.69,102.88 L435.16,105.05 L435.63,104.61 L436.1,104.88 L436.58,105.97 L437.05,107.82 L437.52,108.45 L437.99,109.43 L438.46,109.58 L438.94,110.48 L439.41,112.47 L439.88,113.28 L440.35,113.92 L440.82,114.75 L441.3,114.55 L441.77,116.77 L442.24,117.11 L442.71,117.9 L443.18,118.24 L443.66,118.33 L444.13,119.62 L444.6,119.45 L445.07,119.68 L445.54,120.78 L446.02,120.9 L446.49,121.93 L446.96,122.18 L447.43,122.86 L447.9,122.79 L448.38,123.48 L448.85,123.75 L449.32,124.04 L449.79,124.34 L450.26,125.36 L450.74,125.26 L451.21,125.89 L451.68,126.06 L452.15,126.2 L452.62,126.26 L453.1,126.7 L453.57,126.99 L454.04,126.71 L454.51,127.18 L454.98,128.19 L455.46,127.57 L455.93,128 L456.4,127.81 L456.87,127.93 L457.34,127.78 L457.82,128.54 L458.29,128.28 L458.76,128.71 L459.23,128.97 L459.7,129.33 L460.18,128.87 L460.65,128.59 L461.12,129.17 L461.59,128.86 L462.06,129.22 L462.54,129.07 L463.01,129.42 L463.48,129.26 L463.95,129.75 L464.42,129.3 L464.9,129 L465.37,129.27 L465.84,129.75 L466.31,129.75 L466.78,129.63 L467.26,129.75 L467.73,129.75 L468.2,129.47 L468.67,129.75 L469.14,129.75 L469.62,129.75 L470.09,129.63 L470.56,129.74 L471.03,129.37 L471.5,129.75 L471.98,129.69 L472.45,129.75 L472.92,129.75 L473.39,129.75 L473.86,129.75 L474.34,129.63 L474.81,129.75 L475.28,129.75 L475.75,129.41 L476.22,129.75 L476.7,129.75 L477.17,129.54 L477.64,129.73 L478.11,129.75 L478.58,129.75 L479.06,129.75 L479.53,129.75 L480,129.75 L480.47,129.37 L480.94,129.75 L481.42,129.75 L481.89,129.39 L482.36,129.75 L482.83,129.49 L483.3,129.75 L483.78,129.75 L484.25,129.75 L484.72,129.75 L485.19,129.75 L485.66,129.37 L486.14,129.75 L486.61,129.33 L487.08,129.75 L487.55,129.75 L488.02,129.75 L488.5,129.75 L488.97,129.75 L489.44,129.36 L489.91,129.75 L490.38,129.75 L490.86,129.69 L491.33,129.75 L491.8,129.75 L492.27,129.75 L492.74,129.75 L493.22,129.62 L493.69,129.75 L494.16,129.75 L494.63,129.64 L495.1,129.75 L495.58,129.67 L496.05,129.75 L496.52,129.75 L496.99,129.58 L497.46,129.75 L497.94,129.75 L498.41,129.75 L498.88,129.75 L499.35,129.75 L499.82,129.75 L500.3,129.75 L500.77,129.75 L501.24,129.17 L501.71,129.62 L502.18,129.75 L502.66,129.75 L503.13,129.75 L503.6,129.75 L504.07,129.75 L504.54,129.75 L505.02,129.75 L505.49,129.75 L505.96,129.75 L506.43,129.75 L506.9,129.75 L507.38,129.75 L507.85,129.75 L508.32,129.75 L508.79,129.75 L509.26,129.75 L509.74,129.42 L510.21,129.75 L510.68,129.75 L511.15,129.75 L511.62,129.75 L512.1,129.75 L512.57,129.7 L513.04,129.75 L513.51,129.75 L513.98,129.75 L514.46,129.75 L514.93,129.75 L515.4,129.75 L515.87,129.64 L516.34,129.75 L516.82,129.75 L517.29,129.75 L517.76,129.75 L518.23,129.7 L518.7,129.75 L519.18,129.75 L519.65,129.55 L520.12,129.75 L520.59,129.74 L521.06,129.75 L521.54,129.75 L522.01,129.75 L522.48,129.75 L522.95,129.75 L523.42,129.72 L523.9,129.75 L524.37,129.44 L524.84,129.75 L525.31,129.75 L525.78,129.75 L526.26,129.75 L526.73,129.75 L527.2,129.75 L527.67,129.65 L528.14,129.75 L528.62,129.75 L529.09,129.68 L529.56,129.75 L530.03,129.37 L530.5,129.75 L530.98,129.75 L531.45,129.55" fill="none" stroke="#ff3030" stroke-width="1.2" stroke-linejoin="round"/>
<path d="M353.03,125.73 L353.5,125.69 L353.98,124.45 L354.45,123.63 L354.92,125.71 L355.39,128.46 L355.86,129.11 L356.34,128.54 L356.81,127.69 L357.28,125.93 L357.75,125.5 L358.22,125.27 L358.7,126.39 L359.17,125.79 L359.64,126.67 L360.11,126.46 L360.58,126.31 L361.06,126.02 L361.53,126.11 L362,126.61 L362.47,125.59 L362.94,124.7 L363.42,123.7 L363.89,124.43 L364.36,125.74 L364.83,125.06 L365.3,125.31 L365.78,125.83 L366.25,125.95 L366.72,126.7 L367.19,127.14 L367.66,127.17 L368.14,126.33 L368.61,126.47 L369.08,125.69 L369.55,125.15 L370.02,123.95 L370.5,124.48 L370.97,127.7 L371.44,126.24 L371.91,124.88 L372.38,122.77 L372.86,125.33 L373.33,127.41 L373.8,128.27 L374.27,127.2 L374.74,126.6 L375.22,126 L375.69,127.8 L376.16,127.22 L376.63,127.38 L377.1,126.5 L377.58,125.07 L378.05,125.6 L378.52,125.17 L378.99,124.87 L379.46,124.03 L379.94,123 L380.41,122.25 L380.88,124.64 L381.35,123.83 L381.82,123.9 L382.3,124.02 L382.77,122.89 L383.24,123.24 L383.71,122.33 L384.18,121.01 L384.66,121.71 L385.13,121.4 L385.6,120.6 L386.07,119.76 L386.54,119.05 L387.02,119.1 L387.49,118.56 L387.96,117.45 L388.43,117.15 L388.9,116.05 L389.38,116.26 L389.85,114.6 L390.32,114.47 L390.79,113.97 L391.26,114.04 L391.74,112.75 L392.21,111.95 L392.68,110.64 L393.15,110.41 L393.62,110.31 L394.1,109.8 L394.57,107.89 L395.04,108.26 L395.51,105.97 L395.98,106.05 L396.46,105.77 L396.93,105.23 L397.4,103.25 L397.87,103.43 L398.34,102.55 L398.82,103.16 L399.29,101.2 L399.76,101.24 L400.23,101.37 L400.7,99.47 L401.18,98.78 L401.65,98.88 L402.12,95.69 L402.59,97.69 L403.06,96.97 L403.54,95.67 L404.01,95.14 L404.48,94.68 L404.95,94.59 L405.42,92.93 L405.9,94.12 L406.37,94.44 L406.84,93.54 L407.31,92.6 L407.78,92.14 L408.26,90.57 L408.73,91.73 L409.2,91.77 L409.67,91.63 L410.14,91.66 L410.62,90.47 L411.09,91.67 L411.56,89.83 L412.03,91.35 L412.5,91.12 L412.98,90.62 L413.45,91.77 L413.92,90.59 L414.39,90.76 L414.86,89.92 L415.34,90.47 L415.81,92.77 L416.28,91.06 L416.75,92.22 L417.22,92.45 L417.7,92.64 L418.17,91.02 L418.64,93.02 L419.11,93.08 L419.58,92.87 L420.06,92.66 L420.53,94.61 L421,94.72 L421.47,95.14 L421.94,95.77 L422.42,96.5 L422.89,97.65 L423.36,97.82 L423.83,98.58 L424.3,99.31 L424.78,99.63 L425.25,99.97 L425.72,100.98 L426.19,101.46 L426.66,101.34 L427.14,102.11 L427.61,103.8 L428.08,104.95 L428.55,103.15 L429.02,105.39 L429.5,104.99 L429.97,106.68 L430.44,106.38 L430.91,107.79 L431.38,108.75 L431.86,109.68 L432.33,110.15 L432.8,111.19 L433.27,111.24 L433.74,112.07 L434.22,112.43 L434.69,113.06 L435.16,114.47 L435.63,114.42 L436.1,115.15 L436.58,115.28 L437.05,115.6 L437.52,117.08 L437.99,118.38 L438.46,118.02 L438.94,118.55 L439.41,119.46 L439.88,119.37 L440.35,120.12 L440.82,120.23 L441.3,121.46 L441.77,121.29 L442.24,121.9 L442.71,122.31 L443.18,122.26 L443.66,123.24 L444.13,123.53 L444.6,123.45 L445.07,124.63 L445.54,124.15 L446.02,124.97 L446.49,125.83 L446.96,124.8 L447.43,125 L447.9,125.8 L448.38,126.44 L448.85,126.94 L449.32,126.44 L449.79,126.25 L450.26,127.48 L450.74,127.18 L451.21,126.83 L451.68,127.26 L452.15,127.75 L452.62,127.17 L453.1,128.41 L453.57,127.96 L454.04,127.92 L454.51,128.82 L454.98,128.66 L455.46,128.74 L455.93,127.82 L456.4,128.82 L456.87,128.93 L457.34,129.15 L457.82,128.23 L458.29,128.49 L458.76,129.47 L459.23,129.49 L459.7,129.13 L460.18,129.3 L460.65,129.3 L461.12,129.69 L461.59,129.75 L462.06,129.5 L462.54,129.75 L463.01,128.81 L463.48,129.59 L463.95,129.6 L464.42,129.58 L464.9,129.75 L465.37,129.69 L465.84,129.75 L466.31,129.75 L466.78,129.67 L467.26,129.75 L467.73,129.75 L468.2,129.68 L468.67,129.75 L469.14,129.59 L469.62,129.75 L470.09,129.75 L470.56,129.75 L471.03,129.75 L471.5,129.75 L471.98,129.75 L472.45,129.75 L472.92,129.67 L473.39,129.75 L473.86,129.75 L474.34,129.75 L474.81,129.41 L475.28,129.75 L475.75,129.75 L476.22,129.75 L476.7,129.75 L477.17,129.75 L477.64,129.75 L478.11,129.66 L478.58,129.75 L479.06,129.75 L479.53,129.3 L480,129.71 L480.47,129.75 L480.94,129.71 L481.42,129.75 L481.89,129.75 L482.36,129.75 L482.83,129.75 L483.3,129.75 L483.78,129.75 L484.25,129.75 L484.72,129.75 L485.19,129.75 L485.66,129.75 L486.14,129.75 L486.61,129.75 L487.08,129.75 L487.55,129.75 L488.02,129.31 L488.5,129.75 L488.97,129.67 L489.44,129.57 L489.91,129.75 L490.38,129.75 L490.86,129.75 L491.33,129.75 L491.8,129.75 L492.27,129.75 L492.74,129.75 L493.22,129.75 L493.69,129.65 L494.16,129.75 L494.63,129.75 L495.1,129.75 L495.58,129.75 L496.05,129.75 L496.52,129.75 L496.99,129.75 L497.46,129.55 L497.94,129.75 L498.41,129.75 L498.88,129.75 L499.35,129.75 L499.82,129.75 L500.3,129.75 L500.77,129.75 L501.24,129.63 L501.71,129.75 L502.18,129.75 L502.66,129.75 L503.13,129.75 L503.6,129.75 L504.07,129.75 L504.54,129.75 L505.02,129.75 L505.49,129.75 L505.96,129.75 L506.43,129.75 L506.9,129.75 L507.38,129.75 L507.85,129.75 L508.32,129.73 L508.79,129.75 L509.26,129.7 L509.74,129.75 L510.21,129.75 L510.68,129.61 L511.15,129.75 L511.62,129.75 L512.1,129.75 L512.57,129.66 L513.04,129.75 L513.51,129.75 L513.98,129.75 L514.46,129.75 L514.93,129.75 L515.4,129.75 L515.87,129.67 L516.34,129.75 L516.82,129.75 L517.29,129.75 L517.76,129.75 L518.23,129.68 L518.7,129.75 L519.18,129.65 L519.65,129.72 L520.12,129.75 L520.59,129.75 L521.06,129.67 L521.54,129.75 L522.01,129.75 L522.48,129.74 L522.95,129.71 L523.42,129.5 L523.9,129.75 L524.37,129.75 L524.84,129.75 L525.31,129.56 L525.78,129.75 L526.26,129.75 L526.73,129.75 L527.2,129.75 L527.67,129.63 L528.14,129.75 L528.62,129.51 L529.09,129.75 L529.56,129.75 L530.03,129.75 L530.5,129.75 L530.98,129.75 L531.45,129.75" fill="none" stroke="#ff7c7c" stroke-width="1.2" stroke-linejoin="round"/>
<path d="M353.03,124.85 L353.5,123.3 L353.98,125.12 L354.45,126.19 L354.92,127.18 L355.39,127.08 L355.86,127.36 L356.34,127.49 L356.81,126.34 L357.28,125.3 L357.75,124.49 L358.22,124.4 L358.7,125.05 L359.17,125 L359.64,125.59 L360.11,124.87 L360.58,124.59 L361.06,124.13 L361.53,124.65 L362,125.02 L362.47,125.66 L362.94,124.93 L363.42,125.13 L363.89,123.62 L364.36,123.16 L364.83,124.68 L365.3,125.86 L365.78,127.79 L366.25,126.51 L366.72,125.07 L367.19,124.24 L367.66,123.84 L368.14,123.15 L368.61,124.12 L369.08,125.26 L369.55,126.05 L370.02,127.54 L370.5,127.08 L370.97,125.64 L371.44,126.24 L371.91,126.98 L372.38,127.04 L372.86,127.08 L373.33,127.86 L373.8,129.08 L374.27,129.42 L374.74,129.58 L375.22,128.16 L375.69,125.53 L376.16,124.91 L376.63,125.49 L377.1,126.47 L377.58,126.8 L378.05,126.36 L378.52,126.17 L378.99,125.27 L379.46,125.63 L379.94,125.42 L380.41,125.13 L380.88,126.37 L381.35,127.56 L381.82,127.1 L382.3,127.66 L382.77,128.19 L383.24,127.91 L383.71,125.94 L384.18,124.62 L384.66,124.12 L385.13,124.38 L385.6,123.91 L386.07,123.95 L386.54,124.54 L387.02,124.53 L387.49,124.39 L387.96,125.12 L388.43,126.05 L388.9,125.75 L389.38,125.36 L389.85,125.38 L390.32,125.06 L390.79,125.23 L391.26,124.92 L391.74,125.19 L392.21,124.16 L392.68,124.14 L393.15,124.41 L393.62,123.67 L394.1,123.9 L394.57,123.21 L395.04,122.49 L395.51,122.91 L395.98,123.01 L396.46,122.69 L396.93,122.22 L397.4,122.25 L397.87,121.64 L398.34,122.37 L398.82,120.94 L399.29,121.31 L399.76,121.07 L400.23,120.36 L400.7,120.29 L401.18,121.16 L401.65,120.83 L402.12,119.77 L402.59,120.1 L403.06,120.13 L403.54,119.31 L404.01,119.52 L404.48,119.16 L404.95,119.51 L405.42,119.23 L405.9,119 L406.37,118.7 L406.84,118.29 L407.31,119.26 L407.78,118.84 L408.26,118.74 L408.73,118.31 L409.2,118.59 L409.67,118.21 L410.14,117.74 L410.62,118.09 L411.09,117.61 L411.56,118.1 L412.03,118.81 L412.5,118.07 L412.98,117.93 L413.45,118.32 L413.92,118.12 L414.39,117.56 L414.86,117.92 L415.34,118.59 L415.81,118.71 L416.28,117.99 L416.75,118.08 L417.22,118.88 L417.7,118.56 L418.17,118.55 L418.64,118.28 L419.11,118.46 L419.58,117.97 L420.06,119.31 L420.53,119.89 L421,119.35 L421.47,119.06 L421.94,120.06 L422.42,120.2 L422.89,119.86 L423.36,120.11 L423.83,119.8 L424.3,120.67 L424.78,119.66 L425.25,120.52 L425.72,120.71 L426.19,121.75 L426.66,121.28 L427.14,120.97 L427.61,121.96 L428.08,121.4 L428.55,121.98 L429.02,122.03 L429.5,122.53 L429.97,122.53 L430.44,123.75 L430.91,123.37 L431.38,123.69 L431.86,123.7 L432.33,124.09 L432.8,124.58 L433.27,124.2 L433.74,124.43 L434.22,124.75 L434.69,124.61 L435.16,125.25 L435.63,124.99 L436.1,125.23 L436.58,125.97 L437.05,125.57 L437.52,126.12 L437.99,126.07 L438.46,126.49 L438.94,126.08 L439.41,126.51 L439.88,127.69 L440.35,127.28 L440.82,127.52 L441.3,127.34 L441.77,127.16 L442.24,127.49 L442.71,128.2 L443.18,128.44 L443.66,127.88 L444.13,128.08 L444.6,127.84 L445.07,128.02 L445.54,128.22 L446.02,127.96 L446.49,128.37 L446.96,128.35 L447.43,128.8 L447.9,128.61 L448.38,128.28 L448.85,129.23 L449.32,129.33 L449.79,129.16 L450.26,128.74 L450.74,129.12 L451.21,129.42 L451.68,129.06 L452.15,129.31 L452.62,129.34 L453.1,129.75 L453.57,129.75 L454.04,129.33 L454.51,129.67 L454.98,129.33 L455.46,128.96 L455.93,129.35 L456.4,129.75 L456.87,129.58 L457.34,129.75 L457.82,129.61 L458.29,129.46 L458.76,129.75 L459.23,129.6 L459.7,129.74 L460.18,129.66 L460.65,129.57 L461.12,129.75 L461.59,129.51 L462.06,129.47 L462.54,129.75 L463.01,129.75 L463.48,129.75 L463.95,129.75 L464.42,129.75 L464.9,129.54 L465.37,129.75 L465.84,129.75 L466.31,129.75 L466.78,129.65 L467.26,129.75 L467.73,129.51 L468.2,129.75 L468.67,129.75 L469.14,129.75 L469.62,129.75 L470.09,129.75 L470.56,129.75 L471.03,129.75 L471.5,129.64 L471.98,129.59 L472.45,129.75 L472.92,129.75 L473.39,129.75 L473.86,129.75 L474.34,129.75 L474.81,129.75 L475.28,129.75 L475.75,129.56 L476.22,129.75 L476.7,129.75 L477.17,129.75 L477.64,129.75 L478.11,129.75 L478.58,129.71 L479.06,129.67 L479.53,129.75 L480,129.75 L480.47,129.75 L480.94,129.75 L481.42,129.48 L481.89,129.75 L482.36,129.62 L482.83,129.75 L483.3,129.75 L483.78,129.75 L484.25,129.75 L484.72,129.75 L485.19,129.75 L485.66,129.31 L486.14,129.75 L486.61,129.75 L487.08,129.75 L487.55,129.75 L488.02,129.75 L488.5,129.75 L488.97,129.75 L489.44,129.75 L489.91,129.75 L490.38,129.75 L490.86,129.75 L491.33,129.75 L491.8,129.75 L492.27,129.75 L492.74,129.75 L493.22,129.63 L493.69,129.66 L494.16,129.75 L494.63,129.75 L495.1,129.75 L495.58,129.75 L496.05,129.75 L496.52,129.71 L496.99,129.65 L497.46,129.75 L497.94,129.75 L498.41,129.75 L498.88,129.75 L499.35,129.75 L499.82,129.75 L500.3,129.75 L500.77,129.75 L501.24,129.55 L501.71,129.75 L502.18,129.75 L502.66,129.75 L503.13,129.75 L503.6,129.75 L504.07,129.41 L504.54,129.75 L505.02,129.72 L505.49,129.75 L505.96,129.75 L506.43,129.75 L506.9,129.59 L507.38,129.75 L507.85,129.75 L508.32,129.75 L508.79,129.75 L509.26,129.75 L509.74,129.75 L510.21,129.75 L510.68,129.75 L511.15,129.75 L511.62,129.4 L512.1,129.75 L512.57,129.75 L513.04,129.75 L513.51,129.75 L513.98,129.75 L514.46,129.75 L514.93,129.75 L515.4,129.75 L515.87,129.75 L516.34,129.54 L516.82,129.75 L517.29,129.75 L517.76,129.55 L518.23,129.69 L518.7,129.75 L519.18,129.75 L519.65,129.75 L520.12,129.75 L520.59,129.64 L521.06,129.75 L521.54,129.75 L522.01,129.67 L522.48,129.75 L522.95,129.75 L523.42,129.53 L523.9,129.61 L524.37,129.75 L524.84,129.75 L525.31,129.75 L525.78,129.75 L526.26,129.75 L526.73,129.58 L527.2,129.36 L527.67,129.67 L528.14,129.66 L528.62,129.75 L529.09,129.75 L529.56,129.53 L530.03,129.72 L530.5,129.75 L530.98,129.75 L531.45,129.75" fill="none" stroke="#ffbcbc" stroke-width="1.2" stroke-linejoin="round"/>
<rect x="353.0" y="5.5" width="178.2" height="124.5" fill="none" stroke="#5f5f5f" stroke-width="1.2"/>
<line x1="353" y1="117.55" x2="354.8" y2="117.55" stroke="#5f5f5f" stroke-width="1.2"/>
<line x1="531.2" y1="117.55" x2="529.4" y2="117.55" stroke="#5f5f5f" stroke-width="1.2"/>
<line x1="353" y1="105.1" x2="356.2" y2="105.1" stroke="#5f5f5f" stroke-width="1.2"/>
<line x1="531.2" y1="105.1" x2="528" y2="105.1" stroke="#5f5f5f" stroke-width="1.2"/>
<line x1="353" y1="92.65" x2="354.8" y2="92.65" stroke="#5f5f5f" stroke-width="1.2"/>
<line x1="531.2" y1="92.65" x2="529.4" y2="92.65" stroke="#5f5f5f" stroke-width="1.2"/>
<line x1="353" y1="80.2" x2="356.2" y2="80.2" stroke="#5f5f5f" stroke-width="1.2"/>
<line x1="531.2" y1="80.2" x2="528" y2="80.2" stroke="#5f5f5f" stroke-width="1.2"/>
<line x1="353" y1="67.75" x2="354.8" y2="67.75" stroke="#5f5f5f" stroke-width="1.2"/>
<line x1="531.2" y1="67.75" x2="529.4" y2="67.75" stroke="#5f5f5f" stroke-width="1.2"/>
<line x1="353" y1="55.3" x2="356.2" y2="55.3" stroke="#5f5f5f" stroke-width="1.2"/>
<line x1="531.2" y1="55.3" x2="528" y2="55.3" stroke="#5f5f5f" stroke-width="1.2"/>
<line x1="353" y1="42.85" x2="354.8" y2="42.85" stroke="#5f5f5f" stroke-width="1.2"/>
<line x1="531.2" y1="42.85" x2="529.4" y2="42.85" stroke="#5f5f5f" stroke-width="1.2"/>
<line x1="353" y1="30.4" x2="356.2" y2="30.4" stroke="#5f5f5f" stroke-width="1.2"/>
<line x1="531.2" y1="30.4" x2="528" y2="30.4" stroke="#5f5f5f" stroke-width="1.2"/>
<line x1="353" y1="17.95" x2="354.8" y2="17.95" stroke="#5f5f5f" stroke-width="1.2"/>
<line x1="531.2" y1="17.95" x2="529.4" y2="17.95" stroke="#5f5f5f" stroke-width="1.2"/>
<line x1="362" y1="130" x2="362" y2="126.8" stroke="#5f5f5f" stroke-width="1.2"/>
<line x1="362" y1="5.5" x2="362" y2="8.7" stroke="#5f5f5f" stroke-width="1.2"/>
<line x1="371.44" y1="130" x2="371.44" y2="128.2" stroke="#5f5f5f" stroke-width="1.2"/>
<line x1="371.44" y1="5.5" x2="371.44" y2="7.3" stroke="#5f5f5f" stroke-width="1.2"/>
<line x1="380.88" y1="130" x2="380.88" y2="128.2" stroke="#5f5f5f" stroke-width="1.2"/>
<line x1="380.88" y1="5.5" x2="380.88" y2="7.3" stroke="#5f5f5f" stroke-width="1.2"/>
<line x1="390.32" y1="130" x2="390.32" y2="128.2" stroke="#5f5f5f" stroke-width="1.2"/>
<line x1="390.32" y1="5.5" x2="390.32" y2="7.3" stroke="#5f5f5f" stroke-width="1.2"/>
<line x1="399.76" y1="130" x2="399.76" y2="128.2" stroke="#5f5f5f" stroke-width="1.2"/>
<line x1="399.76" y1="5.5" x2="399.76" y2="7.3" stroke="#5f5f5f" stroke-width="1.2"/>
<line x1="409.2" y1="130" x2="409.2" y2="126.8" stroke="#5f5f5f" stroke-width="1.2"/>
<line x1="409.2" y1="5.5" x2="409.2" y2="8.7" stroke="#5f5f5f" stroke-width="1.2"/>
<line x1="418.64" y1="130" x2="418.64" y2="128.2" stroke="#5f5f5f" stroke-width="1.2"/>
<line x1="418.64" y1="5.5" x2="418.64" y2="7.3" stroke="#5f5f5f" stroke-width="1.2"/>
<line x1="428.08" y1="130" x2="428.08" y2="128.2" stroke="#5f5f5f" stroke-width="1.2"/>
<line x1="428.08" y1="5.5" x2="428.08" y2="7.3" stroke="#5f5f5f" stroke-width="1.2"/>
<line x1="437.52" y1="130" x2="437.52" y2="128.2" stroke="#5f5f5f" stroke-width="1.2"/>
<line x1="437.52" y1="5.5" x2="437.52" y2="7.3" stroke="#5f5f5f" stroke-width="1.2"/>
<line x1="446.96" y1="130" x2="446.96" y2="128.2" stroke="#5f5f5f" stroke-width="1.2"/>
<line x1="446.96" y1="5.5" x2="446.96" y2="7.3" stroke="#5f5f5f" stroke-width="1.2"/>
<line x1="456.4" y1="130" x2="456.4" y2="126.8" stroke="#5f5f5f" stroke-width="1.2"/>
<line x1="456.4" y1="5.5" x2="456.4" y2="8.7" stroke="#5f5f5f" stroke-width="1.2"/>
<line x1="465.84" y1="130" x2="465.84" y2="128.2" stroke="#5f5f5f" stroke-width="1.2"/>
<line x1="465.84" y1="5.5" x2="465.84" y2="7.3" stroke="#5f5f5f" stroke-width="1.2"/>
<line x1="475.28" y1="130" x2="475.28" y2="128.2" stroke="#5f5f5f" stroke-width="1.2"/>
<line x1="475.28" y1="5.5" x2="475.28" y2="7.3" stroke="#5f5f5f" stroke-width="1.2"/>
<line x1="484.72" y1="130" x2="484.72" y2="128.2" stroke="#5f5f5f" stroke-width="1.2"/>
<line x1="484.72" y1="5.5" x2="484.72" y2="7.3" stroke="#5f5f5f" stroke-width="1.2"/>
<line x1="494.16" y1="130" x2="494.16" y2="128.2" stroke="#5f5f5f" stroke-width="1.2"/>
<line x1="494.16" y1="5.5" x2="494.16" y2="7.3" stroke="#5f5f5f" stroke-width="1.2"/>
<line x1="503.6" y1="130" x2="503.6" y2="126.8" stroke="#5f5f5f" stroke-width="1.2"/>
<line x1="503.6" y1="5.5" x2="503.6" y2="8.7" stroke="#5f5f5f" stroke-width="1.2"/>
<line x1="513.04" y1="130" x2="513.04" y2="128.2" stroke="#5f5f5f" stroke-width="1.2"/>
<line x1="513.04" y1="5.5" x2="513.04" y2="7.3" stroke="#5f5f5f" stroke-width="1.2"/>
<line x1="522.48" y1="130" x2="522.48" y2="128.2" stroke="#5f5f5f" stroke-width="1.2"/>
<line x1="522.48" y1="5.5" x2="522.48" y2="7.3" stroke="#5f5f5f" stroke-width="1.2"/>
<text transform="translate(350,133.2) scale(0.9,1)" font-size="10.6" text-anchor="end">0.0</text>
<text transform="translate(350,108.3) scale(0.9,1)" font-size="10.6" text-anchor="end">0.1</text>
<text transform="translate(350,83.4) scale(0.9,1)" font-size="10.6" text-anchor="end">0.2</text>
<text transform="translate(350,58.5) scale(0.9,1)" font-size="10.6" text-anchor="end">0.3</text>
<text transform="translate(350,33.6) scale(0.9,1)" font-size="10.6" text-anchor="end">0.4</text>
<text transform="translate(350,8.7) scale(0.9,1)" font-size="10.6" text-anchor="end">0.5</text>
<text transform="translate(362,140.9) scale(0.9,1)" font-size="10.6" text-anchor="middle">200</text>
<text transform="translate(409.2,140.9) scale(0.9,1)" font-size="10.6" text-anchor="middle">250</text>
<text transform="translate(456.4,140.9) scale(0.9,1)" font-size="10.6" text-anchor="middle">300</text>
<text transform="translate(503.6,140.9) scale(0.9,1)" font-size="10.6" text-anchor="middle">350</text>
<text x="442.5" y="157" font-size="9.7" text-anchor="middle" font-weight="bold" font-style="normal" fill="#000" >Wavelength (nm)</text>
<text transform="translate(327.8,67.6) rotate(-90)" font-size="9.95" font-weight="bold" text-anchor="middle">Absorbance (O.D.)</text>
<text x="361" y="21.5" font-size="12.2" text-anchor="start" font-weight="bold" font-style="normal" fill="#000" style="stroke-width:0.1px">b</text>
<text x="467.6" y="19.1" font-size="8.0" text-anchor="start" font-weight="bold" font-style="normal" fill="#000" >Experimental</text>
<circle cx="456.7" cy="26.4" r="1.45" fill="#ffbcbc"/>
<text x="467.8" y="29.35" font-size="8.35"><tspan font-style="italic">t</tspan>= 50 - 55 s</text>
<circle cx="456.7" cy="36.6" r="1.45" fill="#ff7c7c"/>
<text x="467.8" y="39.55" font-size="8.35"><tspan font-style="italic">t</tspan>= 150 - 155 s</text>
<circle cx="456.7" cy="46.8" r="1.45" fill="#ff3030"/>
<text x="467.8" y="49.75" font-size="8.35"><tspan font-style="italic">t</tspan>= 250 - 255 s</text>
<circle cx="456.7" cy="57" r="1.45" fill="#f50808"/>
<text x="467.8" y="59.95" font-size="8.35"><tspan font-style="italic">t</tspan>= 350 - 355 s</text>
<path d="M389.38,273.7 L389.85,273.15 L390.32,271.92 L390.79,272.06 L391.26,271.01 L391.74,270.8 L392.21,270.23 L392.68,269.53 L393.15,270.55 L393.62,268.88 L394.1,267.84 L394.57,266.53 L395.04,266.49 L395.51,264.61 L395.98,264.74 L396.46,264.81 L396.93,265.04 L397.4,263.77 L397.87,263.06 L398.34,262.2 L398.82,261.35 L399.29,261.74 L399.76,259.94 L400.23,259.77 L400.7,259.35 L401.18,259.08 L401.65,257.52 L402.12,257.34 L402.59,257.8 L403.06,255.77 L403.54,255.35 L404.01,255.69 L404.48,253.73 L404.95,253.77 L405.42,252.85 L405.9,253.38 L406.37,252.5 L406.84,251.51 L407.31,250.93 L407.78,251.41 L408.26,252.28 L408.73,250.2 L409.2,250.19 L409.67,248.95 L410.14,250.24 L410.62,249.14 L411.09,250.2 L411.56,248.99 L412.03,249.33 L412.5,248.93 L412.98,249.11 L413.45,249.21 L413.92,248.2 L414.39,248.56 L414.86,249.43 L415.34,250.19 L415.81,250.35 L416.28,249.44 L416.75,250.37 L417.22,251.18 L417.7,251.51 L418.17,250.65 L418.64,251.85 L419.11,252.93 L419.58,251.93 L420.06,253.15 L420.53,254.79 L421,255.28 L421.47,254.9 L421.94,256.17 L422.42,256.62 L422.89,255.87 L423.36,256.45 L423.83,257.24 L424.3,258.76 L424.78,259.61 L425.25,261.2 L425.72,261.97 L426.19,261.91 L426.66,262.63 L427.14,262.89 L427.61,263.73 L428.08,264.7 L428.55,265.37 L429.02,266.35 L429.5,266.45 L429.97,268.7 L430.44,267.53 L430.91,269.14 L431.38,271.08 L431.86,270.79 L432.33,270.61 L432.8,272.76 L433.27,272.75 L433.74,273.8 L434.22,273.51 L434.69,274.93 L435.16,276.1 L435.63,276.06 L436.1,276.65 L436.58,277.47 L437.05,278.46 L437.52,279.55 L437.99,279.25 L438.46,280.76 L438.94,280.79 L439.41,280.7 L439.88,280.56 L440.35,281.13 L440.82,283.21 L441.3,281.94 L441.77,284.24 L442.24,283.21 L442.71,283.66 L443.18,283.53 L443.66,284.31 L444.13,284.09 L444.6,285.43 L445.07,285.42 L445.54,285.09 L446.02,286.23 L446.49,286.49 L446.96,286.35 L447.43,287.58 L447.9,286.98 L448.38,287.67 L448.85,286.32 L449.32,286.63 L449.79,287.15 L450.26,286.38 L450.74,287.76 L451.21,288.26 L451.68,287.96 L452.15,288.1 L452.62,288.58 L453.1,288.29 L453.57,289.37 L454.04,289.32 L454.51,288.63 L454.98,289.65 L455.46,288.27 L455.93,288.76 L456.4,289.47 L456.87,288.46 L457.34,289.05 L457.82,288.22 L458.29,289.42 L458.76,289.67 L459.23,289.1 L459.7,290.04 L460.18,288.8 L460.65,289.23 L461.12,291.09 L461.59,289.54 L462.06,289.42 L462.54,290.32 L463.01,289.77 L463.48,289.8 L463.95,290.84 L464.42,289.46 L464.9,289.66 L465.37,290.06 L465.84,289.91 L466.31,289.63 L466.78,288.99 L467.26,289.38 L467.73,289.83 L468.2,289.9 L468.67,289.99 L469.14,289.08 L469.62,289.46 L470.09,290 L470.56,288.84 L471.03,289.18 L471.5,290.2 L471.98,289.35 L472.45,289.55 L472.92,289.43 L473.39,289.22 L473.86,289.87 L474.34,289.98 L474.81,290.34 L475.28,289.47 L475.75,289.71 L476.22,290.73 L476.7,289.63 L477.17,289.41 L477.64,289.54 L478.11,289.82 L478.58,289.18 L479.06,289.98 L479.53,290.55 L480,288.69 L480.47,290.52 L480.94,289.44 L481.42,288.52 L481.89,289.9 L482.36,288.85 L482.83,289.73 L483.3,289.76 L483.78,290.68 L484.25,289.18 L484.72,289.98 L485.19,289.11 L485.66,290.12 L486.14,289.49 L486.61,289.47 L487.08,288.74 L487.55,289.04 L488.02,290.27 L488.5,288.97 L488.97,289.62 L489.44,289.97 L489.91,289.82 L490.38,288.94 L490.86,290.52 L491.33,289.83 L491.8,290.2 L492.27,289.52 L492.74,289.69 L493.22,290.24 L493.69,289.67 L494.16,289.64 L494.63,289.73 L495.1,289.45 L495.58,288.79 L496.05,289.52 L496.52,289.47 L496.99,289.11 L497.46,289.64 L497.94,289.64 L498.41,289.86 L498.88,289.9 L499.35,289.94 L499.82,289.38 L500.3,290.94 L500.77,289.78 L501.24,289.37 L501.71,288.85 L502.18,288.58 L502.66,290.42 L503.13,289.89 L503.6,289.55 L504.07,290.55 L504.54,289.91 L505.02,289.38 L505.49,289.62 L505.96,290.6 L506.43,289.01 L506.9,290.01 L507.38,289.43 L507.85,290.48 L508.32,289.49 L508.79,288.9 L509.26,288.86 L509.74,288.89 L510.21,289.11 L510.68,289.97 L511.15,290.28 L511.62,288.55 L512.1,290.18 L512.57,289.97 L513.04,288.95 L513.51,289.34 L513.98,288.59 L514.46,289.66 L514.93,288.73 L515.4,287.61 L515.87,289.74 L516.34,289.39 L516.82,289.7 L517.29,289.46 L517.76,289.64 L518.23,288.9 L518.7,288.78 L519.18,289.19 L519.65,288.82 L520.12,289.93 L520.59,289.05 L521.06,289.67 L521.54,288.65 L522.01,289.08 L522.48,290.48 L522.95,289.3 L523.42,290.09 L523.9,289.48 L524.37,288.66 L524.84,288.03 L525.31,288.99 L525.78,288.97 L526.26,288.94 L526.73,289.4 L527.2,290.42 L527.67,288.73 L528.14,289.11 L528.62,289.24 L529.09,289.04 L529.56,288.94 L530.03,289.15 L530.5,288.6 L530.98,289.24 L531.45,288.51" fill="none" stroke="#0c4a0c" stroke-width="1.2" stroke-linejoin="round"/>
<g fill="#0c4a0c"><rect x="352.15" y="244.38" width="1.2" height="1.2"/><rect x="352.22" y="250.23" width="1.2" height="1.2"/><rect x="352.3" y="246.47" width="1.2" height="1.2"/><rect x="352.38" y="243.83" width="1.2" height="1.2"/><rect x="352.45" y="250.19" width="1.2" height="1.2"/><rect x="352.53" y="248.28" width="1.2" height="1.2"/><rect x="352.6" y="247.94" width="1.2" height="1.2"/><rect x="352.68" y="245.67" width="1.2" height="1.2"/><rect x="352.75" y="249.2" width="1.2" height="1.2"/><rect x="352.83" y="252.4" width="1.2" height="1.2"/><rect x="352.9" y="252.24" width="1.2" height="1.2"/><rect x="352.98" y="253.51" width="1.2" height="1.2"/><rect x="353.06" y="251.58" width="1.2" height="1.2"/><rect x="353.13" y="249.43" width="1.2" height="1.2"/><rect x="353.21" y="249.77" width="1.2" height="1.2"/><rect x="353.28" y="253.05" width="1.2" height="1.2"/><rect x="353.36" y="250.24" width="1.2" height="1.2"/><rect x="353.43" y="256.7" width="1.2" height="1.2"/><rect x="353.51" y="252.38" width="1.2" height="1.2"/><rect x="353.58" y="248.74" width="1.2" height="1.2"/><rect x="353.66" y="252.84" width="1.2" height="1.2"/><rect x="353.73" y="253.87" width="1.2" height="1.2"/><rect x="353.81" y="249.45" width="1.2" height="1.2"/><rect x="353.89" y="249.34" width="1.2" height="1.2"/><rect x="353.96" y="253.06" width="1.2" height="1.2"/><rect x="354.04" y="259.11" width="1.2" height="1.2"/><rect x="354.11" y="251.6" width="1.2" height="1.2"/><rect x="354.19" y="248.6" width="1.2" height="1.2"/><rect x="354.26" y="256.33" width="1.2" height="1.2"/><rect x="354.34" y="247.65" width="1.2" height="1.2"/><rect x="354.41" y="256.67" width="1.2" height="1.2"/><rect x="354.49" y="251.39" width="1.2" height="1.2"/><rect x="354.57" y="251.85" width="1.2" height="1.2"/><rect x="354.64" y="252.49" width="1.2" height="1.2"/><rect x="354.72" y="257.01" width="1.2" height="1.2"/><rect x="354.79" y="252.82" width="1.2" height="1.2"/><rect x="354.87" y="259.16" width="1.2" height="1.2"/><rect x="354.94" y="255.41" width="1.2" height="1.2"/><rect x="355.02" y="255.66" width="1.2" height="1.2"/><rect x="355.09" y="255.56" width="1.2" height="1.2"/><rect x="355.17" y="259.05" width="1.2" height="1.2"/><rect x="355.25" y="258.13" width="1.2" height="1.2"/><rect x="355.32" y="261.19" width="1.2" height="1.2"/><rect x="355.4" y="251.44" width="1.2" height="1.2"/><rect x="355.47" y="255.87" width="1.2" height="1.2"/><rect x="355.55" y="258.58" width="1.2" height="1.2"/><rect x="355.62" y="256.11" width="1.2" height="1.2"/><rect x="355.7" y="257.07" width="1.2" height="1.2"/><rect x="355.77" y="252.77" width="1.2" height="1.2"/><rect x="355.85" y="258.94" width="1.2" height="1.2"/><rect x="355.92" y="254.29" width="1.2" height="1.2"/><rect x="356" y="261.67" width="1.2" height="1.2"/><rect x="356.08" y="258.15" width="1.2" height="1.2"/><rect x="356.15" y="256.62" width="1.2" height="1.2"/><rect x="356.23" y="258.77" width="1.2" height="1.2"/><rect x="356.3" y="255.53" width="1.2" height="1.2"/><rect x="356.38" y="257.96" width="1.2" height="1.2"/><rect x="356.45" y="260.21" width="1.2" height="1.2"/><rect x="356.53" y="260.09" width="1.2" height="1.2"/><rect x="356.6" y="255.2" width="1.2" height="1.2"/><rect x="356.68" y="259.04" width="1.2" height="1.2"/><rect x="356.76" y="260.1" width="1.2" height="1.2"/><rect x="356.83" y="263.75" width="1.2" height="1.2"/><rect x="356.91" y="263.46" width="1.2" height="1.2"/><rect x="356.98" y="262.26" width="1.2" height="1.2"/><rect x="357.06" y="258.07" width="1.2" height="1.2"/><rect x="357.13" y="256.72" width="1.2" height="1.2"/><rect x="357.21" y="261.93" width="1.2" height="1.2"/><rect x="357.28" y="254.49" width="1.2" height="1.2"/><rect x="357.36" y="259.77" width="1.2" height="1.2"/><rect x="357.44" y="260.07" width="1.2" height="1.2"/><rect x="357.51" y="259.96" width="1.2" height="1.2"/><rect x="357.59" y="263.03" width="1.2" height="1.2"/><rect x="357.66" y="258.12" width="1.2" height="1.2"/><rect x="357.74" y="260.57" width="1.2" height="1.2"/><rect x="357.81" y="259.31" width="1.2" height="1.2"/><rect x="357.89" y="265.79" width="1.2" height="1.2"/><rect x="357.96" y="265.21" width="1.2" height="1.2"/><rect x="358.04" y="259.35" width="1.2" height="1.2"/><rect x="358.11" y="257.69" width="1.2" height="1.2"/><rect x="358.19" y="262.45" width="1.2" height="1.2"/><rect x="358.27" y="262.68" width="1.2" height="1.2"/><rect x="358.34" y="262.27" width="1.2" height="1.2"/><rect x="358.42" y="263.59" width="1.2" height="1.2"/><rect x="358.49" y="265.49" width="1.2" height="1.2"/><rect x="358.57" y="265.54" width="1.2" height="1.2"/><rect x="358.64" y="258.94" width="1.2" height="1.2"/><rect x="358.72" y="264.32" width="1.2" height="1.2"/><rect x="358.79" y="260.75" width="1.2" height="1.2"/><rect x="358.87" y="267.25" width="1.2" height="1.2"/><rect x="358.95" y="261.54" width="1.2" height="1.2"/><rect x="359.02" y="259.76" width="1.2" height="1.2"/><rect x="359.1" y="264.22" width="1.2" height="1.2"/><rect x="359.17" y="260.6" width="1.2" height="1.2"/><rect x="359.25" y="262.73" width="1.2" height="1.2"/><rect x="359.32" y="256.95" width="1.2" height="1.2"/><rect x="359.4" y="264.43" width="1.2" height="1.2"/><rect x="359.47" y="264.56" width="1.2" height="1.2"/><rect x="359.55" y="266.98" width="1.2" height="1.2"/><rect x="359.63" y="264.49" width="1.2" height="1.2"/><rect x="359.7" y="262.26" width="1.2" height="1.2"/><rect x="359.78" y="266.52" width="1.2" height="1.2"/><rect x="359.85" y="260.81" width="1.2" height="1.2"/><rect x="359.93" y="266.19" width="1.2" height="1.2"/><rect x="360" y="264.14" width="1.2" height="1.2"/><rect x="360.08" y="261.11" width="1.2" height="1.2"/><rect x="360.15" y="266.6" width="1.2" height="1.2"/><rect x="360.23" y="264.66" width="1.2" height="1.2"/><rect x="360.3" y="265.93" width="1.2" height="1.2"/><rect x="360.38" y="267.47" width="1.2" height="1.2"/><rect x="360.46" y="263.9" width="1.2" height="1.2"/><rect x="360.53" y="271.57" width="1.2" height="1.2"/><rect x="360.61" y="268.59" width="1.2" height="1.2"/><rect x="360.68" y="266.16" width="1.2" height="1.2"/><rect x="360.76" y="265.14" width="1.2" height="1.2"/><rect x="360.83" y="268.42" width="1.2" height="1.2"/><rect x="360.91" y="269.82" width="1.2" height="1.2"/><rect x="360.98" y="261.81" width="1.2" height="1.2"/><rect x="361.06" y="264.74" width="1.2" height="1.2"/><rect x="361.14" y="264.85" width="1.2" height="1.2"/><rect x="361.21" y="266.21" width="1.2" height="1.2"/><rect x="361.29" y="263.52" width="1.2" height="1.2"/><rect x="361.36" y="265.91" width="1.2" height="1.2"/><rect x="361.44" y="270.55" width="1.2" height="1.2"/><rect x="361.51" y="267.01" width="1.2" height="1.2"/><rect x="361.59" y="264.34" width="1.2" height="1.2"/><rect x="361.66" y="271.79" width="1.2" height="1.2"/><rect x="361.74" y="268.99" width="1.2" height="1.2"/><rect x="361.82" y="267.26" width="1.2" height="1.2"/><rect x="361.89" y="267.52" width="1.2" height="1.2"/><rect x="361.97" y="269.37" width="1.2" height="1.2"/><rect x="362.04" y="267.2" width="1.2" height="1.2"/><rect x="362.12" y="266.86" width="1.2" height="1.2"/><rect x="362.19" y="262.81" width="1.2" height="1.2"/><rect x="362.27" y="270.29" width="1.2" height="1.2"/><rect x="362.34" y="268.26" width="1.2" height="1.2"/><rect x="362.42" y="271.25" width="1.2" height="1.2"/><rect x="362.5" y="265.28" width="1.2" height="1.2"/><rect x="362.57" y="267.39" width="1.2" height="1.2"/><rect x="362.65" y="266.93" width="1.2" height="1.2"/><rect x="362.72" y="267.35" width="1.2" height="1.2"/><rect x="362.8" y="263.76" width="1.2" height="1.2"/><rect x="362.87" y="269.78" width="1.2" height="1.2"/><rect x="362.95" y="268.2" width="1.2" height="1.2"/><rect x="363.02" y="267.53" width="1.2" height="1.2"/><rect x="363.1" y="272.15" width="1.2" height="1.2"/><rect x="363.17" y="273.6" width="1.2" height="1.2"/><rect x="363.25" y="267.03" width="1.2" height="1.2"/><rect x="363.33" y="269.09" width="1.2" height="1.2"/><rect x="363.4" y="267.28" width="1.2" height="1.2"/><rect x="363.48" y="269.68" width="1.2" height="1.2"/><rect x="363.55" y="270.28" width="1.2" height="1.2"/><rect x="363.63" y="270.41" width="1.2" height="1.2"/><rect x="363.7" y="269.27" width="1.2" height="1.2"/><rect x="363.78" y="270.92" width="1.2" height="1.2"/><rect x="363.85" y="271.15" width="1.2" height="1.2"/><rect x="363.93" y="266.6" width="1.2" height="1.2"/><rect x="364.01" y="267.28" width="1.2" height="1.2"/><rect x="364.08" y="270.34" width="1.2" height="1.2"/><rect x="364.16" y="265.86" width="1.2" height="1.2"/><rect x="364.23" y="271.83" width="1.2" height="1.2"/><rect x="364.31" y="267.96" width="1.2" height="1.2"/><rect x="364.38" y="267.59" width="1.2" height="1.2"/><rect x="364.46" y="271.37" width="1.2" height="1.2"/><rect x="364.53" y="266.13" width="1.2" height="1.2"/><rect x="364.61" y="273.93" width="1.2" height="1.2"/><rect x="364.69" y="271.02" width="1.2" height="1.2"/><rect x="364.76" y="272.52" width="1.2" height="1.2"/><rect x="364.84" y="267.08" width="1.2" height="1.2"/><rect x="364.91" y="270.19" width="1.2" height="1.2"/><rect x="364.99" y="273.29" width="1.2" height="1.2"/><rect x="365.06" y="271.7" width="1.2" height="1.2"/><rect x="365.14" y="273.4" width="1.2" height="1.2"/><rect x="365.21" y="268.47" width="1.2" height="1.2"/><rect x="365.29" y="273.71" width="1.2" height="1.2"/><rect x="365.36" y="273.78" width="1.2" height="1.2"/><rect x="365.44" y="270.63" width="1.2" height="1.2"/><rect x="365.52" y="273.12" width="1.2" height="1.2"/><rect x="365.59" y="271.22" width="1.2" height="1.2"/><rect x="365.67" y="271.59" width="1.2" height="1.2"/><rect x="365.74" y="273.43" width="1.2" height="1.2"/><rect x="365.82" y="276.23" width="1.2" height="1.2"/><rect x="365.89" y="278.05" width="1.2" height="1.2"/><rect x="365.97" y="271.95" width="1.2" height="1.2"/><rect x="366.04" y="273.26" width="1.2" height="1.2"/><rect x="366.12" y="270.98" width="1.2" height="1.2"/><rect x="366.12" y="271.95" width="1.2" height="1.2"/><rect x="366.4" y="272.92" width="1.2" height="1.2"/><rect x="366.69" y="273.94" width="1.2" height="1.2"/><rect x="366.97" y="270.89" width="1.2" height="1.2"/><rect x="367.25" y="282.14" width="1.2" height="1.2"/><rect x="367.54" y="278.43" width="1.2" height="1.2"/><rect x="367.82" y="272.74" width="1.2" height="1.2"/><rect x="368.1" y="274.59" width="1.2" height="1.2"/><rect x="368.39" y="276.66" width="1.2" height="1.2"/><rect x="368.67" y="276.07" width="1.2" height="1.2"/><rect x="368.95" y="272.67" width="1.2" height="1.2"/><rect x="369.24" y="273.9" width="1.2" height="1.2"/><rect x="369.52" y="274.86" width="1.2" height="1.2"/><rect x="369.8" y="280.2" width="1.2" height="1.2"/><rect x="370.08" y="272.93" width="1.2" height="1.2"/><rect x="370.37" y="277.72" width="1.2" height="1.2"/><rect x="370.65" y="274.34" width="1.2" height="1.2"/><rect x="370.93" y="274.74" width="1.2" height="1.2"/><rect x="371.22" y="280.88" width="1.2" height="1.2"/><rect x="371.5" y="280.18" width="1.2" height="1.2"/><rect x="371.78" y="280.75" width="1.2" height="1.2"/><rect x="372.07" y="279.46" width="1.2" height="1.2"/><rect x="372.35" y="275.04" width="1.2" height="1.2"/><rect x="372.63" y="273.75" width="1.2" height="1.2"/><rect x="372.92" y="276.35" width="1.2" height="1.2"/><rect x="373.2" y="277.69" width="1.2" height="1.2"/><rect x="373.48" y="279.26" width="1.2" height="1.2"/><rect x="373.77" y="273.19" width="1.2" height="1.2"/><rect x="374.05" y="277.46" width="1.2" height="1.2"/><rect x="374.33" y="279.82" width="1.2" height="1.2"/><rect x="374.62" y="277.51" width="1.2" height="1.2"/><rect x="374.9" y="276.09" width="1.2" height="1.2"/><rect x="375.18" y="278.87" width="1.2" height="1.2"/><rect x="375.47" y="279.01" width="1.2" height="1.2"/><rect x="375.75" y="282" width="1.2" height="1.2"/><rect x="376.03" y="276.41" width="1.2" height="1.2"/><rect x="376.32" y="279.9" width="1.2" height="1.2"/><rect x="376.6" y="276.18" width="1.2" height="1.2"/><rect x="376.88" y="277.57" width="1.2" height="1.2"/><rect x="377.16" y="277.38" width="1.2" height="1.2"/><rect x="377.45" y="279.74" width="1.2" height="1.2"/><rect x="377.73" y="276.71" width="1.2" height="1.2"/><rect x="378.01" y="281.1" width="1.2" height="1.2"/><rect x="378.3" y="277.48" width="1.2" height="1.2"/><rect x="378.58" y="273.67" width="1.2" height="1.2"/><rect x="378.86" y="271.69" width="1.2" height="1.2"/><rect x="379.15" y="280.76" width="1.2" height="1.2"/><rect x="379.43" y="276.39" width="1.2" height="1.2"/><rect x="379.71" y="277.58" width="1.2" height="1.2"/><rect x="380" y="278.62" width="1.2" height="1.2"/><rect x="380.28" y="275.4" width="1.2" height="1.2"/><rect x="380.56" y="281.1" width="1.2" height="1.2"/><rect x="380.85" y="275.82" width="1.2" height="1.2"/><rect x="381.13" y="279.81" width="1.2" height="1.2"/><rect x="381.41" y="273.53" width="1.2" height="1.2"/><rect x="381.7" y="276.33" width="1.2" height="1.2"/><rect x="381.98" y="270.22" width="1.2" height="1.2"/><rect x="382.26" y="273.51" width="1.2" height="1.2"/><rect x="382.55" y="276.24" width="1.2" height="1.2"/><rect x="382.83" y="280.31" width="1.2" height="1.2"/><rect x="383.11" y="283.25" width="1.2" height="1.2"/><rect x="383.4" y="275.84" width="1.2" height="1.2"/><rect x="383.68" y="277.14" width="1.2" height="1.2"/><rect x="383.96" y="273.43" width="1.2" height="1.2"/><rect x="384.24" y="278.35" width="1.2" height="1.2"/><rect x="384.53" y="275.57" width="1.2" height="1.2"/><rect x="384.81" y="277.52" width="1.2" height="1.2"/><rect x="385.09" y="274.38" width="1.2" height="1.2"/><rect x="385.38" y="274.29" width="1.2" height="1.2"/><rect x="385.66" y="279.1" width="1.2" height="1.2"/><rect x="385.94" y="274.88" width="1.2" height="1.2"/><rect x="386.23" y="271.71" width="1.2" height="1.2"/><rect x="386.51" y="273.41" width="1.2" height="1.2"/><rect x="386.79" y="270.79" width="1.2" height="1.2"/><rect x="387.08" y="276.28" width="1.2" height="1.2"/><rect x="387.36" y="278.57" width="1.2" height="1.2"/><rect x="387.64" y="275.76" width="1.2" height="1.2"/><rect x="387.93" y="276.62" width="1.2" height="1.2"/><rect x="388.21" y="268.55" width="1.2" height="1.2"/><rect x="388.49" y="272.48" width="1.2" height="1.2"/></g>
<path d="M389.38,277.81 L389.85,278.19 L390.32,276.78 L390.79,277.24 L391.26,277.37 L391.74,276.51 L392.21,276.69 L392.68,276.16 L393.15,276.07 L393.62,276.96 L394.1,275.18 L394.57,275 L395.04,275.54 L395.51,273.46 L395.98,275.47 L396.46,273.71 L396.93,274.19 L397.4,273.7 L397.87,272.75 L398.34,272.3 L398.82,272.06 L399.29,273.04 L399.76,271.16 L400.23,271.85 L400.7,271.17 L401.18,270.59 L401.65,271.18 L402.12,269.27 L402.59,269.73 L403.06,269.94 L403.54,269.31 L404.01,269.37 L404.48,268.98 L404.95,267.73 L405.42,267.35 L405.9,266.58 L406.37,265.68 L406.84,266.32 L407.31,268.1 L407.78,265.95 L408.26,266.01 L408.73,265.59 L409.2,265.28 L409.67,265.57 L410.14,264.98 L410.62,265.01 L411.09,264.04 L411.56,265.7 L412.03,265.87 L412.5,265.36 L412.98,263.67 L413.45,266.51 L413.92,265.44 L414.39,266.07 L414.86,265.52 L415.34,265.33 L415.81,266.3 L416.28,265.11 L416.75,264.79 L417.22,266.53 L417.7,265.92 L418.17,267.27 L418.64,267.62 L419.11,266.77 L419.58,267.07 L420.06,268.53 L420.53,267.79 L421,267.64 L421.47,269.23 L421.94,270.22 L422.42,269.45 L422.89,269.38 L423.36,270.44 L423.83,270.48 L424.3,271.61 L424.78,271.54 L425.25,272.31 L425.72,272.47 L426.19,272.59 L426.66,273.52 L427.14,274.03 L427.61,275.36 L428.08,276.03 L428.55,275.68 L429.02,275.8 L429.5,276.49 L429.97,276.69 L430.44,277.35 L430.91,277.87 L431.38,278.43 L431.86,278.55 L432.33,278.47 L432.8,279.51 L433.27,280.77 L433.74,280.7 L434.22,281.12 L434.69,280.9 L435.16,280.74 L435.63,283.43 L436.1,282.56 L436.58,282.88 L437.05,281.44 L437.52,283.58 L437.99,283.14 L438.46,282.84 L438.94,284.39 L439.41,284.49 L439.88,284.71 L440.35,284.82 L440.82,285.72 L441.3,285.39 L441.77,286.05 L442.24,286.4 L442.71,285.26 L443.18,287.32 L443.66,286 L444.13,286.92 L444.6,287.03 L445.07,287.56 L445.54,287.25 L446.02,287.12 L446.49,288.31 L446.96,287.44 L447.43,289.23 L447.9,288.59 L448.38,289.01 L448.85,288.49 L449.32,288.03 L449.79,288.98 L450.26,288.45 L450.74,288.82 L451.21,288.01 L451.68,290.01 L452.15,290.04 L452.62,289.2 L453.1,290.32 L453.57,289.08 L454.04,289.11 L454.51,289.85 L454.98,289.83 L455.46,289.22 L455.93,289.16 L456.4,289.61 L456.87,289.11 L457.34,289.91 L457.82,289.36 L458.29,288.84 L458.76,288.91 L459.23,290.15 L459.7,290.05 L460.18,290.06 L460.65,289.43 L461.12,289.28 L461.59,290.32 L462.06,290.31 L462.54,289.44 L463.01,291.01 L463.48,288.98 L463.95,289.58 L464.42,290.06 L464.9,288.93 L465.37,289.54 L465.84,289.93 L466.31,288.13 L466.78,289.51 L467.26,289.43 L467.73,289.26 L468.2,289.52 L468.67,289.1 L469.14,289.73 L469.62,288.88 L470.09,289.29 L470.56,289.31 L471.03,288.75 L471.5,290.07 L471.98,289.35 L472.45,288.92 L472.92,288.72 L473.39,289.44 L473.86,289.66 L474.34,288.73 L474.81,290.36 L475.28,288.57 L475.75,290.32 L476.22,289.85 L476.7,288.61 L477.17,289.22 L477.64,289.72 L478.11,288.39 L478.58,288.94 L479.06,289.47 L479.53,288.74 L480,288.86 L480.47,289.2 L480.94,288.59 L481.42,288.74 L481.89,289.88 L482.36,288.87 L482.83,288.8 L483.3,288.67 L483.78,289.51 L484.25,288.34 L484.72,289.85 L485.19,289.21 L485.66,289.09 L486.14,288.84 L486.61,288.98 L487.08,288.73 L487.55,288.51 L488.02,287.6 L488.5,289.03 L488.97,288.37 L489.44,288.91 L489.91,288.78 L490.38,289.21 L490.86,289.01 L491.33,287.89 L491.8,288.73 L492.27,288.49 L492.74,289.4 L493.22,288.31 L493.69,288.31 L494.16,288.37 L494.63,287.92 L495.1,288.55 L495.58,288.92 L496.05,288.24 L496.52,288.25 L496.99,287.43 L497.46,288.73 L497.94,288.39 L498.41,287.62 L498.88,288.5 L499.35,287.02 L499.82,287.04 L500.3,288.32 L500.77,287.93 L501.24,287.76 L501.71,288.71 L502.18,288.83 L502.66,287.55 L503.13,287.69 L503.6,288.51 L504.07,288.64 L504.54,288.97 L505.02,289.12 L505.49,287.67 L505.96,287.97 L506.43,288.27 L506.9,289.04 L507.38,288.68 L507.85,288.04 L508.32,288.9 L508.79,288.07 L509.26,288.46 L509.74,289.64 L510.21,287.76 L510.68,288.52 L511.15,289.35 L511.62,288.21 L512.1,288.94 L512.57,287.49 L513.04,288.26 L513.51,288.07 L513.98,287.33 L514.46,289.03 L514.93,287.86 L515.4,287.33 L515.87,287.58 L516.34,288.51 L516.82,287.64 L517.29,286.8 L517.76,288.41 L518.23,288.17 L518.7,287.41 L519.18,287.8 L519.65,287.9 L520.12,286.69 L520.59,288.16 L521.06,287.18 L521.54,288.49 L522.01,289.48 L522.48,287.71 L522.95,287.2 L523.42,287.93 L523.9,286.6 L524.37,287.59 L524.84,287.22 L525.31,287.4 L525.78,288.21 L526.26,286.78 L526.73,286.65 L527.2,286.66 L527.67,286.74 L528.14,286.67 L528.62,286.9 L529.09,286.66 L529.56,287.23 L530.03,287.86 L530.5,287.09 L530.98,286.79 L531.45,287.83" fill="none" stroke="#1f8f1f" stroke-width="1.2" stroke-linejoin="round"/>
<g fill="#1f8f1f"><rect x="352.15" y="237.85" width="1.2" height="1.2"/><rect x="352.22" y="245.44" width="1.2" height="1.2"/><rect x="352.3" y="243.31" width="1.2" height="1.2"/><rect x="352.38" y="243.15" width="1.2" height="1.2"/><rect x="352.45" y="236.26" width="1.2" height="1.2"/><rect x="352.53" y="242.1" width="1.2" height="1.2"/><rect x="352.6" y="238.51" width="1.2" height="1.2"/><rect x="352.68" y="237.35" width="1.2" height="1.2"/><rect x="352.75" y="240.87" width="1.2" height="1.2"/><rect x="352.83" y="244.74" width="1.2" height="1.2"/><rect x="352.9" y="241.89" width="1.2" height="1.2"/><rect x="352.98" y="239.73" width="1.2" height="1.2"/><rect x="353.06" y="243.06" width="1.2" height="1.2"/><rect x="353.13" y="240.41" width="1.2" height="1.2"/><rect x="353.21" y="245.57" width="1.2" height="1.2"/><rect x="353.28" y="248.11" width="1.2" height="1.2"/><rect x="353.36" y="245.37" width="1.2" height="1.2"/><rect x="353.43" y="243.07" width="1.2" height="1.2"/><rect x="353.51" y="249.4" width="1.2" height="1.2"/><rect x="353.58" y="243.57" width="1.2" height="1.2"/><rect x="353.66" y="246.64" width="1.2" height="1.2"/><rect x="353.73" y="249.98" width="1.2" height="1.2"/><rect x="353.81" y="244.05" width="1.2" height="1.2"/><rect x="353.89" y="240.38" width="1.2" height="1.2"/><rect x="353.96" y="250.41" width="1.2" height="1.2"/><rect x="354.04" y="237.31" width="1.2" height="1.2"/><rect x="354.11" y="245.57" width="1.2" height="1.2"/><rect x="354.19" y="249.02" width="1.2" height="1.2"/><rect x="354.26" y="245.3" width="1.2" height="1.2"/><rect x="354.34" y="252.91" width="1.2" height="1.2"/><rect x="354.41" y="246.17" width="1.2" height="1.2"/><rect x="354.49" y="246.79" width="1.2" height="1.2"/><rect x="354.57" y="255.61" width="1.2" height="1.2"/><rect x="354.64" y="254.52" width="1.2" height="1.2"/><rect x="354.72" y="251.79" width="1.2" height="1.2"/><rect x="354.79" y="249.54" width="1.2" height="1.2"/><rect x="354.87" y="247.27" width="1.2" height="1.2"/><rect x="354.94" y="249.58" width="1.2" height="1.2"/><rect x="355.02" y="251.93" width="1.2" height="1.2"/><rect x="355.09" y="246.93" width="1.2" height="1.2"/><rect x="355.17" y="247.64" width="1.2" height="1.2"/><rect x="355.25" y="249.38" width="1.2" height="1.2"/><rect x="355.32" y="251.17" width="1.2" height="1.2"/><rect x="355.4" y="253.74" width="1.2" height="1.2"/><rect x="355.47" y="250.58" width="1.2" height="1.2"/><rect x="355.55" y="244.87" width="1.2" height="1.2"/><rect x="355.62" y="248.46" width="1.2" height="1.2"/><rect x="355.7" y="246.65" width="1.2" height="1.2"/><rect x="355.77" y="255.63" width="1.2" height="1.2"/><rect x="355.85" y="249.96" width="1.2" height="1.2"/><rect x="355.92" y="255.24" width="1.2" height="1.2"/><rect x="356" y="249.34" width="1.2" height="1.2"/><rect x="356.08" y="250.11" width="1.2" height="1.2"/><rect x="356.15" y="250.21" width="1.2" height="1.2"/><rect x="356.23" y="247.38" width="1.2" height="1.2"/><rect x="356.3" y="253.15" width="1.2" height="1.2"/><rect x="356.38" y="247.89" width="1.2" height="1.2"/><rect x="356.45" y="251.71" width="1.2" height="1.2"/><rect x="356.53" y="254.54" width="1.2" height="1.2"/><rect x="356.6" y="253.52" width="1.2" height="1.2"/><rect x="356.68" y="250.08" width="1.2" height="1.2"/><rect x="356.76" y="254.82" width="1.2" height="1.2"/><rect x="356.83" y="250.58" width="1.2" height="1.2"/><rect x="356.91" y="252.35" width="1.2" height="1.2"/><rect x="356.98" y="255.57" width="1.2" height="1.2"/><rect x="357.06" y="262.33" width="1.2" height="1.2"/><rect x="357.13" y="253.75" width="1.2" height="1.2"/><rect x="357.21" y="250.77" width="1.2" height="1.2"/><rect x="357.28" y="255.85" width="1.2" height="1.2"/><rect x="357.36" y="251.54" width="1.2" height="1.2"/><rect x="357.44" y="257.48" width="1.2" height="1.2"/><rect x="357.51" y="250.53" width="1.2" height="1.2"/><rect x="357.59" y="249" width="1.2" height="1.2"/><rect x="357.66" y="253.91" width="1.2" height="1.2"/><rect x="357.74" y="253.25" width="1.2" height="1.2"/><rect x="357.81" y="259.69" width="1.2" height="1.2"/><rect x="357.89" y="250.19" width="1.2" height="1.2"/><rect x="357.96" y="257.8" width="1.2" height="1.2"/><rect x="358.04" y="253.38" width="1.2" height="1.2"/><rect x="358.11" y="248.59" width="1.2" height="1.2"/><rect x="358.19" y="254.5" width="1.2" height="1.2"/><rect x="358.27" y="254.97" width="1.2" height="1.2"/><rect x="358.34" y="254.47" width="1.2" height="1.2"/><rect x="358.42" y="258.36" width="1.2" height="1.2"/><rect x="358.49" y="258.5" width="1.2" height="1.2"/><rect x="358.57" y="252.46" width="1.2" height="1.2"/><rect x="358.64" y="259.28" width="1.2" height="1.2"/><rect x="358.72" y="258.09" width="1.2" height="1.2"/><rect x="358.79" y="261.76" width="1.2" height="1.2"/><rect x="358.87" y="256.58" width="1.2" height="1.2"/><rect x="358.95" y="260.89" width="1.2" height="1.2"/><rect x="359.02" y="258.21" width="1.2" height="1.2"/><rect x="359.1" y="258.64" width="1.2" height="1.2"/><rect x="359.17" y="258.06" width="1.2" height="1.2"/><rect x="359.25" y="260.44" width="1.2" height="1.2"/><rect x="359.32" y="259.15" width="1.2" height="1.2"/><rect x="359.4" y="254.41" width="1.2" height="1.2"/><rect x="359.47" y="255.22" width="1.2" height="1.2"/><rect x="359.55" y="256.53" width="1.2" height="1.2"/><rect x="359.63" y="256.91" width="1.2" height="1.2"/><rect x="359.7" y="264.47" width="1.2" height="1.2"/><rect x="359.78" y="259.75" width="1.2" height="1.2"/><rect x="359.85" y="258.18" width="1.2" height="1.2"/><rect x="359.93" y="258.38" width="1.2" height="1.2"/><rect x="360" y="257.48" width="1.2" height="1.2"/><rect x="360.08" y="263.99" width="1.2" height="1.2"/><rect x="360.15" y="258.27" width="1.2" height="1.2"/><rect x="360.23" y="261.75" width="1.2" height="1.2"/><rect x="360.3" y="259" width="1.2" height="1.2"/><rect x="360.38" y="254.42" width="1.2" height="1.2"/><rect x="360.46" y="258.4" width="1.2" height="1.2"/><rect x="360.53" y="260.56" width="1.2" height="1.2"/><rect x="360.61" y="263.53" width="1.2" height="1.2"/><rect x="360.68" y="257.41" width="1.2" height="1.2"/><rect x="360.76" y="267.54" width="1.2" height="1.2"/><rect x="360.83" y="263.67" width="1.2" height="1.2"/><rect x="360.91" y="269.49" width="1.2" height="1.2"/><rect x="360.98" y="261.92" width="1.2" height="1.2"/><rect x="361.06" y="264.15" width="1.2" height="1.2"/><rect x="361.14" y="263.41" width="1.2" height="1.2"/><rect x="361.21" y="265.19" width="1.2" height="1.2"/><rect x="361.29" y="255.08" width="1.2" height="1.2"/><rect x="361.36" y="259.22" width="1.2" height="1.2"/><rect x="361.44" y="259.56" width="1.2" height="1.2"/><rect x="361.51" y="264.55" width="1.2" height="1.2"/><rect x="361.59" y="259.67" width="1.2" height="1.2"/><rect x="361.66" y="262.56" width="1.2" height="1.2"/><rect x="361.74" y="263.78" width="1.2" height="1.2"/><rect x="361.82" y="268" width="1.2" height="1.2"/><rect x="361.89" y="262.57" width="1.2" height="1.2"/><rect x="361.97" y="271.87" width="1.2" height="1.2"/><rect x="362.04" y="265.78" width="1.2" height="1.2"/><rect x="362.12" y="271.08" width="1.2" height="1.2"/><rect x="362.19" y="262.09" width="1.2" height="1.2"/><rect x="362.27" y="261.61" width="1.2" height="1.2"/><rect x="362.34" y="260.7" width="1.2" height="1.2"/><rect x="362.42" y="268.52" width="1.2" height="1.2"/><rect x="362.5" y="260.32" width="1.2" height="1.2"/><rect x="362.57" y="257.24" width="1.2" height="1.2"/><rect x="362.65" y="265.96" width="1.2" height="1.2"/><rect x="362.72" y="267.38" width="1.2" height="1.2"/><rect x="362.8" y="266.49" width="1.2" height="1.2"/><rect x="362.87" y="266.55" width="1.2" height="1.2"/><rect x="362.95" y="261.64" width="1.2" height="1.2"/><rect x="363.02" y="266.78" width="1.2" height="1.2"/><rect x="363.1" y="263.5" width="1.2" height="1.2"/><rect x="363.17" y="265.07" width="1.2" height="1.2"/><rect x="363.25" y="268.36" width="1.2" height="1.2"/><rect x="363.33" y="265.09" width="1.2" height="1.2"/><rect x="363.4" y="265.23" width="1.2" height="1.2"/><rect x="363.48" y="264.96" width="1.2" height="1.2"/><rect x="363.55" y="264.55" width="1.2" height="1.2"/><rect x="363.63" y="266.75" width="1.2" height="1.2"/><rect x="363.7" y="264.36" width="1.2" height="1.2"/><rect x="363.78" y="271.83" width="1.2" height="1.2"/><rect x="363.85" y="267.79" width="1.2" height="1.2"/><rect x="363.93" y="261.73" width="1.2" height="1.2"/><rect x="364.01" y="265.15" width="1.2" height="1.2"/><rect x="364.08" y="267.35" width="1.2" height="1.2"/><rect x="364.16" y="269.1" width="1.2" height="1.2"/><rect x="364.23" y="268.69" width="1.2" height="1.2"/><rect x="364.31" y="267.18" width="1.2" height="1.2"/><rect x="364.38" y="273.07" width="1.2" height="1.2"/><rect x="364.46" y="268.16" width="1.2" height="1.2"/><rect x="364.53" y="267.73" width="1.2" height="1.2"/><rect x="364.61" y="274.45" width="1.2" height="1.2"/><rect x="364.69" y="273.21" width="1.2" height="1.2"/><rect x="364.76" y="267.76" width="1.2" height="1.2"/><rect x="364.84" y="268.58" width="1.2" height="1.2"/><rect x="364.91" y="261.27" width="1.2" height="1.2"/><rect x="364.99" y="260.7" width="1.2" height="1.2"/><rect x="365.06" y="277.95" width="1.2" height="1.2"/><rect x="365.14" y="270.21" width="1.2" height="1.2"/><rect x="365.21" y="263.87" width="1.2" height="1.2"/><rect x="365.29" y="266.85" width="1.2" height="1.2"/><rect x="365.36" y="263.22" width="1.2" height="1.2"/><rect x="365.44" y="263.95" width="1.2" height="1.2"/><rect x="365.52" y="268.71" width="1.2" height="1.2"/><rect x="365.59" y="264.51" width="1.2" height="1.2"/><rect x="365.67" y="268.69" width="1.2" height="1.2"/><rect x="365.74" y="272.82" width="1.2" height="1.2"/><rect x="365.82" y="268.16" width="1.2" height="1.2"/><rect x="365.89" y="264.3" width="1.2" height="1.2"/><rect x="365.97" y="265.93" width="1.2" height="1.2"/><rect x="366.04" y="270.21" width="1.2" height="1.2"/><rect x="366.12" y="264.04" width="1.2" height="1.2"/><rect x="366.12" y="264.37" width="1.2" height="1.2"/><rect x="366.4" y="264.65" width="1.2" height="1.2"/><rect x="366.69" y="276.1" width="1.2" height="1.2"/><rect x="366.97" y="272.82" width="1.2" height="1.2"/><rect x="367.25" y="272.41" width="1.2" height="1.2"/><rect x="367.54" y="272.99" width="1.2" height="1.2"/><rect x="367.82" y="278.1" width="1.2" height="1.2"/><rect x="368.1" y="273.19" width="1.2" height="1.2"/><rect x="368.39" y="267.62" width="1.2" height="1.2"/><rect x="368.67" y="275.28" width="1.2" height="1.2"/><rect x="368.95" y="264.67" width="1.2" height="1.2"/><rect x="369.24" y="275.78" width="1.2" height="1.2"/><rect x="369.52" y="271.28" width="1.2" height="1.2"/><rect x="369.8" y="273.59" width="1.2" height="1.2"/><rect x="370.08" y="277.28" width="1.2" height="1.2"/><rect x="370.37" y="272.55" width="1.2" height="1.2"/><rect x="370.65" y="273.07" width="1.2" height="1.2"/><rect x="370.93" y="274.15" width="1.2" height="1.2"/><rect x="371.22" y="269.98" width="1.2" height="1.2"/><rect x="371.5" y="271.61" width="1.2" height="1.2"/><rect x="371.78" y="279.81" width="1.2" height="1.2"/><rect x="372.07" y="270.21" width="1.2" height="1.2"/><rect x="372.35" y="277.99" width="1.2" height="1.2"/><rect x="372.63" y="281.59" width="1.2" height="1.2"/><rect x="372.92" y="272.45" width="1.2" height="1.2"/><rect x="373.2" y="271.57" width="1.2" height="1.2"/><rect x="373.48" y="278.7" width="1.2" height="1.2"/><rect x="373.77" y="275.66" width="1.2" height="1.2"/><rect x="374.05" y="278.39" width="1.2" height="1.2"/><rect x="374.33" y="274" width="1.2" height="1.2"/><rect x="374.62" y="277.98" width="1.2" height="1.2"/><rect x="374.9" y="275.59" width="1.2" height="1.2"/><rect x="375.18" y="280.87" width="1.2" height="1.2"/><rect x="375.47" y="274.81" width="1.2" height="1.2"/><rect x="375.75" y="276.68" width="1.2" height="1.2"/><rect x="376.03" y="268.19" width="1.2" height="1.2"/><rect x="376.32" y="272.51" width="1.2" height="1.2"/><rect x="376.6" y="279.13" width="1.2" height="1.2"/><rect x="376.88" y="281.65" width="1.2" height="1.2"/><rect x="377.16" y="274.97" width="1.2" height="1.2"/><rect x="377.45" y="280.48" width="1.2" height="1.2"/><rect x="377.73" y="275.04" width="1.2" height="1.2"/><rect x="378.01" y="274.09" width="1.2" height="1.2"/><rect x="378.3" y="272.64" width="1.2" height="1.2"/><rect x="378.58" y="272.68" width="1.2" height="1.2"/><rect x="378.86" y="273.77" width="1.2" height="1.2"/><rect x="379.15" y="278.03" width="1.2" height="1.2"/><rect x="379.43" y="278.19" width="1.2" height="1.2"/><rect x="379.71" y="277.43" width="1.2" height="1.2"/><rect x="380" y="272.62" width="1.2" height="1.2"/><rect x="380.28" y="279.46" width="1.2" height="1.2"/><rect x="380.56" y="278.21" width="1.2" height="1.2"/><rect x="380.85" y="275.36" width="1.2" height="1.2"/><rect x="381.13" y="282.45" width="1.2" height="1.2"/><rect x="381.41" y="279.64" width="1.2" height="1.2"/><rect x="381.7" y="278.23" width="1.2" height="1.2"/><rect x="381.98" y="279.77" width="1.2" height="1.2"/><rect x="382.26" y="280.23" width="1.2" height="1.2"/><rect x="382.55" y="277.05" width="1.2" height="1.2"/><rect x="382.83" y="281.63" width="1.2" height="1.2"/><rect x="383.11" y="276.54" width="1.2" height="1.2"/><rect x="383.4" y="279.48" width="1.2" height="1.2"/><rect x="383.68" y="283.85" width="1.2" height="1.2"/><rect x="383.96" y="287.92" width="1.2" height="1.2"/><rect x="384.24" y="281.96" width="1.2" height="1.2"/><rect x="384.53" y="276.86" width="1.2" height="1.2"/><rect x="384.81" y="279.05" width="1.2" height="1.2"/><rect x="385.09" y="280.34" width="1.2" height="1.2"/><rect x="385.38" y="278.56" width="1.2" height="1.2"/><rect x="385.66" y="277.01" width="1.2" height="1.2"/><rect x="385.94" y="279.15" width="1.2" height="1.2"/><rect x="386.23" y="281.64" width="1.2" height="1.2"/><rect x="386.51" y="273.61" width="1.2" height="1.2"/><rect x="386.79" y="278.27" width="1.2" height="1.2"/><rect x="387.08" y="276.49" width="1.2" height="1.2"/><rect x="387.36" y="280.1" width="1.2" height="1.2"/><rect x="387.64" y="277.34" width="1.2" height="1.2"/><rect x="387.93" y="274.3" width="1.2" height="1.2"/><rect x="388.21" y="280.84" width="1.2" height="1.2"/><rect x="388.49" y="278.37" width="1.2" height="1.2"/></g>
<path d="M389.38,282.05 L389.85,281.07 L390.32,282.6 L390.79,282.36 L391.26,283.18 L391.74,282.99 L392.21,282.81 L392.68,283.94 L393.15,284.53 L393.62,284.18 L394.1,284.75 L394.57,284.31 L395.04,285.37 L395.51,285.09 L395.98,284.43 L396.46,284.9 L396.93,285.73 L397.4,285.36 L397.87,285.1 L398.34,284.8 L398.82,285.88 L399.29,285.21 L399.76,285.88 L400.23,286.27 L400.7,284.65 L401.18,284.87 L401.65,284.8 L402.12,284.63 L402.59,285.3 L403.06,284.29 L403.54,284.51 L404.01,285.44 L404.48,285.21 L404.95,285.9 L405.42,286.08 L405.9,284.39 L406.37,284.4 L406.84,285.22 L407.31,284.28 L407.78,284.64 L408.26,285.48 L408.73,284.19 L409.2,284.2 L409.67,284.14 L410.14,284.92 L410.62,285.32 L411.09,284.19 L411.56,283.71 L412.03,282.32 L412.5,285.65 L412.98,284.67 L413.45,283.8 L413.92,284.04 L414.39,283.76 L414.86,285.24 L415.34,285.23 L415.81,284.07 L416.28,285.82 L416.75,284.9 L417.22,285.62 L417.7,284.59 L418.17,284.88 L418.64,283.85 L419.11,285.01 L419.58,284.06 L420.06,284.78 L420.53,285.26 L421,286.03 L421.47,284.85 L421.94,285.66 L422.42,284.26 L422.89,285.52 L423.36,285.21 L423.83,285.21 L424.3,287.3 L424.78,286.23 L425.25,285.82 L425.72,285.72 L426.19,286.17 L426.66,285.3 L427.14,285.71 L427.61,285.85 L428.08,285.71 L428.55,287.5 L429.02,286.12 L429.5,286.93 L429.97,287.81 L430.44,286.54 L430.91,286.23 L431.38,286.59 L431.86,286.92 L432.33,287.65 L432.8,286.28 L433.27,287.21 L433.74,287.91 L434.22,288.43 L434.69,287.89 L435.16,288.99 L435.63,287.44 L436.1,287.48 L436.58,288.38 L437.05,289.21 L437.52,288.77 L437.99,287.33 L438.46,287.49 L438.94,288.15 L439.41,287.61 L439.88,288.07 L440.35,289.03 L440.82,289.23 L441.3,288.42 L441.77,288.19 L442.24,290.29 L442.71,289 L443.18,289.69 L443.66,290.26 L444.13,289.56 L444.6,289.16 L445.07,289.06 L445.54,289.17 L446.02,288.92 L446.49,289.58 L446.96,290.07 L447.43,288.12 L447.9,288.09 L448.38,290.21 L448.85,290.12 L449.32,290.3 L449.79,289.49 L450.26,289.57 L450.74,290.1 L451.21,289.5 L451.68,289.46 L452.15,289.34 L452.62,289.68 L453.1,289.95 L453.57,289.64 L454.04,290.94 L454.51,289.88 L454.98,290.85 L455.46,289.58 L455.93,289.46 L456.4,289.77 L456.87,289.97 L457.34,287.76 L457.82,288.22 L458.29,288.39 L458.76,289.45 L459.23,288.59 L459.7,289.63 L460.18,288.58 L460.65,291.09 L461.12,288.79 L461.59,290.94 L462.06,289.28 L462.54,288.99 L463.01,287.79 L463.48,289.3 L463.95,289.75 L464.42,288.49 L464.9,288.26 L465.37,288.64 L465.84,289.3 L466.31,288.35 L466.78,289.96 L467.26,288.78 L467.73,289.4 L468.2,287.92 L468.67,289.55 L469.14,287.32 L469.62,286.99 L470.09,288.53 L470.56,289.8 L471.03,288.03 L471.5,288.82 L471.98,288.3 L472.45,287.84 L472.92,287.8 L473.39,287.96 L473.86,289.94 L474.34,288.17 L474.81,288.96 L475.28,287.75 L475.75,290.78 L476.22,289.01 L476.7,288.63 L477.17,289.62 L477.64,287.67 L478.11,287.22 L478.58,287.11 L479.06,288.04 L479.53,288.36 L480,286.55 L480.47,288.34 L480.94,285.96 L481.42,286.79 L481.89,287.91 L482.36,286.07 L482.83,286.2 L483.3,289.32 L483.78,287.24 L484.25,287.6 L484.72,287.47 L485.19,285.42 L485.66,285.9 L486.14,284.89 L486.61,286.03 L487.08,287.01 L487.55,287.72 L488.02,286.39 L488.5,286.19 L488.97,287.01 L489.44,287.21 L489.91,285.93 L490.38,286.57 L490.86,284.68 L491.33,287.11 L491.8,285.91 L492.27,286.17 L492.74,284.08 L493.22,286.63 L493.69,286.94 L494.16,286.07 L494.63,286.54 L495.1,284.85 L495.58,285.28 L496.05,285.71 L496.52,286.12 L496.99,288.42 L497.46,287.23 L497.94,286.5 L498.41,287.01 L498.88,285.17 L499.35,284.16 L499.82,286.44 L500.3,286.86 L500.77,285.63 L501.24,284 L501.71,285.88 L502.18,286.47 L502.66,285.17 L503.13,286.89 L503.6,286.61 L504.07,285.19 L504.54,286.61 L505.02,285.5 L505.49,285.58 L505.96,286.48 L506.43,284.72 L506.9,283.19 L507.38,284.62 L507.85,285.87 L508.32,285.54 L508.79,284.45 L509.26,285.33 L509.74,285.5 L510.21,285.67 L510.68,284.81 L511.15,284.66 L511.62,285.05 L512.1,284.17 L512.57,283.91 L513.04,283.23 L513.51,284.31 L513.98,284.18 L514.46,284.06 L514.93,284.85 L515.4,283.6 L515.87,286.22 L516.34,283.77 L516.82,284.86 L517.29,284.05 L517.76,282.88 L518.23,283 L518.7,282.27 L519.18,286.87 L519.65,283.16 L520.12,284.23 L520.59,282.7 L521.06,284.57 L521.54,283.36 L522.01,284.52 L522.48,284.2 L522.95,285.16 L523.42,283.63 L523.9,284.23 L524.37,284.12 L524.84,281.82 L525.31,284.39 L525.78,282.38 L526.26,283.73 L526.73,283.67 L527.2,283.18 L527.67,283.76 L528.14,280.65 L528.62,284.15 L529.09,283.54 L529.56,283.07 L530.03,282.01 L530.5,282.38 L530.98,282.48 L531.45,283.31" fill="none" stroke="#36ad36" stroke-width="1.2" stroke-linejoin="round"/>
<g fill="#36ad36"><rect x="352.15" y="189.04" width="1.2" height="1.2"/><rect x="352.3" y="184.6" width="1.2" height="1.2"/><rect x="352.38" y="180.22" width="1.2" height="1.2"/><rect x="352.45" y="180.17" width="1.2" height="1.2"/><rect x="352.53" y="184.72" width="1.2" height="1.2"/><rect x="352.6" y="181.36" width="1.2" height="1.2"/><rect x="352.68" y="179.62" width="1.2" height="1.2"/><rect x="352.75" y="188.72" width="1.2" height="1.2"/><rect x="352.83" y="175.68" width="1.2" height="1.2"/><rect x="352.9" y="183.5" width="1.2" height="1.2"/><rect x="352.98" y="187.95" width="1.2" height="1.2"/><rect x="353.06" y="187.37" width="1.2" height="1.2"/><rect x="353.13" y="177.91" width="1.2" height="1.2"/><rect x="353.21" y="175.77" width="1.2" height="1.2"/><rect x="353.28" y="191.11" width="1.2" height="1.2"/><rect x="353.36" y="184.73" width="1.2" height="1.2"/><rect x="353.43" y="192.24" width="1.2" height="1.2"/><rect x="353.51" y="195.64" width="1.2" height="1.2"/><rect x="353.58" y="189.57" width="1.2" height="1.2"/><rect x="353.66" y="186.88" width="1.2" height="1.2"/><rect x="353.73" y="176.9" width="1.2" height="1.2"/><rect x="353.81" y="197.06" width="1.2" height="1.2"/><rect x="353.89" y="199" width="1.2" height="1.2"/><rect x="353.96" y="206.03" width="1.2" height="1.2"/><rect x="354.04" y="201.74" width="1.2" height="1.2"/><rect x="354.11" y="188.73" width="1.2" height="1.2"/><rect x="354.19" y="189.72" width="1.2" height="1.2"/><rect x="354.26" y="181.39" width="1.2" height="1.2"/><rect x="354.34" y="187.88" width="1.2" height="1.2"/><rect x="354.41" y="195.85" width="1.2" height="1.2"/><rect x="354.49" y="190.79" width="1.2" height="1.2"/><rect x="354.57" y="186.03" width="1.2" height="1.2"/><rect x="354.64" y="207.22" width="1.2" height="1.2"/><rect x="354.72" y="210.1" width="1.2" height="1.2"/><rect x="354.79" y="194.89" width="1.2" height="1.2"/><rect x="354.87" y="194.14" width="1.2" height="1.2"/><rect x="354.94" y="210.99" width="1.2" height="1.2"/><rect x="355.02" y="201.49" width="1.2" height="1.2"/><rect x="355.09" y="207.47" width="1.2" height="1.2"/><rect x="355.17" y="197.27" width="1.2" height="1.2"/><rect x="355.25" y="190.37" width="1.2" height="1.2"/><rect x="355.32" y="194.24" width="1.2" height="1.2"/><rect x="355.4" y="192.22" width="1.2" height="1.2"/><rect x="355.47" y="204.23" width="1.2" height="1.2"/><rect x="355.55" y="206.42" width="1.2" height="1.2"/><rect x="355.62" y="195.08" width="1.2" height="1.2"/><rect x="355.7" y="206.83" width="1.2" height="1.2"/><rect x="355.77" y="202.36" width="1.2" height="1.2"/><rect x="355.85" y="199.2" width="1.2" height="1.2"/><rect x="355.92" y="211.58" width="1.2" height="1.2"/><rect x="356" y="219.54" width="1.2" height="1.2"/><rect x="356.08" y="196.51" width="1.2" height="1.2"/><rect x="356.15" y="206.16" width="1.2" height="1.2"/><rect x="356.23" y="199.94" width="1.2" height="1.2"/><rect x="356.3" y="202.91" width="1.2" height="1.2"/><rect x="356.38" y="217.78" width="1.2" height="1.2"/><rect x="356.45" y="205.19" width="1.2" height="1.2"/><rect x="356.53" y="211.44" width="1.2" height="1.2"/><rect x="356.6" y="209.64" width="1.2" height="1.2"/><rect x="356.68" y="212.12" width="1.2" height="1.2"/><rect x="356.76" y="208.83" width="1.2" height="1.2"/><rect x="356.83" y="206.88" width="1.2" height="1.2"/><rect x="356.91" y="215.02" width="1.2" height="1.2"/><rect x="356.98" y="205.32" width="1.2" height="1.2"/><rect x="357.06" y="196.91" width="1.2" height="1.2"/><rect x="357.13" y="211.77" width="1.2" height="1.2"/><rect x="357.21" y="200.81" width="1.2" height="1.2"/><rect x="357.28" y="212.36" width="1.2" height="1.2"/><rect x="357.36" y="214.67" width="1.2" height="1.2"/><rect x="357.44" y="218.37" width="1.2" height="1.2"/><rect x="357.51" y="203.86" width="1.2" height="1.2"/><rect x="357.59" y="214.05" width="1.2" height="1.2"/><rect x="357.66" y="219.03" width="1.2" height="1.2"/><rect x="357.74" y="206.59" width="1.2" height="1.2"/><rect x="357.81" y="216.25" width="1.2" height="1.2"/><rect x="357.89" y="212.72" width="1.2" height="1.2"/><rect x="357.96" y="227.24" width="1.2" height="1.2"/><rect x="358.04" y="221.08" width="1.2" height="1.2"/><rect x="358.11" y="218.21" width="1.2" height="1.2"/><rect x="358.19" y="212.1" width="1.2" height="1.2"/><rect x="358.27" y="212.89" width="1.2" height="1.2"/><rect x="358.34" y="215.45" width="1.2" height="1.2"/><rect x="358.42" y="221.12" width="1.2" height="1.2"/><rect x="358.49" y="208.44" width="1.2" height="1.2"/><rect x="358.57" y="219.52" width="1.2" height="1.2"/><rect x="358.64" y="220.02" width="1.2" height="1.2"/><rect x="358.72" y="228.79" width="1.2" height="1.2"/><rect x="358.79" y="213.31" width="1.2" height="1.2"/><rect x="358.87" y="213.16" width="1.2" height="1.2"/><rect x="358.95" y="211.48" width="1.2" height="1.2"/><rect x="359.02" y="224.9" width="1.2" height="1.2"/><rect x="359.1" y="211.47" width="1.2" height="1.2"/><rect x="359.17" y="218.13" width="1.2" height="1.2"/><rect x="359.25" y="234.87" width="1.2" height="1.2"/><rect x="359.32" y="220.47" width="1.2" height="1.2"/><rect x="359.4" y="225.4" width="1.2" height="1.2"/><rect x="359.47" y="218.31" width="1.2" height="1.2"/><rect x="359.55" y="229.41" width="1.2" height="1.2"/><rect x="359.63" y="232.02" width="1.2" height="1.2"/><rect x="359.7" y="225.66" width="1.2" height="1.2"/><rect x="359.78" y="206.88" width="1.2" height="1.2"/><rect x="359.85" y="227.03" width="1.2" height="1.2"/><rect x="359.93" y="228.66" width="1.2" height="1.2"/><rect x="360" y="231.06" width="1.2" height="1.2"/><rect x="360.08" y="236" width="1.2" height="1.2"/><rect x="360.15" y="231.63" width="1.2" height="1.2"/><rect x="360.23" y="220.9" width="1.2" height="1.2"/><rect x="360.3" y="235.7" width="1.2" height="1.2"/><rect x="360.38" y="230.97" width="1.2" height="1.2"/><rect x="360.46" y="229.94" width="1.2" height="1.2"/><rect x="360.53" y="223.31" width="1.2" height="1.2"/><rect x="360.61" y="228.11" width="1.2" height="1.2"/><rect x="360.68" y="230.49" width="1.2" height="1.2"/><rect x="360.76" y="214.41" width="1.2" height="1.2"/><rect x="360.83" y="217.55" width="1.2" height="1.2"/><rect x="360.91" y="224.5" width="1.2" height="1.2"/><rect x="360.98" y="235.06" width="1.2" height="1.2"/><rect x="361.06" y="229.11" width="1.2" height="1.2"/><rect x="361.14" y="243.35" width="1.2" height="1.2"/><rect x="361.21" y="242.53" width="1.2" height="1.2"/><rect x="361.29" y="236.33" width="1.2" height="1.2"/><rect x="361.36" y="231.5" width="1.2" height="1.2"/><rect x="361.44" y="228.04" width="1.2" height="1.2"/><rect x="361.51" y="233.81" width="1.2" height="1.2"/><rect x="361.59" y="241.89" width="1.2" height="1.2"/><rect x="361.66" y="233.04" width="1.2" height="1.2"/><rect x="361.74" y="233.3" width="1.2" height="1.2"/><rect x="361.82" y="228.55" width="1.2" height="1.2"/><rect x="361.89" y="226.45" width="1.2" height="1.2"/><rect x="361.97" y="229.13" width="1.2" height="1.2"/><rect x="362.04" y="224.36" width="1.2" height="1.2"/><rect x="362.12" y="229.96" width="1.2" height="1.2"/><rect x="362.19" y="233.48" width="1.2" height="1.2"/><rect x="362.27" y="227.12" width="1.2" height="1.2"/><rect x="362.34" y="231.74" width="1.2" height="1.2"/><rect x="362.42" y="245.56" width="1.2" height="1.2"/><rect x="362.5" y="229.64" width="1.2" height="1.2"/><rect x="362.57" y="230.94" width="1.2" height="1.2"/><rect x="362.65" y="242.12" width="1.2" height="1.2"/><rect x="362.72" y="229.59" width="1.2" height="1.2"/><rect x="362.8" y="244.26" width="1.2" height="1.2"/><rect x="362.87" y="222.13" width="1.2" height="1.2"/><rect x="362.95" y="252.28" width="1.2" height="1.2"/><rect x="363.02" y="234.14" width="1.2" height="1.2"/><rect x="363.1" y="241.73" width="1.2" height="1.2"/><rect x="363.17" y="239.76" width="1.2" height="1.2"/><rect x="363.25" y="232.97" width="1.2" height="1.2"/><rect x="363.33" y="232.88" width="1.2" height="1.2"/><rect x="363.4" y="231.93" width="1.2" height="1.2"/><rect x="363.48" y="229.74" width="1.2" height="1.2"/><rect x="363.55" y="245.88" width="1.2" height="1.2"/><rect x="363.63" y="240.17" width="1.2" height="1.2"/><rect x="363.7" y="241.16" width="1.2" height="1.2"/><rect x="363.78" y="238.93" width="1.2" height="1.2"/><rect x="363.85" y="253.71" width="1.2" height="1.2"/><rect x="363.93" y="231.98" width="1.2" height="1.2"/><rect x="364.01" y="236.58" width="1.2" height="1.2"/><rect x="364.08" y="234.66" width="1.2" height="1.2"/><rect x="364.16" y="237.27" width="1.2" height="1.2"/><rect x="364.23" y="245.83" width="1.2" height="1.2"/><rect x="364.31" y="247.42" width="1.2" height="1.2"/><rect x="364.38" y="245.98" width="1.2" height="1.2"/><rect x="364.46" y="252.71" width="1.2" height="1.2"/><rect x="364.53" y="247.87" width="1.2" height="1.2"/><rect x="364.61" y="244.57" width="1.2" height="1.2"/><rect x="364.69" y="241.67" width="1.2" height="1.2"/><rect x="364.76" y="247.14" width="1.2" height="1.2"/><rect x="364.84" y="230.42" width="1.2" height="1.2"/><rect x="364.91" y="247.51" width="1.2" height="1.2"/><rect x="364.99" y="242.1" width="1.2" height="1.2"/><rect x="365.06" y="242.16" width="1.2" height="1.2"/><rect x="365.14" y="254.4" width="1.2" height="1.2"/><rect x="365.21" y="242.04" width="1.2" height="1.2"/><rect x="365.29" y="257" width="1.2" height="1.2"/><rect x="365.36" y="248.61" width="1.2" height="1.2"/><rect x="365.44" y="249.71" width="1.2" height="1.2"/><rect x="365.52" y="248.76" width="1.2" height="1.2"/><rect x="365.59" y="242.06" width="1.2" height="1.2"/><rect x="365.67" y="236.37" width="1.2" height="1.2"/><rect x="365.74" y="244.24" width="1.2" height="1.2"/><rect x="365.82" y="240.99" width="1.2" height="1.2"/><rect x="365.89" y="250.05" width="1.2" height="1.2"/><rect x="365.97" y="252.59" width="1.2" height="1.2"/><rect x="366.04" y="245.72" width="1.2" height="1.2"/><rect x="366.12" y="253.72" width="1.2" height="1.2"/><rect x="366.12" y="245.58" width="1.2" height="1.2"/><rect x="366.4" y="240.44" width="1.2" height="1.2"/><rect x="366.69" y="239.38" width="1.2" height="1.2"/><rect x="366.97" y="239.33" width="1.2" height="1.2"/><rect x="367.25" y="257.16" width="1.2" height="1.2"/><rect x="367.54" y="246.05" width="1.2" height="1.2"/><rect x="367.82" y="249.69" width="1.2" height="1.2"/><rect x="368.1" y="253.42" width="1.2" height="1.2"/><rect x="368.39" y="259.44" width="1.2" height="1.2"/><rect x="368.67" y="252.12" width="1.2" height="1.2"/><rect x="368.95" y="245.19" width="1.2" height="1.2"/><rect x="369.24" y="253.67" width="1.2" height="1.2"/><rect x="369.52" y="255.96" width="1.2" height="1.2"/><rect x="369.8" y="245.2" width="1.2" height="1.2"/><rect x="370.08" y="257.37" width="1.2" height="1.2"/><rect x="370.37" y="256.59" width="1.2" height="1.2"/><rect x="370.65" y="246.05" width="1.2" height="1.2"/><rect x="370.93" y="244.79" width="1.2" height="1.2"/><rect x="371.22" y="258.02" width="1.2" height="1.2"/><rect x="371.5" y="260.08" width="1.2" height="1.2"/><rect x="371.78" y="263.11" width="1.2" height="1.2"/><rect x="372.07" y="265.44" width="1.2" height="1.2"/><rect x="372.35" y="264.03" width="1.2" height="1.2"/><rect x="372.63" y="255.49" width="1.2" height="1.2"/><rect x="372.92" y="255.7" width="1.2" height="1.2"/><rect x="373.2" y="265.79" width="1.2" height="1.2"/><rect x="373.48" y="263.74" width="1.2" height="1.2"/><rect x="373.77" y="262.23" width="1.2" height="1.2"/><rect x="374.05" y="263.57" width="1.2" height="1.2"/><rect x="374.33" y="267.5" width="1.2" height="1.2"/><rect x="374.62" y="269.97" width="1.2" height="1.2"/><rect x="374.9" y="272.49" width="1.2" height="1.2"/><rect x="375.18" y="265.54" width="1.2" height="1.2"/><rect x="375.47" y="265.26" width="1.2" height="1.2"/><rect x="375.75" y="266.85" width="1.2" height="1.2"/><rect x="376.03" y="264.64" width="1.2" height="1.2"/><rect x="376.32" y="268.94" width="1.2" height="1.2"/><rect x="376.6" y="269.21" width="1.2" height="1.2"/><rect x="376.88" y="277.56" width="1.2" height="1.2"/><rect x="377.16" y="262.59" width="1.2" height="1.2"/><rect x="377.45" y="273.8" width="1.2" height="1.2"/><rect x="377.73" y="266.5" width="1.2" height="1.2"/><rect x="378.01" y="263.94" width="1.2" height="1.2"/><rect x="378.3" y="269.75" width="1.2" height="1.2"/><rect x="378.58" y="268.51" width="1.2" height="1.2"/><rect x="378.86" y="270.7" width="1.2" height="1.2"/><rect x="379.15" y="269.17" width="1.2" height="1.2"/><rect x="379.43" y="272.39" width="1.2" height="1.2"/><rect x="379.71" y="277.92" width="1.2" height="1.2"/><rect x="380" y="273.17" width="1.2" height="1.2"/><rect x="380.28" y="279.79" width="1.2" height="1.2"/><rect x="380.56" y="271.44" width="1.2" height="1.2"/><rect x="380.85" y="272.84" width="1.2" height="1.2"/><rect x="381.13" y="269.84" width="1.2" height="1.2"/><rect x="381.41" y="276.95" width="1.2" height="1.2"/><rect x="381.7" y="279.64" width="1.2" height="1.2"/><rect x="381.98" y="273.75" width="1.2" height="1.2"/><rect x="382.26" y="276.56" width="1.2" height="1.2"/><rect x="382.55" y="276.91" width="1.2" height="1.2"/><rect x="382.83" y="279.6" width="1.2" height="1.2"/><rect x="383.11" y="279.11" width="1.2" height="1.2"/><rect x="383.4" y="273.6" width="1.2" height="1.2"/><rect x="383.68" y="277.04" width="1.2" height="1.2"/><rect x="383.96" y="276.09" width="1.2" height="1.2"/><rect x="384.24" y="269.54" width="1.2" height="1.2"/><rect x="384.53" y="272.68" width="1.2" height="1.2"/><rect x="384.81" y="277.22" width="1.2" height="1.2"/><rect x="385.09" y="273.4" width="1.2" height="1.2"/><rect x="385.38" y="281.02" width="1.2" height="1.2"/><rect x="385.66" y="281.84" width="1.2" height="1.2"/><rect x="385.94" y="277.86" width="1.2" height="1.2"/><rect x="386.23" y="277.29" width="1.2" height="1.2"/><rect x="386.51" y="278.39" width="1.2" height="1.2"/><rect x="386.79" y="271.82" width="1.2" height="1.2"/><rect x="387.08" y="284.7" width="1.2" height="1.2"/><rect x="387.36" y="276.38" width="1.2" height="1.2"/><rect x="387.64" y="278.07" width="1.2" height="1.2"/><rect x="387.93" y="277.15" width="1.2" height="1.2"/><rect x="388.21" y="282.3" width="1.2" height="1.2"/><rect x="388.49" y="284.01" width="1.2" height="1.2"/></g>
<path d="M389.38,280.28 L389.85,280.86 L390.32,281.89 L390.79,282.89 L391.26,283.06 L391.74,282.91 L392.21,283.87 L392.68,283.92 L393.15,284.41 L393.62,285.09 L394.1,285.36 L394.57,286.95 L395.04,286.76 L395.51,286.5 L395.98,287.36 L396.46,288.06 L396.93,287.68 L397.4,288.57 L397.87,287.49 L398.34,287.99 L398.82,288.58 L399.29,288.32 L399.76,289 L400.23,288.1 L400.7,289.44 L401.18,288.32 L401.65,289.15 L402.12,289.13 L402.59,289.69 L403.06,289.53 L403.54,289.07 L404.01,289.47 L404.48,289.64 L404.95,288.34 L405.42,290.07 L405.9,289.87 L406.37,290.27 L406.84,290.69 L407.31,289.47 L407.78,289.42 L408.26,290.12 L408.73,290.35 L409.2,289.31 L409.67,290.11 L410.14,288.57 L410.62,288.79 L411.09,289.38 L411.56,289.78 L412.03,289.3 L412.5,290.61 L412.98,289.2 L413.45,288.73 L413.92,290.59 L414.39,289.87 L414.86,289.19 L415.34,289.66 L415.81,289.88 L416.28,288.82 L416.75,289.5 L417.22,289.1 L417.7,289.93 L418.17,289.63 L418.64,290.42 L419.11,290.66 L419.58,290.26 L420.06,289.45 L420.53,289.07 L421,290.4 L421.47,289 L421.94,290.11 L422.42,290.51 L422.89,289.54 L423.36,289.49 L423.83,290.05 L424.3,289.65 L424.78,289.47 L425.25,289.43 L425.72,289.96 L426.19,290.12 L426.66,287.95 L427.14,289.39 L427.61,290.3 L428.08,289.51 L428.55,289.38 L429.02,289.32 L429.5,290.68 L429.97,289.94 L430.44,289.46 L430.91,289.21 L431.38,288.99 L431.86,289.65 L432.33,290.28 L432.8,288.52 L433.27,290.39 L433.74,289.75 L434.22,289.09 L434.69,289.84 L435.16,288.92 L435.63,289.43 L436.1,289.32 L436.58,288.98 L437.05,289.6 L437.52,290.62 L437.99,289.18 L438.46,289.36 L438.94,289.63 L439.41,289.59 L439.88,290.09 L440.35,290.25 L440.82,289.38 L441.3,290.3 L441.77,289.3 L442.24,290.02 L442.71,290.08 L443.18,290.4 L443.66,290.1 L444.13,289.72 L444.6,289.74 L445.07,289.68 L445.54,289.41 L446.02,290.03 L446.49,289.78 L446.96,290.17 L447.43,289.26 L447.9,289.16 L448.38,289.45 L448.85,288.79 L449.32,290.12 L449.79,290.22 L450.26,289.83 L450.74,288.37 L451.21,289.42 L451.68,289.47 L452.15,289.75 L452.62,289.14 L453.1,289.47 L453.57,289.01 L454.04,289.29 L454.51,288.84 L454.98,290.81 L455.46,289.96 L455.93,289.74 L456.4,290.6 L456.87,290.19 L457.34,288.59 L457.82,288.95 L458.29,288.24 L458.76,290.24 L459.23,288.02 L459.7,289.72 L460.18,288.35 L460.65,289.45 L461.12,287.93 L461.59,288.62 L462.06,289.14 L462.54,289 L463.01,288.42 L463.48,286.83 L463.95,289.25 L464.42,287.43 L464.9,288.02 L465.37,287.85 L465.84,287.49 L466.31,287.22 L466.78,288.19 L467.26,288.26 L467.73,288.51 L468.2,287.03 L468.67,286.56 L469.14,286.56 L469.62,287.18 L470.09,287.43 L470.56,288.04 L471.03,286.91 L471.5,287.64 L471.98,287.85 L472.45,287.86 L472.92,288.29 L473.39,286.75 L473.86,286.98 L474.34,285.58 L474.81,287.02 L475.28,284.18 L475.75,286.33 L476.22,286.94 L476.7,285.74 L477.17,286.75 L477.64,285.22 L478.11,287.07 L478.58,287.39 L479.06,283.85 L479.53,285.47 L480,285.56 L480.47,286.43 L480.94,286.44 L481.42,286.06 L481.89,285.39 L482.36,285.35 L482.83,287.18 L483.3,284.29 L483.78,284.81 L484.25,284.3 L484.72,286.48 L485.19,285.46 L485.66,285.65 L486.14,285.11 L486.61,286.74 L487.08,284.09 L487.55,285.35 L488.02,287.33 L488.5,284.16 L488.97,285.55 L489.44,283.58 L489.91,286.26 L490.38,284.93 L490.86,285.75 L491.33,283.8 L491.8,285.36 L492.27,285.34 L492.74,284.82 L493.22,284.81 L493.69,282.91 L494.16,284.31 L494.63,284.21 L495.1,283.67 L495.58,283.54 L496.05,283.47 L496.52,283.95 L496.99,283.82 L497.46,283.79 L497.94,283.31 L498.41,283.31 L498.88,281.94 L499.35,284.22 L499.82,284.19 L500.3,282.94 L500.77,282.68 L501.24,281.87 L501.71,282.19 L502.18,282.25 L502.66,280.68 L503.13,281.5 L503.6,283.14 L504.07,281.94 L504.54,283.06 L505.02,282.06 L505.49,282.59 L505.96,282.5 L506.43,282.82 L506.9,281.87 L507.38,281.46 L507.85,281.28 L508.32,281.51 L508.79,281.69 L509.26,281.23 L509.74,280.34 L510.21,282.21 L510.68,282.74 L511.15,281.42 L511.62,281.48 L512.1,280.1 L512.57,279.94 L513.04,279.58 L513.51,282.15 L513.98,279.9 L514.46,279.24 L514.93,279.91 L515.4,279.05 L515.87,279.47 L516.34,280.38 L516.82,279.04 L517.29,279.76 L517.76,281.46 L518.23,279.38 L518.7,280.93 L519.18,280.11 L519.65,281.74 L520.12,280.36 L520.59,279.02 L521.06,279.91 L521.54,281.27 L522.01,280.55 L522.48,278.16 L522.95,279.6 L523.42,278.62 L523.9,277.38 L524.37,278.74 L524.84,278.72 L525.31,277.29 L525.78,280.82 L526.26,278.39 L526.73,278.37 L527.2,277.97 L527.67,278.05 L528.14,278.79 L528.62,279.34 L529.09,276.93 L529.56,277.47 L530.03,279.78 L530.5,278.94 L530.98,277.24 L531.45,277.4" fill="none" stroke="#66c666" stroke-width="1.2" stroke-linejoin="round"/>
<g fill="#66c666"><rect x="352.22" y="169.31" width="1.2" height="1.2"/><rect x="352.3" y="172.73" width="1.2" height="1.2"/><rect x="352.38" y="169.45" width="1.2" height="1.2"/><rect x="352.45" y="167.67" width="1.2" height="1.2"/><rect x="352.6" y="181.25" width="1.2" height="1.2"/><rect x="352.68" y="170.64" width="1.2" height="1.2"/><rect x="352.75" y="180.4" width="1.2" height="1.2"/><rect x="352.9" y="172.95" width="1.2" height="1.2"/><rect x="353.06" y="185.92" width="1.2" height="1.2"/><rect x="353.13" y="169.87" width="1.2" height="1.2"/><rect x="353.21" y="170.97" width="1.2" height="1.2"/><rect x="353.28" y="169.4" width="1.2" height="1.2"/><rect x="353.43" y="170.37" width="1.2" height="1.2"/><rect x="353.58" y="175.1" width="1.2" height="1.2"/><rect x="353.66" y="184.64" width="1.2" height="1.2"/><rect x="353.73" y="172.76" width="1.2" height="1.2"/><rect x="353.81" y="173.41" width="1.2" height="1.2"/><rect x="353.89" y="183.25" width="1.2" height="1.2"/><rect x="353.96" y="176.86" width="1.2" height="1.2"/><rect x="354.04" y="177.97" width="1.2" height="1.2"/><rect x="354.11" y="185.29" width="1.2" height="1.2"/><rect x="354.19" y="187.26" width="1.2" height="1.2"/><rect x="354.26" y="169.23" width="1.2" height="1.2"/><rect x="354.34" y="179.2" width="1.2" height="1.2"/><rect x="354.41" y="178.53" width="1.2" height="1.2"/><rect x="354.49" y="173.6" width="1.2" height="1.2"/><rect x="354.57" y="190.66" width="1.2" height="1.2"/><rect x="354.64" y="186.61" width="1.2" height="1.2"/><rect x="354.72" y="181.24" width="1.2" height="1.2"/><rect x="354.79" y="176.68" width="1.2" height="1.2"/><rect x="354.87" y="182.31" width="1.2" height="1.2"/><rect x="354.94" y="185.59" width="1.2" height="1.2"/><rect x="355.02" y="185.75" width="1.2" height="1.2"/><rect x="355.09" y="186.34" width="1.2" height="1.2"/><rect x="355.17" y="182.31" width="1.2" height="1.2"/><rect x="355.25" y="200.19" width="1.2" height="1.2"/><rect x="355.32" y="176.13" width="1.2" height="1.2"/><rect x="355.4" y="195.21" width="1.2" height="1.2"/><rect x="355.47" y="188.6" width="1.2" height="1.2"/><rect x="355.55" y="185.61" width="1.2" height="1.2"/><rect x="355.62" y="197.56" width="1.2" height="1.2"/><rect x="355.7" y="197.42" width="1.2" height="1.2"/><rect x="355.77" y="191.54" width="1.2" height="1.2"/><rect x="355.85" y="193.22" width="1.2" height="1.2"/><rect x="355.92" y="189.93" width="1.2" height="1.2"/><rect x="356" y="193.2" width="1.2" height="1.2"/><rect x="356.08" y="188.93" width="1.2" height="1.2"/><rect x="356.15" y="190.52" width="1.2" height="1.2"/><rect x="356.23" y="198.89" width="1.2" height="1.2"/><rect x="356.3" y="195.57" width="1.2" height="1.2"/><rect x="356.38" y="192.54" width="1.2" height="1.2"/><rect x="356.45" y="201.94" width="1.2" height="1.2"/><rect x="356.53" y="205.7" width="1.2" height="1.2"/><rect x="356.6" y="198.84" width="1.2" height="1.2"/><rect x="356.68" y="199.69" width="1.2" height="1.2"/><rect x="356.76" y="205.85" width="1.2" height="1.2"/><rect x="356.83" y="204.38" width="1.2" height="1.2"/><rect x="356.91" y="185.74" width="1.2" height="1.2"/><rect x="356.98" y="194.36" width="1.2" height="1.2"/><rect x="357.06" y="198.06" width="1.2" height="1.2"/><rect x="357.13" y="188.22" width="1.2" height="1.2"/><rect x="357.21" y="188.36" width="1.2" height="1.2"/><rect x="357.28" y="201.05" width="1.2" height="1.2"/><rect x="357.36" y="184.93" width="1.2" height="1.2"/><rect x="357.44" y="207.45" width="1.2" height="1.2"/><rect x="357.51" y="214.74" width="1.2" height="1.2"/><rect x="357.59" y="207.47" width="1.2" height="1.2"/><rect x="357.66" y="196.76" width="1.2" height="1.2"/><rect x="357.74" y="199.42" width="1.2" height="1.2"/><rect x="357.81" y="186.39" width="1.2" height="1.2"/><rect x="357.89" y="190.1" width="1.2" height="1.2"/><rect x="357.96" y="202.33" width="1.2" height="1.2"/><rect x="358.04" y="209.31" width="1.2" height="1.2"/><rect x="358.11" y="212.13" width="1.2" height="1.2"/><rect x="358.19" y="198.54" width="1.2" height="1.2"/><rect x="358.27" y="210.87" width="1.2" height="1.2"/><rect x="358.34" y="204.42" width="1.2" height="1.2"/><rect x="358.42" y="207.6" width="1.2" height="1.2"/><rect x="358.49" y="202.17" width="1.2" height="1.2"/><rect x="358.57" y="190.86" width="1.2" height="1.2"/><rect x="358.64" y="204.97" width="1.2" height="1.2"/><rect x="358.72" y="194.27" width="1.2" height="1.2"/><rect x="358.79" y="209.45" width="1.2" height="1.2"/><rect x="358.87" y="216.92" width="1.2" height="1.2"/><rect x="358.95" y="201.45" width="1.2" height="1.2"/><rect x="359.02" y="229.18" width="1.2" height="1.2"/><rect x="359.1" y="205.01" width="1.2" height="1.2"/><rect x="359.17" y="214.14" width="1.2" height="1.2"/><rect x="359.25" y="213.29" width="1.2" height="1.2"/><rect x="359.32" y="218.35" width="1.2" height="1.2"/><rect x="359.4" y="211.02" width="1.2" height="1.2"/><rect x="359.47" y="217.67" width="1.2" height="1.2"/><rect x="359.55" y="218.65" width="1.2" height="1.2"/><rect x="359.63" y="211.95" width="1.2" height="1.2"/><rect x="359.7" y="205.21" width="1.2" height="1.2"/><rect x="359.78" y="210.29" width="1.2" height="1.2"/><rect x="359.85" y="210.15" width="1.2" height="1.2"/><rect x="359.93" y="222.62" width="1.2" height="1.2"/><rect x="360" y="211.16" width="1.2" height="1.2"/><rect x="360.08" y="215.72" width="1.2" height="1.2"/><rect x="360.15" y="212.19" width="1.2" height="1.2"/><rect x="360.23" y="216.06" width="1.2" height="1.2"/><rect x="360.3" y="222.8" width="1.2" height="1.2"/><rect x="360.38" y="214.61" width="1.2" height="1.2"/><rect x="360.46" y="226.66" width="1.2" height="1.2"/><rect x="360.53" y="211.29" width="1.2" height="1.2"/><rect x="360.61" y="204.79" width="1.2" height="1.2"/><rect x="360.68" y="210.16" width="1.2" height="1.2"/><rect x="360.76" y="229.14" width="1.2" height="1.2"/><rect x="360.83" y="223.18" width="1.2" height="1.2"/><rect x="360.91" y="216.54" width="1.2" height="1.2"/><rect x="360.98" y="221.22" width="1.2" height="1.2"/><rect x="361.06" y="219.84" width="1.2" height="1.2"/><rect x="361.14" y="216.89" width="1.2" height="1.2"/><rect x="361.21" y="227.55" width="1.2" height="1.2"/><rect x="361.29" y="217.48" width="1.2" height="1.2"/><rect x="361.36" y="216.35" width="1.2" height="1.2"/><rect x="361.44" y="215.25" width="1.2" height="1.2"/><rect x="361.51" y="228.87" width="1.2" height="1.2"/><rect x="361.59" y="219.02" width="1.2" height="1.2"/><rect x="361.66" y="220.84" width="1.2" height="1.2"/><rect x="361.74" y="216.35" width="1.2" height="1.2"/><rect x="361.82" y="233.89" width="1.2" height="1.2"/><rect x="361.89" y="229.48" width="1.2" height="1.2"/><rect x="361.97" y="229.07" width="1.2" height="1.2"/><rect x="362.04" y="218.83" width="1.2" height="1.2"/><rect x="362.12" y="230.32" width="1.2" height="1.2"/><rect x="362.19" y="236.47" width="1.2" height="1.2"/><rect x="362.27" y="230.8" width="1.2" height="1.2"/><rect x="362.34" y="220.22" width="1.2" height="1.2"/><rect x="362.42" y="211.35" width="1.2" height="1.2"/><rect x="362.5" y="215.61" width="1.2" height="1.2"/><rect x="362.57" y="220.52" width="1.2" height="1.2"/><rect x="362.65" y="235.53" width="1.2" height="1.2"/><rect x="362.72" y="224" width="1.2" height="1.2"/><rect x="362.8" y="225.96" width="1.2" height="1.2"/><rect x="362.87" y="221.97" width="1.2" height="1.2"/><rect x="362.95" y="227.76" width="1.2" height="1.2"/><rect x="363.02" y="224.11" width="1.2" height="1.2"/><rect x="363.1" y="234.97" width="1.2" height="1.2"/><rect x="363.17" y="229.19" width="1.2" height="1.2"/><rect x="363.25" y="231.94" width="1.2" height="1.2"/><rect x="363.33" y="219.16" width="1.2" height="1.2"/><rect x="363.4" y="243.42" width="1.2" height="1.2"/><rect x="363.48" y="239.52" width="1.2" height="1.2"/><rect x="363.55" y="227.38" width="1.2" height="1.2"/><rect x="363.63" y="232.48" width="1.2" height="1.2"/><rect x="363.7" y="217.21" width="1.2" height="1.2"/><rect x="363.78" y="227.51" width="1.2" height="1.2"/><rect x="363.85" y="230.31" width="1.2" height="1.2"/><rect x="363.93" y="235.57" width="1.2" height="1.2"/><rect x="364.01" y="228.8" width="1.2" height="1.2"/><rect x="364.08" y="226.14" width="1.2" height="1.2"/><rect x="364.16" y="233.12" width="1.2" height="1.2"/><rect x="364.23" y="231.66" width="1.2" height="1.2"/><rect x="364.31" y="230.25" width="1.2" height="1.2"/><rect x="364.38" y="251.33" width="1.2" height="1.2"/><rect x="364.46" y="247.67" width="1.2" height="1.2"/><rect x="364.53" y="228.18" width="1.2" height="1.2"/><rect x="364.61" y="228.24" width="1.2" height="1.2"/><rect x="364.69" y="231.25" width="1.2" height="1.2"/><rect x="364.76" y="232.56" width="1.2" height="1.2"/><rect x="364.84" y="230.3" width="1.2" height="1.2"/><rect x="364.91" y="238.75" width="1.2" height="1.2"/><rect x="364.99" y="238.23" width="1.2" height="1.2"/><rect x="365.06" y="231.03" width="1.2" height="1.2"/><rect x="365.14" y="242.31" width="1.2" height="1.2"/><rect x="365.21" y="234.7" width="1.2" height="1.2"/><rect x="365.29" y="232.06" width="1.2" height="1.2"/><rect x="365.36" y="240.88" width="1.2" height="1.2"/><rect x="365.44" y="226.17" width="1.2" height="1.2"/><rect x="365.52" y="232.18" width="1.2" height="1.2"/><rect x="365.59" y="235.34" width="1.2" height="1.2"/><rect x="365.67" y="241.19" width="1.2" height="1.2"/><rect x="365.74" y="228.63" width="1.2" height="1.2"/><rect x="365.82" y="240.96" width="1.2" height="1.2"/><rect x="365.89" y="225.82" width="1.2" height="1.2"/><rect x="365.97" y="224.77" width="1.2" height="1.2"/><rect x="366.04" y="238.95" width="1.2" height="1.2"/><rect x="366.12" y="229.9" width="1.2" height="1.2"/><rect x="366.12" y="221.14" width="1.2" height="1.2"/><rect x="366.4" y="233.68" width="1.2" height="1.2"/><rect x="366.69" y="238.78" width="1.2" height="1.2"/><rect x="366.97" y="233.11" width="1.2" height="1.2"/><rect x="367.25" y="241.48" width="1.2" height="1.2"/><rect x="367.54" y="238.17" width="1.2" height="1.2"/><rect x="367.82" y="249.95" width="1.2" height="1.2"/><rect x="368.1" y="245.96" width="1.2" height="1.2"/><rect x="368.39" y="241.11" width="1.2" height="1.2"/><rect x="368.67" y="243.67" width="1.2" height="1.2"/><rect x="368.95" y="246.25" width="1.2" height="1.2"/><rect x="369.24" y="252.01" width="1.2" height="1.2"/><rect x="369.52" y="252.42" width="1.2" height="1.2"/><rect x="369.8" y="244.92" width="1.2" height="1.2"/><rect x="370.08" y="248.74" width="1.2" height="1.2"/><rect x="370.37" y="245.62" width="1.2" height="1.2"/><rect x="370.65" y="251.93" width="1.2" height="1.2"/><rect x="370.93" y="253.65" width="1.2" height="1.2"/><rect x="371.22" y="256.79" width="1.2" height="1.2"/><rect x="371.5" y="246.14" width="1.2" height="1.2"/><rect x="371.78" y="255.48" width="1.2" height="1.2"/><rect x="372.07" y="258.88" width="1.2" height="1.2"/><rect x="372.35" y="246.39" width="1.2" height="1.2"/><rect x="372.63" y="259.19" width="1.2" height="1.2"/><rect x="372.92" y="252.62" width="1.2" height="1.2"/><rect x="373.2" y="251.05" width="1.2" height="1.2"/><rect x="373.48" y="251.11" width="1.2" height="1.2"/><rect x="373.77" y="264.41" width="1.2" height="1.2"/><rect x="374.05" y="259.91" width="1.2" height="1.2"/><rect x="374.33" y="257.17" width="1.2" height="1.2"/><rect x="374.62" y="259.34" width="1.2" height="1.2"/><rect x="374.9" y="261.85" width="1.2" height="1.2"/><rect x="375.18" y="253.53" width="1.2" height="1.2"/><rect x="375.47" y="263.81" width="1.2" height="1.2"/><rect x="375.75" y="267.63" width="1.2" height="1.2"/><rect x="376.03" y="263.94" width="1.2" height="1.2"/><rect x="376.32" y="266.51" width="1.2" height="1.2"/><rect x="376.6" y="263.88" width="1.2" height="1.2"/><rect x="376.88" y="265.78" width="1.2" height="1.2"/><rect x="377.16" y="266.65" width="1.2" height="1.2"/><rect x="377.45" y="271.11" width="1.2" height="1.2"/><rect x="377.73" y="256.35" width="1.2" height="1.2"/><rect x="378.01" y="266.27" width="1.2" height="1.2"/><rect x="378.3" y="270.16" width="1.2" height="1.2"/><rect x="378.58" y="268.86" width="1.2" height="1.2"/><rect x="378.86" y="270.79" width="1.2" height="1.2"/><rect x="379.15" y="264.45" width="1.2" height="1.2"/><rect x="379.43" y="270.29" width="1.2" height="1.2"/><rect x="379.71" y="272.72" width="1.2" height="1.2"/><rect x="380" y="266.26" width="1.2" height="1.2"/><rect x="380.28" y="269.43" width="1.2" height="1.2"/><rect x="380.56" y="260.45" width="1.2" height="1.2"/><rect x="380.85" y="275.85" width="1.2" height="1.2"/><rect x="381.13" y="279.59" width="1.2" height="1.2"/><rect x="381.41" y="268.64" width="1.2" height="1.2"/><rect x="381.7" y="272.61" width="1.2" height="1.2"/><rect x="381.98" y="266.54" width="1.2" height="1.2"/><rect x="382.26" y="273.1" width="1.2" height="1.2"/><rect x="382.55" y="268.33" width="1.2" height="1.2"/><rect x="382.83" y="276.52" width="1.2" height="1.2"/><rect x="383.11" y="269.96" width="1.2" height="1.2"/><rect x="383.4" y="278.74" width="1.2" height="1.2"/><rect x="383.68" y="283.4" width="1.2" height="1.2"/><rect x="383.96" y="278.49" width="1.2" height="1.2"/><rect x="384.24" y="278.08" width="1.2" height="1.2"/><rect x="384.53" y="269.41" width="1.2" height="1.2"/><rect x="384.81" y="276.11" width="1.2" height="1.2"/><rect x="385.09" y="273.16" width="1.2" height="1.2"/><rect x="385.38" y="273.46" width="1.2" height="1.2"/><rect x="385.66" y="284.54" width="1.2" height="1.2"/><rect x="385.94" y="273.37" width="1.2" height="1.2"/><rect x="386.23" y="278.7" width="1.2" height="1.2"/><rect x="386.51" y="275.36" width="1.2" height="1.2"/><rect x="386.79" y="276.29" width="1.2" height="1.2"/><rect x="387.08" y="279.78" width="1.2" height="1.2"/><rect x="387.36" y="275.93" width="1.2" height="1.2"/><rect x="387.64" y="283.32" width="1.2" height="1.2"/><rect x="387.93" y="284.82" width="1.2" height="1.2"/><rect x="388.21" y="275.5" width="1.2" height="1.2"/><rect x="388.49" y="282.53" width="1.2" height="1.2"/></g>
<rect x="353.0" y="166.9" width="178.3" height="124.5" fill="none" stroke="#5f5f5f" stroke-width="1.2"/>
<line x1="353" y1="260.27" x2="354.8" y2="260.27" stroke="#5f5f5f" stroke-width="1.2"/>
<line x1="531.3" y1="260.27" x2="529.5" y2="260.27" stroke="#5f5f5f" stroke-width="1.2"/>
<line x1="353" y1="229.15" x2="356.2" y2="229.15" stroke="#5f5f5f" stroke-width="1.2"/>
<line x1="531.3" y1="229.15" x2="528.1" y2="229.15" stroke="#5f5f5f" stroke-width="1.2"/>
<line x1="353" y1="198.02" x2="354.8" y2="198.02" stroke="#5f5f5f" stroke-width="1.2"/>
<line x1="531.3" y1="198.02" x2="529.5" y2="198.02" stroke="#5f5f5f" stroke-width="1.2"/>
<line x1="362" y1="291.4" x2="362" y2="288.2" stroke="#5f5f5f" stroke-width="1.2"/>
<line x1="362" y1="166.9" x2="362" y2="170.1" stroke="#5f5f5f" stroke-width="1.2"/>
<line x1="371.44" y1="291.4" x2="371.44" y2="289.6" stroke="#5f5f5f" stroke-width="1.2"/>
<line x1="371.44" y1="166.9" x2="371.44" y2="168.7" stroke="#5f5f5f" stroke-width="1.2"/>
<line x1="380.88" y1="291.4" x2="380.88" y2="289.6" stroke="#5f5f5f" stroke-width="1.2"/>
<line x1="380.88" y1="166.9" x2="380.88" y2="168.7" stroke="#5f5f5f" stroke-width="1.2"/>
<line x1="390.32" y1="291.4" x2="390.32" y2="289.6" stroke="#5f5f5f" stroke-width="1.2"/>
<line x1="390.32" y1="166.9" x2="390.32" y2="168.7" stroke="#5f5f5f" stroke-width="1.2"/>
<line x1="399.76" y1="291.4" x2="399.76" y2="289.6" stroke="#5f5f5f" stroke-width="1.2"/>
<line x1="399.76" y1="166.9" x2="399.76" y2="168.7" stroke="#5f5f5f" stroke-width="1.2"/>
<line x1="409.2" y1="291.4" x2="409.2" y2="288.2" stroke="#5f5f5f" stroke-width="1.2"/>
<line x1="409.2" y1="166.9" x2="409.2" y2="170.1" stroke="#5f5f5f" stroke-width="1.2"/>
<line x1="418.64" y1="291.4" x2="418.64" y2="289.6" stroke="#5f5f5f" stroke-width="1.2"/>
<line x1="418.64" y1="166.9" x2="418.64" y2="168.7" stroke="#5f5f5f" stroke-width="1.2"/>
<line x1="428.08" y1="291.4" x2="428.08" y2="289.6" stroke="#5f5f5f" stroke-width="1.2"/>
<line x1="428.08" y1="166.9" x2="428.08" y2="168.7" stroke="#5f5f5f" stroke-width="1.2"/>
<line x1="437.52" y1="291.4" x2="437.52" y2="289.6" stroke="#5f5f5f" stroke-width="1.2"/>
<line x1="437.52" y1="166.9" x2="437.52" y2="168.7" stroke="#5f5f5f" stroke-width="1.2"/>
<line x1="446.96" y1="291.4" x2="446.96" y2="289.6" stroke="#5f5f5f" stroke-width="1.2"/>
<line x1="446.96" y1="166.9" x2="446.96" y2="168.7" stroke="#5f5f5f" stroke-width="1.2"/>
<line x1="456.4" y1="291.4" x2="456.4" y2="288.2" stroke="#5f5f5f" stroke-width="1.2"/>
<line x1="456.4" y1="166.9" x2="456.4" y2="170.1" stroke="#5f5f5f" stroke-width="1.2"/>
<line x1="465.84" y1="291.4" x2="465.84" y2="289.6" stroke="#5f5f5f" stroke-width="1.2"/>
<line x1="465.84" y1="166.9" x2="465.84" y2="168.7" stroke="#5f5f5f" stroke-width="1.2"/>
<line x1="475.28" y1="291.4" x2="475.28" y2="289.6" stroke="#5f5f5f" stroke-width="1.2"/>
<line x1="475.28" y1="166.9" x2="475.28" y2="168.7" stroke="#5f5f5f" stroke-width="1.2"/>
<line x1="484.72" y1="291.4" x2="484.72" y2="289.6" stroke="#5f5f5f" stroke-width="1.2"/>
<line x1="484.72" y1="166.9" x2="484.72" y2="168.7" stroke="#5f5f5f" stroke-width="1.2"/>
<line x1="494.16" y1="291.4" x2="494.16" y2="289.6" stroke="#5f5f5f" stroke-width="1.2"/>
<line x1="494.16" y1="166.9" x2="494.16" y2="168.7" stroke="#5f5f5f" stroke-width="1.2"/>
<line x1="503.6" y1="291.4" x2="503.6" y2="288.2" stroke="#5f5f5f" stroke-width="1.2"/>
<line x1="503.6" y1="166.9" x2="503.6" y2="170.1" stroke="#5f5f5f" stroke-width="1.2"/>
<line x1="513.04" y1="291.4" x2="513.04" y2="289.6" stroke="#5f5f5f" stroke-width="1.2"/>
<line x1="513.04" y1="166.9" x2="513.04" y2="168.7" stroke="#5f5f5f" stroke-width="1.2"/>
<line x1="522.48" y1="291.4" x2="522.48" y2="289.6" stroke="#5f5f5f" stroke-width="1.2"/>
<line x1="522.48" y1="166.9" x2="522.48" y2="168.7" stroke="#5f5f5f" stroke-width="1.2"/>
<text transform="translate(350,294.6) scale(0.9,1)" font-size="10.6" text-anchor="end">0.0</text>
<text transform="translate(350,232.35) scale(0.9,1)" font-size="10.6" text-anchor="end">0.1</text>
<text transform="translate(350,170.1) scale(0.9,1)" font-size="10.6" text-anchor="end">0.2</text>
<text transform="translate(362,302.6) scale(0.9,1)" font-size="10.6" text-anchor="middle">200</text>
<text transform="translate(409.2,302.6) scale(0.9,1)" font-size="10.6" text-anchor="middle">250</text>
<text transform="translate(456.4,302.6) scale(0.9,1)" font-size="10.6" text-anchor="middle">300</text>
<text transform="translate(503.6,302.6) scale(0.9,1)" font-size="10.6" text-anchor="middle">350</text>
<text x="442.5" y="319.4" font-size="9.7" text-anchor="middle" font-weight="bold" font-style="normal" fill="#000" >Wavelength (nm)</text>
<text transform="translate(327.8,228.0) rotate(-90)" font-size="10.0" font-weight="bold" text-anchor="middle">Absorbance (O.D.)</text>
<text x="360.7" y="183.9" font-size="12.4" text-anchor="start" font-weight="bold" font-style="normal" fill="#000" style="stroke-width:0.1px">c</text>
<text x="468.2" y="182.8" font-size="8.0" text-anchor="start" font-weight="bold" font-style="normal" fill="#000" >Experimental</text>
<circle cx="457.2" cy="189.9" r="1.45" fill="#0c4a0c"/>
<text x="468.4" y="192.85" font-size="8.35"><tspan font-style="italic">t</tspan>= 50 - 55 s</text>
<circle cx="457.2" cy="199.97" r="1.45" fill="#1f8f1f"/>
<text x="468.4" y="202.92" font-size="8.35"><tspan font-style="italic">t</tspan>= 150 - 155 s</text>
<circle cx="457.2" cy="210.04" r="1.45" fill="#36ad36"/>
<text x="468.4" y="212.99" font-size="8.35"><tspan font-style="italic">t</tspan>= 250 - 255 s</text>
<circle cx="457.2" cy="220.11" r="1.45" fill="#66c666"/>
<text x="468.4" y="223.06" font-size="8.35"><tspan font-style="italic">t</tspan>= 350 - 355 s</text>
</svg></body></html>
